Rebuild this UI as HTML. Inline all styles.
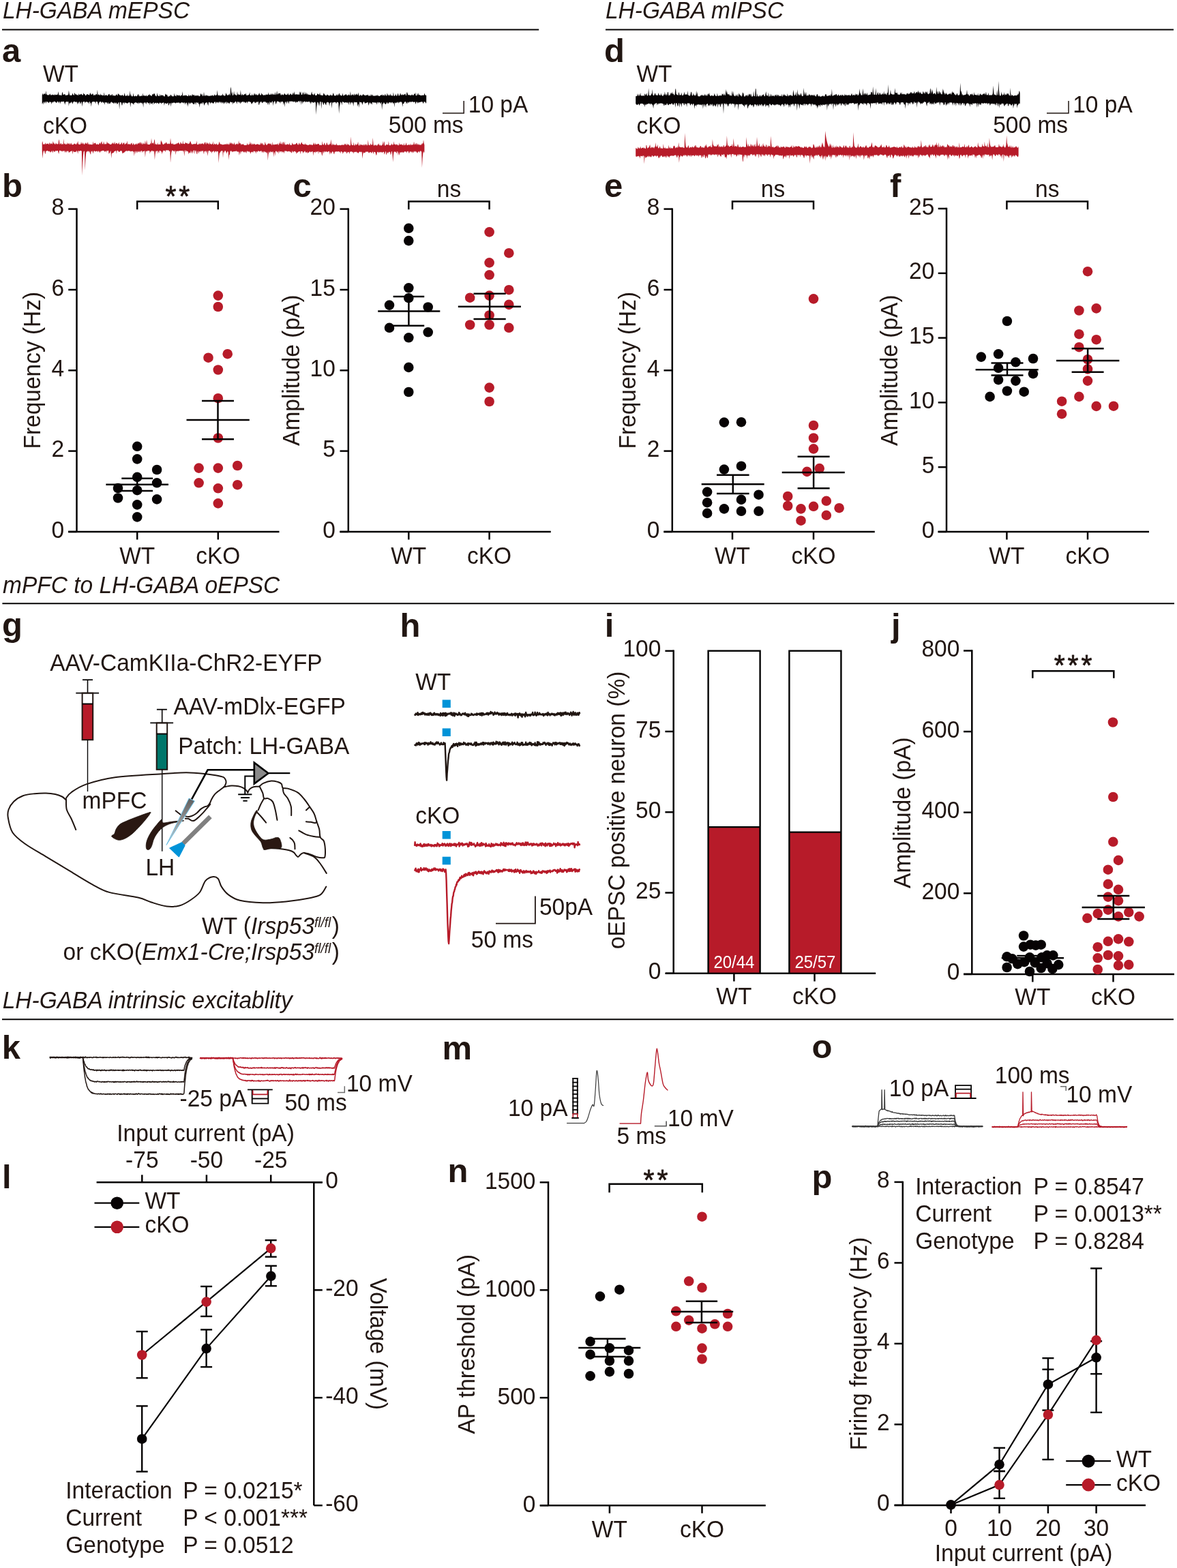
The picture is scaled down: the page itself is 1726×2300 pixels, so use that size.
<!DOCTYPE html>
<html><head><meta charset="utf-8"><title>Figure</title><style>html,body{margin:0;padding:0;background:#fff;overflow:hidden;}svg{display:block;}</style></head><body>
<svg width="1726" height="2300" viewBox="0 0 1726 2300" font-family="'Liberation Sans', Arial, Helvetica, sans-serif" font-size="33.5" fill="#211612">
<rect width="1726" height="2300" fill="#fff"/>
<text transform="translate(3.9 26.7) scale(1 1.045)" font-style="italic">LH-GABA mEPSC</text>
<line x1="3" y1="43.5" x2="790.2" y2="43.5" stroke="#050303" stroke-width="2"/>
<text transform="translate(888 26.7) scale(1 1.045)" font-style="italic">LH-GABA mIPSC</text>
<line x1="888" y1="43.5" x2="1721" y2="43.5" stroke="#050303" stroke-width="2"/>
<text transform="translate(4 870) scale(1 1.045)" font-style="italic">mPFC to LH-GABA oEPSC</text>
<line x1="3.4" y1="885.3" x2="1722" y2="885.3" stroke="#050303" stroke-width="2"/>
<text transform="translate(3.7 1478.5) scale(1 1.045)" font-style="italic">LH-GABA intrinsic excitablity</text>
<line x1="3" y1="1495.3" x2="1721" y2="1495.3" stroke="#050303" stroke-width="2"/>
<text transform="translate(3 91.2) scale(1 1.0)" font-weight="bold" font-size="49">a</text>
<text transform="translate(3 288.6) scale(1 1.0)" font-weight="bold" font-size="49">b</text>
<text transform="translate(429.5 288.6) scale(1 1.0)" font-weight="bold" font-size="49">c</text>
<text transform="translate(886 91.3) scale(1 1.0)" font-weight="bold" font-size="49">d</text>
<text transform="translate(886 288.6) scale(1 1.0)" font-weight="bold" font-size="49">e</text>
<text transform="translate(1305 288.6) scale(1 1.0)" font-weight="bold" font-size="49">f</text>
<text transform="translate(3 933.4) scale(1 1.0)" font-weight="bold" font-size="49">g</text>
<text transform="translate(586.5 934.3) scale(1 1.0)" font-weight="bold" font-size="49">h</text>
<text transform="translate(886.7 933.5) scale(1 1.0)" font-weight="bold" font-size="49">i</text>
<text transform="translate(1307 933.5) scale(1 1.0)" font-weight="bold" font-size="49">j</text>
<text transform="translate(2.8 1553.4) scale(1 1.0)" font-weight="bold" font-size="49">k</text>
<text transform="translate(3 1743.4) scale(1 1.0)" font-weight="bold" font-size="49">l</text>
<text transform="translate(648.5 1553.5) scale(1 1.0)" font-weight="bold" font-size="49">m</text>
<text transform="translate(656.5 1734.1) scale(1 1.0)" font-weight="bold" font-size="49">n</text>
<text transform="translate(1190.5 1552) scale(1 1.0)" font-weight="bold" font-size="49">o</text>
<text transform="translate(1190.5 1742.8) scale(1 1.0)" font-weight="bold" font-size="49">p</text>
<line x1="112.5" y1="305.4" x2="112.5" y2="780" stroke="#050303" stroke-width="2.5"/>
<line x1="100.2" y1="780" x2="112.5" y2="780" stroke="#050303" stroke-width="2.5"/>
<text transform="translate(94.1 788.5) scale(1 1.045)" text-anchor="end">0</text>
<line x1="100.2" y1="661.6" x2="112.5" y2="661.6" stroke="#050303" stroke-width="2.5"/>
<text transform="translate(94.1 670.1) scale(1 1.045)" text-anchor="end">2</text>
<line x1="100.2" y1="543.3" x2="112.5" y2="543.3" stroke="#050303" stroke-width="2.5"/>
<text transform="translate(94.1 551.8) scale(1 1.045)" text-anchor="end">4</text>
<line x1="100.2" y1="425" x2="112.5" y2="425" stroke="#050303" stroke-width="2.5"/>
<text transform="translate(94.1 433.5) scale(1 1.045)" text-anchor="end">6</text>
<line x1="100.2" y1="306.6" x2="112.5" y2="306.6" stroke="#050303" stroke-width="2.5"/>
<text transform="translate(94.1 315.1) scale(1 1.045)" text-anchor="end">8</text>
<line x1="100" y1="780" x2="409.5" y2="780" stroke="#050303" stroke-width="2.5"/>
<line x1="201.2" y1="780" x2="201.2" y2="791.5" stroke="#050303" stroke-width="2.5"/>
<line x1="319.8" y1="780" x2="319.8" y2="791.5" stroke="#050303" stroke-width="2.5"/>
<text transform="translate(201.2 826.7) scale(1 1.045)" text-anchor="middle">WT</text>
<text transform="translate(319.8 826.7) scale(1 1.045)" text-anchor="middle">cKO</text>
<text transform="translate(58.6 543.2) rotate(-90) scale(1 1.045)" text-anchor="middle">Frequency (Hz)</text>
<polyline points="201.2,307.3 201.2,295.5 319.8,295.5 319.8,307.3" fill="none" stroke="#050303" stroke-width="2.5" stroke-linejoin="miter"/>
<text transform="translate(262.3 302.1) scale(1 1.045)" text-anchor="middle" font-size="41" letter-spacing="3.9" stroke="#211612" stroke-width="0.75" stroke-linejoin="round">**</text>
<circle cx="201.2" cy="654.8" r="7.3" fill="#070304"/>
<circle cx="201.2" cy="673.4" r="7.3" fill="#070304"/>
<circle cx="230.1" cy="689" r="7.3" fill="#070304"/>
<circle cx="201.2" cy="699.9" r="7.3" fill="#070304"/>
<circle cx="230.1" cy="708.3" r="7.3" fill="#070304"/>
<circle cx="173" cy="716" r="7.3" fill="#070304"/>
<circle cx="201.2" cy="719.2" r="7.3" fill="#070304"/>
<circle cx="173" cy="730.5" r="7.3" fill="#070304"/>
<circle cx="230.1" cy="732.4" r="7.3" fill="#070304"/>
<circle cx="201.2" cy="740.4" r="7.3" fill="#070304"/>
<circle cx="201.2" cy="758.4" r="7.3" fill="#070304"/>
<circle cx="319.8" cy="433.6" r="7.3" fill="#B71B29"/>
<circle cx="319.8" cy="450" r="7.3" fill="#B71B29"/>
<circle cx="305.5" cy="524.7" r="7.3" fill="#B71B29"/>
<circle cx="333.7" cy="519.2" r="7.3" fill="#B71B29"/>
<circle cx="319.8" cy="542.5" r="7.3" fill="#B71B29"/>
<circle cx="319.8" cy="584.2" r="7.3" fill="#B71B29"/>
<circle cx="319.8" cy="642.5" r="7.3" fill="#B71B29"/>
<circle cx="291.6" cy="686.6" r="7.3" fill="#B71B29"/>
<circle cx="319.8" cy="686.6" r="7.3" fill="#B71B29"/>
<circle cx="348.2" cy="683" r="7.3" fill="#B71B29"/>
<circle cx="291.6" cy="708.3" r="7.3" fill="#B71B29"/>
<circle cx="319.8" cy="716.3" r="7.3" fill="#B71B29"/>
<circle cx="348.2" cy="711.2" r="7.3" fill="#B71B29"/>
<circle cx="319.8" cy="738.4" r="7.3" fill="#B71B29"/>
<line x1="155.4" y1="710.7" x2="247" y2="710.7" stroke="#050303" stroke-width="2.5"/>
<line x1="178.3" y1="701.8" x2="224.1" y2="701.8" stroke="#050303" stroke-width="2.5"/>
<line x1="178.3" y1="719.9" x2="224.1" y2="719.9" stroke="#050303" stroke-width="2.5"/>
<line x1="201.2" y1="701.8" x2="201.2" y2="719.9" stroke="#050303" stroke-width="2.5"/>
<line x1="273.5" y1="616" x2="365.8" y2="616" stroke="#050303" stroke-width="2.5"/>
<line x1="296" y1="588" x2="343" y2="588" stroke="#050303" stroke-width="2.5"/>
<line x1="296" y1="644.2" x2="343" y2="644.2" stroke="#050303" stroke-width="2.5"/>
<line x1="319.5" y1="588" x2="319.5" y2="644.2" stroke="#050303" stroke-width="2.5"/>
<line x1="510.8" y1="305.4" x2="510.8" y2="780" stroke="#050303" stroke-width="2.5"/>
<line x1="498.5" y1="780" x2="510.8" y2="780" stroke="#050303" stroke-width="2.5"/>
<text transform="translate(491.8 788.5) scale(1 1.045)" text-anchor="end">0</text>
<line x1="498.5" y1="661.6" x2="510.8" y2="661.6" stroke="#050303" stroke-width="2.5"/>
<text transform="translate(491.8 670.1) scale(1 1.045)" text-anchor="end">5</text>
<line x1="498.5" y1="543.3" x2="510.8" y2="543.3" stroke="#050303" stroke-width="2.5"/>
<text transform="translate(491.8 551.8) scale(1 1.045)" text-anchor="end">10</text>
<line x1="498.5" y1="425" x2="510.8" y2="425" stroke="#050303" stroke-width="2.5"/>
<text transform="translate(491.8 433.5) scale(1 1.045)" text-anchor="end">15</text>
<line x1="498.5" y1="306.6" x2="510.8" y2="306.6" stroke="#050303" stroke-width="2.5"/>
<text transform="translate(491.8 315.1) scale(1 1.045)" text-anchor="end">20</text>
<line x1="498.3" y1="780" x2="807.8" y2="780" stroke="#050303" stroke-width="2.5"/>
<line x1="599.3" y1="780" x2="599.3" y2="791.5" stroke="#050303" stroke-width="2.5"/>
<line x1="717.6" y1="780" x2="717.6" y2="791.5" stroke="#050303" stroke-width="2.5"/>
<text transform="translate(599.3 826.7) scale(1 1.045)" text-anchor="middle">WT</text>
<text transform="translate(717.6 826.7) scale(1 1.045)" text-anchor="middle">cKO</text>
<text transform="translate(439.1 543.2) rotate(-90) scale(1 1.045)" text-anchor="middle">Amplitude (pA)</text>
<polyline points="599.3,307.3 599.3,295.5 717.6,295.5 717.6,307.3" fill="none" stroke="#050303" stroke-width="2.5" stroke-linejoin="miter"/>
<text transform="translate(658.5 288.6) scale(1 1.045)" text-anchor="middle">ns</text>
<circle cx="599.3" cy="334.8" r="7.3" fill="#070304"/>
<circle cx="599.3" cy="353.1" r="7.3" fill="#070304"/>
<circle cx="599.3" cy="422.3" r="7.3" fill="#070304"/>
<circle cx="599.3" cy="437.2" r="7.3" fill="#070304"/>
<circle cx="571" cy="447.6" r="7.3" fill="#070304"/>
<circle cx="627.7" cy="450.5" r="7.3" fill="#070304"/>
<circle cx="571" cy="480.8" r="7.3" fill="#070304"/>
<circle cx="627.7" cy="487.3" r="7.3" fill="#070304"/>
<circle cx="599.3" cy="495.3" r="7.3" fill="#070304"/>
<circle cx="599.3" cy="538.9" r="7.3" fill="#070304"/>
<circle cx="599.3" cy="575" r="7.3" fill="#070304"/>
<circle cx="717.6" cy="340.4" r="7.3" fill="#B71B29"/>
<circle cx="746.3" cy="371.2" r="7.3" fill="#B71B29"/>
<circle cx="717.6" cy="385.4" r="7.3" fill="#B71B29"/>
<circle cx="717.6" cy="403.3" r="7.3" fill="#B71B29"/>
<circle cx="746.3" cy="425.2" r="7.3" fill="#B71B29"/>
<circle cx="689.2" cy="436.7" r="7.3" fill="#B71B29"/>
<circle cx="717.6" cy="433.6" r="7.3" fill="#B71B29"/>
<circle cx="746.3" cy="446.9" r="7.3" fill="#B71B29"/>
<circle cx="717.6" cy="462.5" r="7.3" fill="#B71B29"/>
<circle cx="689.2" cy="476.5" r="7.3" fill="#B71B29"/>
<circle cx="717.6" cy="476.5" r="7.3" fill="#B71B29"/>
<circle cx="746.3" cy="480.8" r="7.3" fill="#B71B29"/>
<circle cx="717.6" cy="568.6" r="7.3" fill="#B71B29"/>
<circle cx="717.6" cy="589" r="7.3" fill="#B71B29"/>
<line x1="554.2" y1="456.5" x2="645.3" y2="456.5" stroke="#050303" stroke-width="2.5"/>
<line x1="576.6" y1="435" x2="622.2" y2="435" stroke="#050303" stroke-width="2.5"/>
<line x1="576.6" y1="477.7" x2="622.2" y2="477.7" stroke="#050303" stroke-width="2.5"/>
<line x1="599.4" y1="435" x2="599.4" y2="477.7" stroke="#050303" stroke-width="2.5"/>
<line x1="671.8" y1="449.8" x2="763.9" y2="449.8" stroke="#050303" stroke-width="2.5"/>
<line x1="694.5" y1="430.7" x2="741.7" y2="430.7" stroke="#050303" stroke-width="2.5"/>
<line x1="694.5" y1="468" x2="741.7" y2="468" stroke="#050303" stroke-width="2.5"/>
<line x1="718.1" y1="430.7" x2="718.1" y2="468" stroke="#050303" stroke-width="2.5"/>
<line x1="985.8" y1="305.4" x2="985.8" y2="780" stroke="#050303" stroke-width="2.5"/>
<line x1="973.5" y1="780" x2="985.8" y2="780" stroke="#050303" stroke-width="2.5"/>
<text transform="translate(967.3 788.5) scale(1 1.045)" text-anchor="end">0</text>
<line x1="973.5" y1="661.6" x2="985.8" y2="661.6" stroke="#050303" stroke-width="2.5"/>
<text transform="translate(967.3 670.1) scale(1 1.045)" text-anchor="end">2</text>
<line x1="973.5" y1="543.3" x2="985.8" y2="543.3" stroke="#050303" stroke-width="2.5"/>
<text transform="translate(967.3 551.8) scale(1 1.045)" text-anchor="end">4</text>
<line x1="973.5" y1="425" x2="985.8" y2="425" stroke="#050303" stroke-width="2.5"/>
<text transform="translate(967.3 433.5) scale(1 1.045)" text-anchor="end">6</text>
<line x1="973.5" y1="306.6" x2="985.8" y2="306.6" stroke="#050303" stroke-width="2.5"/>
<text transform="translate(967.3 315.1) scale(1 1.045)" text-anchor="end">8</text>
<line x1="973.3" y1="780" x2="1282.8" y2="780" stroke="#050303" stroke-width="2.5"/>
<line x1="1074" y1="780" x2="1074" y2="791.5" stroke="#050303" stroke-width="2.5"/>
<line x1="1193" y1="780" x2="1193" y2="791.5" stroke="#050303" stroke-width="2.5"/>
<text transform="translate(1074 826.7) scale(1 1.045)" text-anchor="middle">WT</text>
<text transform="translate(1193 826.7) scale(1 1.045)" text-anchor="middle">cKO</text>
<text transform="translate(932.3 543.2) rotate(-90) scale(1 1.045)" text-anchor="middle">Frequency (Hz)</text>
<polyline points="1074,307.3 1074,295.5 1193,295.5 1193,307.3" fill="none" stroke="#050303" stroke-width="2.5" stroke-linejoin="miter"/>
<text transform="translate(1133.5 288.6) scale(1 1.045)" text-anchor="middle">ns</text>
<circle cx="1061.9" cy="619.6" r="7.3" fill="#070304"/>
<circle cx="1087" cy="619.2" r="7.3" fill="#070304"/>
<circle cx="1087" cy="683.7" r="7.3" fill="#070304"/>
<circle cx="1061.9" cy="688.6" r="7.3" fill="#070304"/>
<circle cx="1037.1" cy="721.6" r="7.3" fill="#070304"/>
<circle cx="1112.5" cy="725.7" r="7.3" fill="#070304"/>
<circle cx="1087" cy="732.9" r="7.3" fill="#070304"/>
<circle cx="1037.1" cy="737.2" r="7.3" fill="#070304"/>
<circle cx="1061.9" cy="746.4" r="7.3" fill="#070304"/>
<circle cx="1087" cy="749.8" r="7.3" fill="#070304"/>
<circle cx="1112.5" cy="749.8" r="7.3" fill="#070304"/>
<circle cx="1037.1" cy="752.9" r="7.3" fill="#070304"/>
<circle cx="1193" cy="438.4" r="7.3" fill="#B71B29"/>
<circle cx="1193" cy="624" r="7.3" fill="#B71B29"/>
<circle cx="1193" cy="642.5" r="7.3" fill="#B71B29"/>
<circle cx="1193" cy="658.4" r="7.3" fill="#B71B29"/>
<circle cx="1201.7" cy="687.1" r="7.3" fill="#B71B29"/>
<circle cx="1183.4" cy="691.9" r="7.3" fill="#B71B29"/>
<circle cx="1155.2" cy="728" r="7.3" fill="#B71B29"/>
<circle cx="1155.2" cy="742" r="7.3" fill="#B71B29"/>
<circle cx="1211.8" cy="734.8" r="7.3" fill="#B71B29"/>
<circle cx="1193" cy="742.8" r="7.3" fill="#B71B29"/>
<circle cx="1174.5" cy="746.4" r="7.3" fill="#B71B29"/>
<circle cx="1230.6" cy="745.2" r="7.3" fill="#B71B29"/>
<circle cx="1211.8" cy="755.8" r="7.3" fill="#B71B29"/>
<circle cx="1174.5" cy="763.7" r="7.3" fill="#B71B29"/>
<line x1="1028.7" y1="710.2" x2="1120.7" y2="710.2" stroke="#050303" stroke-width="2.5"/>
<line x1="1051" y1="696.7" x2="1098.6" y2="696.7" stroke="#050303" stroke-width="2.5"/>
<line x1="1051" y1="724" x2="1098.6" y2="724" stroke="#050303" stroke-width="2.5"/>
<line x1="1074.8" y1="696.7" x2="1074.8" y2="724" stroke="#050303" stroke-width="2.5"/>
<line x1="1146.7" y1="693.1" x2="1238.8" y2="693.1" stroke="#050303" stroke-width="2.5"/>
<line x1="1169.6" y1="669.8" x2="1216.6" y2="669.8" stroke="#050303" stroke-width="2.5"/>
<line x1="1169.6" y1="716.3" x2="1216.6" y2="716.3" stroke="#050303" stroke-width="2.5"/>
<line x1="1193.1" y1="669.8" x2="1193.1" y2="716.3" stroke="#050303" stroke-width="2.5"/>
<line x1="1388" y1="304.8" x2="1388" y2="780" stroke="#050303" stroke-width="2.5"/>
<line x1="1375.7" y1="780" x2="1388" y2="780" stroke="#050303" stroke-width="2.5"/>
<text transform="translate(1370.3 788.5) scale(1 1.045)" text-anchor="end">0</text>
<line x1="1375.7" y1="685.2" x2="1388" y2="685.2" stroke="#050303" stroke-width="2.5"/>
<text transform="translate(1370.3 693.7) scale(1 1.045)" text-anchor="end">5</text>
<line x1="1375.7" y1="590.4" x2="1388" y2="590.4" stroke="#050303" stroke-width="2.5"/>
<text transform="translate(1370.3 598.9) scale(1 1.045)" text-anchor="end">10</text>
<line x1="1375.7" y1="495.6" x2="1388" y2="495.6" stroke="#050303" stroke-width="2.5"/>
<text transform="translate(1370.3 504.1) scale(1 1.045)" text-anchor="end">15</text>
<line x1="1375.7" y1="400.8" x2="1388" y2="400.8" stroke="#050303" stroke-width="2.5"/>
<text transform="translate(1370.3 409.3) scale(1 1.045)" text-anchor="end">20</text>
<line x1="1375.7" y1="306" x2="1388" y2="306" stroke="#050303" stroke-width="2.5"/>
<text transform="translate(1370.3 314.5) scale(1 1.045)" text-anchor="end">25</text>
<line x1="1375.5" y1="780" x2="1685" y2="780" stroke="#050303" stroke-width="2.5"/>
<line x1="1476.4" y1="780" x2="1476.4" y2="791.5" stroke="#050303" stroke-width="2.5"/>
<line x1="1595" y1="780" x2="1595" y2="791.5" stroke="#050303" stroke-width="2.5"/>
<text transform="translate(1476.4 826.7) scale(1 1.045)" text-anchor="middle">WT</text>
<text transform="translate(1595 826.7) scale(1 1.045)" text-anchor="middle">cKO</text>
<text transform="translate(1316.3 543.2) rotate(-90) scale(1 1.045)" text-anchor="middle">Amplitude (pA)</text>
<polyline points="1476.4,307.3 1476.4,295.5 1595,295.5 1595,307.3" fill="none" stroke="#050303" stroke-width="2.5" stroke-linejoin="miter"/>
<text transform="translate(1535.7 288.6) scale(1 1.045)" text-anchor="middle">ns</text>
<circle cx="1476.9" cy="471" r="7.3" fill="#070304"/>
<circle cx="1438.8" cy="523.6" r="7.3" fill="#070304"/>
<circle cx="1464.1" cy="519.3" r="7.3" fill="#070304"/>
<circle cx="1515" cy="526" r="7.3" fill="#070304"/>
<circle cx="1489.4" cy="531.3" r="7.3" fill="#070304"/>
<circle cx="1464.1" cy="539.8" r="7.3" fill="#070304"/>
<circle cx="1515" cy="548.2" r="7.3" fill="#070304"/>
<circle cx="1464.1" cy="557.1" r="7.3" fill="#070304"/>
<circle cx="1489.4" cy="558.6" r="7.3" fill="#070304"/>
<circle cx="1476.9" cy="573.5" r="7.3" fill="#070304"/>
<circle cx="1501.7" cy="574.7" r="7.3" fill="#070304"/>
<circle cx="1451.6" cy="581.9" r="7.3" fill="#070304"/>
<circle cx="1595" cy="398.2" r="7.3" fill="#B71B29"/>
<circle cx="1582.4" cy="455.5" r="7.3" fill="#B71B29"/>
<circle cx="1607.7" cy="452.4" r="7.3" fill="#B71B29"/>
<circle cx="1582.4" cy="490.2" r="7.3" fill="#B71B29"/>
<circle cx="1607.7" cy="498.2" r="7.3" fill="#B71B29"/>
<circle cx="1582.4" cy="509.2" r="7.3" fill="#B71B29"/>
<circle cx="1595" cy="527.2" r="7.3" fill="#B71B29"/>
<circle cx="1595" cy="541.4" r="7.3" fill="#B71B29"/>
<circle cx="1595" cy="558.6" r="7.3" fill="#B71B29"/>
<circle cx="1582.4" cy="581.9" r="7.3" fill="#B71B29"/>
<circle cx="1557.1" cy="588.7" r="7.3" fill="#B71B29"/>
<circle cx="1607.7" cy="595.9" r="7.3" fill="#B71B29"/>
<circle cx="1633" cy="595.7" r="7.3" fill="#B71B29"/>
<circle cx="1557.1" cy="607.2" r="7.3" fill="#B71B29"/>
<line x1="1430.6" y1="542.2" x2="1522.7" y2="542.2" stroke="#050303" stroke-width="2.5"/>
<line x1="1453.5" y1="532.5" x2="1500.5" y2="532.5" stroke="#050303" stroke-width="2.5"/>
<line x1="1453.5" y1="550.6" x2="1500.5" y2="550.6" stroke="#050303" stroke-width="2.5"/>
<line x1="1477" y1="532.5" x2="1477" y2="550.6" stroke="#050303" stroke-width="2.5"/>
<line x1="1549" y1="528.9" x2="1641.4" y2="528.9" stroke="#050303" stroke-width="2.5"/>
<line x1="1571.6" y1="511.3" x2="1618.6" y2="511.3" stroke="#050303" stroke-width="2.5"/>
<line x1="1571.6" y1="545.8" x2="1618.6" y2="545.8" stroke="#050303" stroke-width="2.5"/>
<line x1="1595.1" y1="511.3" x2="1595.1" y2="545.8" stroke="#050303" stroke-width="2.5"/>
<text transform="translate(63 119.8) scale(1 1.045)">WT</text>
<text transform="translate(63 196) scale(1 1.045)">cKO</text>
<path d="M61.7 139.9 62.4 136.5 63.1 139.2 63.8 138.6 64.5 137.2 65.2 137.9 65.9 136.9 66.6 138.9 67.3 132.9 68 138.2 68.7 138.6 69.4 139.2 70.1 139.8 70.8 138.9 71.5 139.8 72.2 137.7 72.9 139.8 73.6 137.1 74.3 139.3 75 139.9 75.7 138.8 76.4 139.8 77.1 138.3 77.8 138.9 78.5 139.2 79.2 139.8 79.9 139.3 80.6 137.9 81.3 139.8 82 138.7 82.7 139.3 83.4 138.8 84.1 139.4 84.8 137.8 85.5 133.9 86.2 139 86.9 139.8 87.6 139.6 88.3 139.1 89 139.9 89.7 140 90.4 139.7 91.1 136 91.8 135.1 92.5 139.3 93.2 138.6 93.9 139.1 94.6 138.1 95.3 138.1 96 139.8 96.7 139.9 97.4 139.8 98.1 139.3 98.8 139.6 99.5 139.5 100.2 138.8 100.9 132.4 101.6 137.2 102.3 140 103 139.6 103.7 139.8 104.4 140 105.1 140.1 105.8 138.6 106.5 136.4 107.2 139 107.9 139.2 108.6 140 109.3 135.7 110 137.3 110.7 139.1 111.4 137.8 112.1 138.9 112.8 139.4 113.5 138.7 114.2 140.1 114.9 139.7 115.6 137 116.3 139.2 117 138.6 117.7 139 118.4 137.5 119.1 138.7 119.8 137.4 120.5 139.5 121.2 139.4 121.9 139.3 122.6 136.1 123.3 138.1 124 137.9 124.7 139.1 125.4 140.2 126.1 140.2 126.8 138.5 127.5 138.6 128.2 138 128.9 138.6 129.6 138.9 130.3 139 131 140.1 131.7 137.5 132.4 135.8 133.1 138.3 133.8 138.6 134.5 139 135.2 138.2 135.9 137 136.6 137.9 137.3 140 138 140 138.7 138.6 139.4 140 140.1 139.1 140.8 137.9 141.5 138.3 142.2 138.9 142.9 131.4 143.6 140.1 144.3 138 145 139.3 145.7 139.2 146.4 140.2 147.1 136.9 147.8 139.4 148.5 138.9 149.2 140.2 149.9 138.8 150.6 140.3 151.3 139.9 152 140 152.7 135.2 153.4 140.4 154.1 140.3 154.8 139.6 155.5 139.3 156.2 139.2 156.9 140.4 157.6 140.5 158.3 139.9 159 137.9 159.7 138.6 160.4 137.4 161.1 140.4 161.8 139.5 162.5 138.9 163.2 140.5 163.9 138.8 164.6 137.7 165.3 140.2 166 140.6 166.7 139.5 167.4 140.6 168.1 140.6 168.8 140.3 169.5 140.5 170.2 138.4 170.9 138.6 171.6 139.4 172.3 140.8 173 136.7 173.7 138.1 174.4 138.5 175.1 138.7 175.8 140.3 176.5 139.2 177.2 140.3 177.9 140.2 178.6 139.7 179.3 139.3 180 139.3 180.7 141.1 181.4 140.7 182.1 139 182.8 136 183.5 140.5 184.2 140.4 184.9 141.1 185.6 140.1 186.3 140.8 187 138 187.7 141.1 188.4 141.1 189.1 139.2 189.8 141.2 190.5 132.8 191.2 141.3 191.9 137.4 192.6 140.5 193.3 141.4 194 141.1 194.7 141.4 195.4 136.4 196.1 140.8 196.8 140.9 197.5 141.4 198.2 141.1 198.9 140 199.6 141.3 200.3 141.3 201 141 201.7 139.3 202.4 137.4 203.1 141.3 203.8 137.9 204.5 141.3 205.2 141.2 205.9 140.4 206.6 141.2 207.3 140.1 208 140.8 208.7 141.1 209.4 136.6 210.1 140.9 210.8 140.1 211.5 139.4 212.2 140.7 212.9 141.1 213.6 140.6 214.3 139.1 215 141.3 215.7 141.1 216.4 140.7 217.1 139.7 217.8 139.5 218.5 139.2 219.2 137.5 219.9 140.4 220.6 139.3 221.3 140.6 222 140.6 222.7 141 223.4 137.4 224.1 138.7 224.8 138.5 225.5 136.9 226.2 138.1 226.9 136.8 227.6 140.5 228.3 140.3 229 141.4 229.7 141.1 230.4 136.1 231.1 139.7 231.8 140.2 232.5 140.8 233.2 141.1 233.9 140.9 234.6 137.8 235.3 141.4 236 139.3 236.7 139.7 237.4 139.5 238.1 140.1 238.8 139.8 239.5 140.1 240.2 141.4 240.9 141.2 241.6 141.5 242.3 138.6 243 137.2 243.7 139 244.4 139.5 245.1 138.6 245.8 141.4 246.5 141.4 247.2 141.4 247.9 141.4 248.6 140.3 249.3 141.5 250 139.1 250.7 139 251.4 139.9 252.1 141.6 252.8 140.9 253.5 141.3 254.2 141.6 254.9 140.9 255.6 136.5 256.3 141.2 257 139.6 257.7 140.9 258.4 141.5 259.1 138.2 259.8 140 260.5 139.7 261.2 139.9 261.9 140.2 262.6 139.7 263.3 139.3 264 141.2 264.7 141 265.4 139.8 266.1 139.6 266.8 140.3 267.5 134.1 268.2 140.5 268.9 140.7 269.6 139.7 270.3 140.6 271 138.9 271.7 141 272.4 139.2 273.1 139.8 273.8 140.4 274.5 140.8 275.2 141.1 275.9 141.1 276.6 138.2 277.3 140.7 278 141.1 278.7 139.2 279.4 140.1 280.1 140.3 280.8 141.2 281.5 138.9 282.2 137.8 282.9 140.5 283.6 139.3 284.3 139.6 285 138.7 285.7 141.2 286.4 140.2 287.1 140.5 287.8 139.3 288.5 140.9 289.2 139.4 289.9 140.9 290.6 139 291.3 141.3 292 140.6 292.7 141.4 293.4 140.6 294.1 137.6 294.8 137.3 295.5 139.9 296.2 137.2 296.9 140.1 297.6 141.2 298.3 140.3 299 134.7 299.7 139.9 300.4 141.3 301.1 139 301.8 141.1 302.5 138.9 303.2 140.2 303.9 140.8 304.6 139.5 305.3 141.1 306 140.3 306.7 140.9 307.4 140.9 308.1 139.7 308.8 141 309.5 140.3 310.2 140 310.9 140.4 311.6 139 312.3 140.4 313 140.9 313.7 140 314.4 137.9 315.1 140 315.8 140.2 316.5 139.6 317.2 138.7 317.9 140.4 318.6 131.9 319.3 138.2 320 140.5 320.7 139.9 321.4 138.9 322.1 140.5 322.8 140.4 323.5 140.3 324.2 139.3 324.9 140.5 325.6 139.9 326.3 137.1 327 139.8 327.7 139.2 328.4 140.5 329.1 140.5 329.8 140.4 330.5 140.2 331.2 135.7 331.9 138 332.6 138.6 333.3 140.3 334 139.5 334.7 139 335.4 140 336.1 137 336.8 138.8 337.5 140.3 338.2 127.2 338.9 129.9 339.6 138.5 340.3 134.3 341 139.8 341.7 140.2 342.4 138.3 343.1 133.4 343.8 139.7 344.5 137.4 345.2 138.9 345.9 139.5 346.6 140 347.3 139.8 348 134 348.7 139.8 349.4 137.2 350.1 139.2 350.8 139.2 351.5 138.4 352.2 139 352.9 131.9 353.6 139.7 354.3 140 355 137.5 355.7 138.8 356.4 140 357.1 138.9 357.8 139.2 358.5 137.5 359.2 138.2 359.9 138.8 360.6 136.3 361.3 139.7 362 140 362.7 139.4 363.4 139.7 364.1 139.3 364.8 139.3 365.5 138.2 366.2 135.2 366.9 140 367.6 139.7 368.3 140.1 369 140.1 369.7 137.3 370.4 139.9 371.1 139.7 371.8 139.9 372.5 136.7 373.2 139.5 373.9 135.9 374.6 139.7 375.3 138.5 376 138 376.7 139.8 377.4 139.7 378.1 138.4 378.8 139.9 379.5 137.7 380.2 136.1 380.9 138.6 381.6 139.5 382.3 139.8 383 138.9 383.7 135.9 384.4 138.6 385.1 138.2 385.8 139.7 386.5 139.7 387.2 139.6 387.9 139.3 388.6 139.5 389.3 139.7 390 138.1 390.7 139 391.4 139.1 392.1 138.3 392.8 139.5 393.5 135.3 394.2 139.5 394.9 138.2 395.6 139.1 396.3 138.6 397 139.5 397.7 136.5 398.4 139.4 399.1 136.7 399.8 139.4 400.5 136.9 401.2 138.7 401.9 139.2 402.6 138.7 403.3 134.9 404 138.2 404.7 139.6 405.4 137.7 406.1 132.9 406.8 137.8 407.5 139 408.2 137 408.9 137.1 409.6 136.9 410.3 137.6 411 135.9 411.7 139.6 412.4 139.7 413.1 137.7 413.8 139.6 414.5 138.2 415.2 139.4 415.9 139.5 416.6 138.1 417.3 136.5 418 138.3 418.7 139.1 419.4 138.7 420.1 139.1 420.8 139.4 421.5 137 422.2 139.6 422.9 136 423.6 139.6 424.3 139.3 425 139.3 425.7 137.6 426.4 137.2 427.1 138.6 427.8 139.4 428.5 138.9 429.2 137.5 429.9 135.4 430.6 139.4 431.3 133.9 432 137.2 432.7 139.1 433.4 138.4 434.1 138.6 434.8 138.2 435.5 138.6 436.2 138.3 436.9 139.3 437.6 137.9 438.3 138.7 439 139.2 439.7 134.1 440.4 136.4 441.1 134.1 441.8 139.2 442.5 138.7 443.2 139.3 443.9 134.9 444.6 136.4 445.3 139.5 446 134.1 446.7 138.6 447.4 138.2 448.1 137.5 448.8 135 449.5 139.2 450.2 137.3 450.9 137.6 451.6 139.6 452.3 138.3 453 138.7 453.7 139.6 454.4 138.7 455.1 139.2 455.8 139.7 456.5 136.7 457.2 134.2 457.9 138.4 458.6 138 459.3 140.1 460 137.7 460.7 139.3 461.4 136.1 462.1 139.6 462.8 140.1 463.5 140.1 464.2 140.1 464.9 138.8 465.6 136.8 466.3 138.4 467 137.6 467.7 139.2 468.4 138.4 469.1 135.6 469.8 140.2 470.5 138.9 471.2 139.6 471.9 140.1 472.6 139.9 473.3 140.2 474 138.7 474.7 136.3 475.4 137.6 476.1 139.5 476.8 138.4 477.5 140.3 478.2 140.3 478.9 140.1 479.6 138.4 480.3 138.7 481 140 481.7 139.4 482.4 140.4 483.1 139.9 483.8 140.3 484.5 138.3 485.2 140.5 485.9 139.3 486.6 139.9 487.3 140.6 488 138.5 488.7 136.1 489.4 138.1 490.1 140.6 490.8 140.2 491.5 140.3 492.2 140.5 492.9 140 493.6 138 494.3 140.1 495 140.3 495.7 137.6 496.4 140.4 497.1 137 497.8 137 498.5 139.8 499.2 139 499.9 140.5 500.6 140.5 501.3 140 502 139.6 502.7 136.6 503.4 140.4 504.1 140.4 504.8 140.1 505.5 138.8 506.2 139.8 506.9 138.3 507.6 138 508.3 139.6 509 140.2 509.7 139.7 510.4 139.6 511.1 139.6 511.8 138 512.5 140.1 513.2 139.9 513.9 134 514.6 139.8 515.3 140.2 516 138.7 516.7 138.6 517.4 138.5 518.1 140.4 518.8 138.9 519.5 137.1 520.2 140.4 520.9 138.7 521.6 138.2 522.3 139.6 523 137 523.7 138.3 524.4 139.7 525.1 138.5 525.8 135.6 526.5 140.4 527.2 140.6 527.9 140.2 528.6 138.4 529.3 139.8 530 140.1 530.7 140.6 531.4 139.7 532.1 138.8 532.8 137.7 533.5 139.6 534.2 139.3 534.9 139.7 535.6 140.4 536.3 139.7 537 139.5 537.7 139.6 538.4 140.1 539.1 138.4 539.8 139.3 540.5 140.8 541.2 140.8 541.9 140.1 542.6 140.6 543.3 140.7 544 137.4 544.7 140.8 545.4 139.2 546.1 138.6 546.8 140.8 547.5 140.7 548.2 140.1 548.9 140.8 549.6 140.8 550.3 140.8 551 139.5 551.7 140.6 552.4 140.6 553.1 138.4 553.8 141 554.5 139.5 555.2 140.9 555.9 140.8 556.6 140.9 557.3 140.6 558 139.7 558.7 139.6 559.4 139 560.1 140.6 560.8 137.9 561.5 140.8 562.2 138.8 562.9 140 563.6 140.7 564.3 139 565 137.6 565.7 140.3 566.4 140.4 567.1 140.6 567.8 136.5 568.5 138.4 569.2 140.8 569.9 139.4 570.6 138.6 571.3 140.4 572 140.1 572.7 137.3 573.4 140 574.1 140.3 574.8 140.3 575.5 140.6 576.2 140.4 576.9 135.3 577.6 140.5 578.3 140.9 579 140.3 579.7 139.7 580.4 137.2 581.1 140.8 581.8 140.6 582.5 140.2 583.2 137.6 583.9 136.9 584.6 140.6 585.3 140.3 586 140.3 586.7 137.3 587.4 136.7 588.1 140.3 588.8 138.7 589.5 138.6 590.2 140 590.9 137.9 591.6 139.2 592.3 139.4 593 138.3 593.7 138.1 594.4 137.2 595.1 140.2 595.8 139.9 596.5 135.6 597.2 135.5 597.9 137.9 598.6 139.9 599.3 139.1 600 139 600.7 139.8 601.4 139.7 602.1 139.6 602.8 140.3 603.5 139.1 604.2 138.2 604.9 140.3 605.6 139.1 606.3 140.2 607 138.5 607.7 137.6 608.4 137.9 609.1 135.5 609.8 140.2 610.5 140.3 611.2 140.3 611.9 136.2 612.6 140.3 613.3 136.1 614 139.5 614.7 139.3 615.4 138.8 616.1 140 616.8 139.8 617.5 140.2 618.2 139.8 618.9 140 619.6 139.5 620.3 140.1 621 139.5 621.7 139.7 622.4 136.4 623.1 138.5 623.8 140.1 624.5 139.5 625.2 140 625.2 150.2 624.5 151.9 623.8 149 623.1 150.6 622.4 148.9 621.7 148.9 621 151.8 620.3 151.4 619.6 149.6 618.9 149.3 618.2 148.9 617.5 149.7 616.8 149.6 616.1 149.7 615.4 150.1 614.7 149.7 614 151.5 613.3 149.2 612.6 151.9 611.9 149.7 611.2 149.2 610.5 149.5 609.8 152.9 609.1 150.9 608.4 149.1 607.7 149.8 607 149.5 606.3 150.2 605.6 149.1 604.9 149.1 604.2 149.4 603.5 149.1 602.8 150.4 602.1 149.1 601.4 149.6 600.7 149.1 600 150.7 599.3 150.2 598.6 149.3 597.9 152.7 597.2 149.2 596.5 151 595.8 152.4 595.1 149.1 594.4 149.2 593.7 149.6 593 149.6 592.3 152 591.6 151.9 590.9 152 590.2 156.8 589.5 150.5 588.8 149.4 588.1 149.4 587.4 149.5 586.7 149.5 586 149.5 585.3 150.3 584.6 151.7 583.9 149.5 583.2 149.6 582.5 151 581.8 150.4 581.1 150.1 580.4 151.4 579.7 151.2 579 149.7 578.3 157.3 577.6 150.4 576.9 151 576.2 152.2 575.5 149.6 574.8 150.4 574.1 149.6 573.4 152 572.7 150 572 149.7 571.3 150.7 570.6 149.8 569.9 151 569.2 152.2 568.5 152 567.8 149.6 567.1 150.7 566.4 151.9 565.7 152.9 565 152.8 564.3 151.9 563.6 151.3 562.9 149.6 562.2 152.3 561.5 151.5 560.8 153.7 560.1 161.3 559.4 149.7 558.7 150.2 558 152.9 557.3 150.8 556.6 150.4 555.9 149.7 555.2 149.8 554.5 152.3 553.8 149.8 553.1 149.7 552.4 153.8 551.7 150.8 551 150.2 550.3 151.1 549.6 150.1 548.9 150.3 548.2 150.9 547.5 150 546.8 149.9 546.1 149.8 545.4 153.8 544.7 152.1 544 151 543.3 152.6 542.6 150 541.9 150.4 541.2 152.6 540.5 155.1 539.8 149.9 539.1 149.9 538.4 150.6 537.7 150.6 537 151.4 536.3 150.4 535.6 152.1 534.9 151.3 534.2 149.6 533.5 149.3 532.8 149.7 532.1 150.9 531.4 154 530.7 151.6 530 149.7 529.3 150 528.6 150.2 527.9 149.4 527.2 149.4 526.5 158.3 525.8 152.1 525.1 153.2 524.4 156.5 523.7 150.4 523 149.7 522.3 149.9 521.6 150 520.9 150.4 520.2 149.6 519.5 149.6 518.8 151.5 518.1 156 517.4 149.3 516.7 151.9 516 149.6 515.3 150.3 514.6 150.4 513.9 154.2 513.2 149.8 512.5 149.4 511.8 151 511.1 153.9 510.4 149.3 509.7 151.4 509 149.2 508.3 151.2 507.6 150 506.9 149.9 506.2 150.2 505.5 151.1 504.8 150.1 504.1 150.2 503.4 149.4 502.7 149.3 502 149.3 501.3 154.4 500.6 150.7 499.9 150 499.2 149.2 498.5 153.6 497.8 156.5 497.1 166.8 496.4 151.5 495.7 149.7 495 150 494.3 149.6 493.6 150.7 492.9 152.4 492.2 149.5 491.5 149.9 490.8 150 490.1 149.4 489.4 149.9 488.7 150.7 488 150.6 487.3 149.9 486.6 158.9 485.9 150.4 485.2 149.6 484.5 151.5 483.8 149.9 483.1 155.7 482.4 151.4 481.7 150.3 481 149.8 480.3 149.5 479.6 150.9 478.9 149.5 478.2 154.6 477.5 153.6 476.8 151.7 476.1 151.3 475.4 149.9 474.7 153.7 474 153.5 473.3 150.8 472.6 149.4 471.9 149.8 471.2 159.7 470.5 148.9 469.8 149.1 469.1 149.8 468.4 156.1 467.7 149.5 467 155.4 466.3 150 465.6 149.4 464.9 151.2 464.2 157.2 463.5 168.6 462.8 149 462.1 150.9 461.4 149 460.7 150.7 460 149.8 459.3 151.2 458.6 150.1 457.9 150.3 457.2 149 456.5 150.2 455.8 153 455.1 149.3 454.4 150.9 453.7 148.9 453 148.5 452.3 149.3 451.6 149.9 450.9 148.9 450.2 149.6 449.5 148.4 448.8 150.2 448.1 149.7 447.4 148.5 446.7 148.7 446 148.8 445.3 150.1 444.6 148.6 443.9 152.7 443.2 149.6 442.5 148.1 441.8 153.9 441.1 148.1 440.4 148.1 439.7 150.7 439 148.1 438.3 148.3 437.6 148.7 436.9 148.8 436.2 149.8 435.5 150.6 434.8 148.5 434.1 149.9 433.4 151 432.7 148.3 432 150 431.3 148.6 430.6 149.9 429.9 148.2 429.2 149.3 428.5 149.1 427.8 148.2 427.1 149 426.4 148.2 425.7 149 425 148.7 424.3 148.3 423.6 152.6 422.9 150.3 422.2 148.4 421.5 148.6 420.8 152.4 420.1 150.3 419.4 148.7 418.7 149.6 418 150.9 417.3 156.9 416.6 148.8 415.9 154.2 415.2 150.4 414.5 149 413.8 149.1 413.1 148.6 412.4 150.5 411.7 148.6 411 152.3 410.3 149.3 409.6 149.7 408.9 149.4 408.2 148.7 407.5 148.8 406.8 148.5 406.1 148.7 405.4 150.8 404.7 153.2 404 150.7 403.3 148.3 402.6 148.2 401.9 150.1 401.2 149.4 400.5 155.5 399.8 148.6 399.1 148.4 398.4 150.1 397.7 151.5 397 149.5 396.3 150.7 395.6 148.4 394.9 154.5 394.2 151.4 393.5 149.5 392.8 153.9 392.1 151.2 391.4 149.8 390.7 151.5 390 150 389.3 148.8 388.6 150.6 387.9 148.5 387.2 149.3 386.5 149.7 385.8 149.2 385.1 151.6 384.4 150.8 383.7 150.2 383 148.6 382.3 149.2 381.6 150.6 380.9 149.9 380.2 153.3 379.5 154.2 378.8 149.6 378.1 148.7 377.4 149.7 376.7 150.7 376 148.7 375.3 150.2 374.6 151.2 373.9 151.3 373.2 149.7 372.5 149.1 371.8 149.3 371.1 150.6 370.4 150.6 369.7 152 369 152.9 368.3 151 367.6 149.6 366.9 150 366.2 148.9 365.5 149 364.8 149 364.1 149 363.4 149.2 362.7 152 362 149 361.3 149.6 360.6 150.5 359.9 151.5 359.2 149.9 358.5 148.9 357.8 150.9 357.1 148.9 356.4 148.9 355.7 149.6 355 148.9 354.3 150.7 353.6 148.9 352.9 152.5 352.2 150.9 351.5 148.9 350.8 151.8 350.1 148.8 349.4 150.1 348.7 148.7 348 149.7 347.3 152.7 346.6 149.7 345.9 148.8 345.2 149.1 344.5 149.4 343.8 151 343.1 150.2 342.4 151.9 341.7 149 341 153.8 340.3 149.8 339.6 149.9 338.9 150 338.2 149.1 337.5 149.7 336.8 150.9 336.1 152.8 335.4 150.6 334.7 151.7 334 149.3 333.3 150.6 332.6 152.7 331.9 149.2 331.2 149.4 330.5 150.3 329.8 152.8 329.1 149.8 328.4 150.5 327.7 153 327 149.2 326.3 151.6 325.6 149.3 324.9 152.3 324.2 149.4 323.5 149.3 322.8 151.4 322.1 149.3 321.4 149.3 320.7 149.8 320 151.8 319.3 150.2 318.6 149.3 317.9 150.8 317.2 149.3 316.5 152.7 315.8 149.3 315.1 149.4 314.4 149.5 313.7 150.8 313 152.6 312.3 151.1 311.6 151.4 310.9 149.9 310.2 150.8 309.5 150.5 308.8 150.5 308.1 152.8 307.4 149.8 306.7 149.8 306 150.1 305.3 155.2 304.6 153.2 303.9 150.7 303.2 150.1 302.5 150.5 301.8 150.8 301.1 151.1 300.4 152.3 299.7 155 299 152.9 298.3 150.3 297.6 150.1 296.9 153.6 296.2 150.1 295.5 151.4 294.8 152.7 294.1 151.2 293.4 152.1 292.7 157.8 292 151.9 291.3 152.9 290.6 150 289.9 150.8 289.2 151.3 288.5 150.1 287.8 150.1 287.1 154.2 286.4 150.4 285.7 150.1 285 153.2 284.3 152.6 283.6 152.7 282.9 152.4 282.2 150.7 281.5 150.7 280.8 151 280.1 150 279.4 152.4 278.7 150.1 278 153.3 277.3 151.1 276.6 150.1 275.9 157.1 275.2 150 274.5 155.6 273.8 150.4 273.1 150.7 272.4 150.7 271.7 153.7 271 150.5 270.3 149.9 269.6 152.1 268.9 150.6 268.2 150.2 267.5 151 266.8 150.1 266.1 149.9 265.4 150.9 264.7 150.8 264 152.4 263.3 150.4 262.6 150.8 261.9 150.5 261.2 150.2 260.5 150.9 259.8 150.5 259.1 150.4 258.4 150.7 257.7 152 257 150.5 256.3 151 255.6 150.5 254.9 150.4 254.2 150.8 253.5 150.6 252.8 151.8 252.1 151 251.4 150.5 250.7 156.5 250 151.7 249.3 151 248.6 151.5 247.9 153.9 247.2 154.7 246.5 150.6 245.8 151 245.1 152 244.4 152.6 243.7 151.6 243 151.7 242.3 151.2 241.6 151.3 240.9 155.1 240.2 150.2 239.5 150.3 238.8 151.3 238.1 150.8 237.4 150.8 236.7 153.1 236 150.4 235.3 151 234.6 150.7 233.9 150.3 233.2 152.6 232.5 152.4 231.8 150.4 231.1 151.6 230.4 150.6 229.7 152.6 229 150.2 228.3 150.9 227.6 151.1 226.9 151.7 226.2 152.4 225.5 150.1 224.8 150 224.1 154.2 223.4 150.7 222.7 151.4 222 152 221.3 152.8 220.6 150.4 219.9 150.2 219.2 154.6 218.5 150.4 217.8 151.8 217.1 151 216.4 150.2 215.7 150 215 150.2 214.3 153.1 213.6 151.4 212.9 149.9 212.2 149.9 211.5 151.8 210.8 150.1 210.1 157.8 209.4 150.6 208.7 152.9 208 150.3 207.3 151.1 206.6 151.4 205.9 150.1 205.2 150.7 204.5 151.8 203.8 150.1 203.1 153.1 202.4 150 201.7 151.8 201 151.5 200.3 150.2 199.6 150.8 198.9 150.1 198.2 150.2 197.5 151.3 196.8 150.4 196.1 153.9 195.4 152.5 194.7 151.4 194 152.1 193.3 150.7 192.6 150.8 191.9 151.4 191.2 157.3 190.5 150.2 189.8 150.6 189.1 149.9 188.4 150.5 187.7 150.8 187 151.9 186.3 151.6 185.6 151.3 184.9 150.5 184.2 151.1 183.5 150.6 182.8 150 182.1 153.2 181.4 150.6 180.7 150.4 180 150.4 179.3 154.3 178.6 154.6 177.9 150.8 177.2 149.9 176.5 149.9 175.8 149.8 175.1 160.4 174.4 150.6 173.7 149.7 173 151.4 172.3 152.6 171.6 153.1 170.9 150.1 170.2 151.2 169.5 151.7 168.8 149.6 168.1 152.5 167.4 150 166.7 152.5 166 150.8 165.3 150.5 164.6 151 163.9 149.4 163.2 149.6 162.5 149.9 161.8 151.3 161.1 152.4 160.4 151.8 159.7 152 159 149.3 158.3 153.2 157.6 151.5 156.9 150.1 156.2 150.5 155.5 150.6 154.8 149.9 154.1 150.1 153.4 153.7 152.7 150.8 152 149.2 151.3 151.4 150.6 149.8 149.9 149 149.2 149.9 148.5 151.4 147.8 148.9 147.1 149.1 146.4 149 145.7 150.2 145 151 144.3 155 143.6 151.9 142.9 148.9 142.2 149.4 141.5 148.8 140.8 148.9 140.1 152.5 139.4 149.3 138.7 149.6 138 148.9 137.3 149.3 136.6 148.9 135.9 149.3 135.2 149.5 134.5 150.8 133.8 156.4 133.1 150.2 132.4 151.9 131.7 149 131 149.1 130.3 153.1 129.6 149.7 128.9 150.8 128.2 149.6 127.5 149.6 126.8 148.9 126.1 149.7 125.4 149.5 124.7 151.5 124 149 123.3 148.9 122.6 149.3 121.9 149.3 121.2 150.7 120.5 156.5 119.8 149.9 119.1 149 118.4 151.7 117.7 152.6 117 149.5 116.3 148.9 115.6 150.6 114.9 152.7 114.2 148.9 113.5 153.5 112.8 148.8 112.1 150.6 111.4 148.9 110.7 150.1 110 149.2 109.3 149 108.6 148.8 107.9 149.2 107.2 150.3 106.5 153.1 105.8 149 105.1 151.7 104.4 149.1 103.7 150.5 103 151.1 102.3 152 101.6 150 100.9 155.8 100.2 148.8 99.5 149 98.8 149.9 98.1 148.7 97.4 149 96.7 149.6 96 150 95.3 153.8 94.6 151.2 93.9 148.9 93.2 148.8 92.5 148.9 91.8 149.6 91.1 148.7 90.4 149 89.7 149.6 89 149.2 88.3 152.6 87.6 148.7 86.9 149.2 86.2 151.8 85.5 149.5 84.8 148.7 84.1 148.7 83.4 150.8 82.7 150.5 82 150.8 81.3 149.1 80.6 149.8 79.9 148.6 79.2 148.6 78.5 149.8 77.8 150.6 77.1 149.1 76.4 150.2 75.7 153.1 75 149.4 74.3 150.1 73.6 149 72.9 150.4 72.2 148.7 71.5 151.4 70.8 150.4 70.1 149.4 69.4 149.2 68.7 148.8 68 152 67.3 148.8 66.6 149.1 65.9 152.1 65.2 150.4 64.5 148.8 63.8 151 63.1 153.4 62.4 150 61.7 153Z" fill="#070304"/>
<path d="M61.7 209.4 62.4 207 63.1 211.4 63.8 212.1 64.5 211.1 65.2 211.9 65.9 211.3 66.6 209.1 67.3 211.9 68 210.9 68.7 210.4 69.4 211.3 70.1 210.3 70.8 211.1 71.5 212.2 72.2 210.1 72.9 208.9 73.6 212.1 74.3 210.8 75 209.9 75.7 210.7 76.4 211.8 77.1 210.3 77.8 206.9 78.5 209.4 79.2 211.5 79.9 209.7 80.6 211.8 81.3 211.8 82 209 82.7 211.6 83.4 210.4 84.1 211.9 84.8 211.1 85.5 211.2 86.2 204.3 86.9 206.6 87.6 211.7 88.3 211.6 89 210.2 89.7 210 90.4 211.9 91.1 211.8 91.8 211 92.5 211.7 93.2 203.4 93.9 211.9 94.6 210.8 95.3 210.1 96 211.7 96.7 211.9 97.4 211.4 98.1 211.2 98.8 208.7 99.5 211.9 100.2 210 100.9 211.4 101.6 209.6 102.3 211.9 103 212 103.7 210.1 104.4 209.6 105.1 212.3 105.8 211.8 106.5 212.5 107.2 211.9 107.9 212.1 108.6 210.6 109.3 210.6 110 211.3 110.7 211.6 111.4 212.2 112.1 209.4 112.8 211.9 113.5 209.4 114.2 206.8 114.9 211.6 115.6 211.5 116.3 212.2 117 211.2 117.7 212.2 118.4 211.1 119.1 207.8 119.8 211.2 120.5 210.8 121.2 208.4 121.9 211.9 122.6 209.7 123.3 211.9 124 211.9 124.7 210.1 125.4 208.9 126.1 211.1 126.8 211 127.5 208.7 128.2 212 128.9 207.7 129.6 211.6 130.3 212.2 131 210.3 131.7 212.4 132.4 212 133.1 211.5 133.8 211.9 134.5 212.2 135.2 212.3 135.9 211.4 136.6 207.2 137.3 212.3 138 210 138.7 209.9 139.4 209.8 140.1 209.5 140.8 211.6 141.5 212.1 142.2 212.1 142.9 210.2 143.6 212.1 144.3 211.9 145 212 145.7 209.4 146.4 209.4 147.1 211.8 147.8 209.8 148.5 208.5 149.2 207.1 149.9 211.7 150.6 210.8 151.3 211.9 152 207.3 152.7 210.3 153.4 212 154.1 210.7 154.8 211.5 155.5 211.2 156.2 211.2 156.9 207.2 157.6 209.5 158.3 210.7 159 209.7 159.7 210.4 160.4 211.2 161.1 211.5 161.8 212 162.5 212.1 163.2 211.3 163.9 211.6 164.6 209.1 165.3 211.3 166 208.6 166.7 211.1 167.4 211.6 168.1 207.5 168.8 210.5 169.5 211.7 170.2 210.1 170.9 209.7 171.6 209.8 172.3 211.2 173 211.6 173.7 210.3 174.4 208.5 175.1 211.7 175.8 211.8 176.5 211.5 177.2 211.2 177.9 209.8 178.6 208.4 179.3 212.1 180 211.6 180.7 209.3 181.4 210.3 182.1 208.6 182.8 212.4 183.5 211.1 184.2 211.5 184.9 209.7 185.6 211 186.3 206.5 187 210.6 187.7 212.2 188.4 210.8 189.1 212.1 189.8 211 190.5 211.4 191.2 212.5 191.9 210.3 192.6 210.4 193.3 209.1 194 212.2 194.7 212.6 195.4 210.5 196.1 210 196.8 212.4 197.5 212.4 198.2 211.3 198.9 211.9 199.6 210.1 200.3 212.5 201 209.9 201.7 212.3 202.4 209.3 203.1 211.3 203.8 209.7 204.5 208.7 205.2 211.5 205.9 207.8 206.6 209.6 207.3 211.8 208 208.5 208.7 212 209.4 211.7 210.1 208.8 210.8 211.6 211.5 210.4 212.2 211.9 212.9 206 213.6 210.6 214.3 211.9 215 204.9 215.7 209.4 216.4 212 217.1 211.7 217.8 211.9 218.5 212.1 219.2 212 219.9 211.7 220.6 209.5 221.3 211.7 222 202.6 222.7 209.5 223.4 210.4 224.1 210 224.8 209 225.5 212.1 226.2 204 226.9 206.1 227.6 212.3 228.3 211 229 211.4 229.7 212.3 230.4 212.2 231.1 208.9 231.8 211.9 232.5 212.3 233.2 211.3 233.9 211.7 234.6 211.9 235.3 212 236 205.3 236.7 207.4 237.4 208.1 238.1 210.2 238.8 211.8 239.5 211.9 240.2 211.2 240.9 211.6 241.6 210.3 242.3 209.6 243 211.1 243.7 207.9 244.4 209.2 245.1 211.5 245.8 210.4 246.5 211.4 247.2 210.6 247.9 210.6 248.6 211.4 249.3 210.8 250 202.3 250.7 208.9 251.4 210.9 252.1 211.1 252.8 211.8 253.5 209.4 254.2 211.8 254.9 212 255.6 211.8 256.3 211.8 257 211.5 257.7 211.4 258.4 210.3 259.1 211.8 259.8 209.7 260.5 210.4 261.2 209.4 261.9 208.8 262.6 210.5 263.3 211.6 264 211.7 264.7 208.1 265.4 209.2 266.1 211.2 266.8 210.5 267.5 211.4 268.2 206 268.9 210.9 269.6 210.7 270.3 210.9 271 211.6 271.7 209 272.4 208.9 273.1 210.6 273.8 209.9 274.5 209.6 275.2 211.1 275.9 211.6 276.6 210.5 277.3 210.6 278 210.3 278.7 207.3 279.4 207.2 280.1 209.6 280.8 211.6 281.5 211.6 282.2 211.7 282.9 211.7 283.6 211.1 284.3 211.2 285 211.6 285.7 210.8 286.4 211.5 287.1 210 287.8 211.8 288.5 206.3 289.2 212 289.9 212.2 290.6 212 291.3 211.8 292 209.8 292.7 211.3 293.4 212 294.1 210 294.8 210.9 295.5 211.5 296.2 209.8 296.9 211.3 297.6 210.1 298.3 211.5 299 211.7 299.7 209.8 300.4 209 301.1 208.1 301.8 211.6 302.5 211.5 303.2 208.2 303.9 210.1 304.6 210.9 305.3 209.5 306 211.6 306.7 212.1 307.4 208.3 308.1 211.4 308.8 210.8 309.5 211.6 310.2 212.2 310.9 210.4 311.6 211.8 312.3 207.1 313 212.3 313.7 212.3 314.4 209.9 315.1 211.8 315.8 211.1 316.5 212.4 317.2 210.5 317.9 210.7 318.6 212.4 319.3 212.5 320 211.9 320.7 211.2 321.4 207.5 322.1 209.4 322.8 211.2 323.5 211.2 324.2 211.9 324.9 211 325.6 212.3 326.3 212.2 327 212.3 327.7 211.9 328.4 212.2 329.1 211.3 329.8 212.2 330.5 210.8 331.2 212.2 331.9 211.8 332.6 210.2 333.3 211.7 334 212.3 334.7 209.9 335.4 212.4 336.1 211.9 336.8 210.6 337.5 208.3 338.2 211.2 338.9 210.3 339.6 208.8 340.3 212 341 209.4 341.7 211.6 342.4 211.8 343.1 211.2 343.8 208.5 344.5 211.9 345.2 212.8 345.9 211.3 346.6 211.6 347.3 210.9 348 210.3 348.7 212.3 349.4 211.3 350.1 205.7 350.8 211.4 351.5 208.9 352.2 211.1 352.9 209.8 353.6 212.8 354.3 212 355 210.9 355.7 211.8 356.4 212.2 357.1 210.6 357.8 212.8 358.5 212.9 359.2 213.1 359.9 212.9 360.6 212.8 361.3 212.7 362 212.7 362.7 209.6 363.4 212.8 364.1 211.3 364.8 212.9 365.5 211.2 366.2 211.2 366.9 207.2 367.6 212.3 368.3 209 369 212.3 369.7 212.2 370.4 209.9 371.1 212 371.8 211.9 372.5 210.3 373.2 211.4 373.9 211.6 374.6 212.5 375.3 211.9 376 211.8 376.7 211.8 377.4 211 378.1 211.9 378.8 211.3 379.5 212.3 380.2 212.5 380.9 211.9 381.6 212.3 382.3 210.1 383 208.9 383.7 211.9 384.4 209.2 385.1 212.9 385.8 209.7 386.5 212.8 387.2 212.6 387.9 212.9 388.6 207.7 389.3 210.4 390 212.2 390.7 212.4 391.4 212.9 392.1 211.6 392.8 211.3 393.5 210.2 394.2 210.3 394.9 211.4 395.6 210.1 396.3 212.2 397 210.1 397.7 211.2 398.4 213 399.1 212.8 399.8 208 400.5 212.6 401.2 211.7 401.9 212.8 402.6 211.9 403.3 211.6 404 211.9 404.7 211.9 405.4 211.7 406.1 210.6 406.8 212.8 407.5 210 408.2 212.9 408.9 212.2 409.6 209.3 410.3 211.6 411 206.5 411.7 211 412.4 210.8 413.1 212.2 413.8 207.8 414.5 212.7 415.2 208.1 415.9 208.6 416.6 212.6 417.3 207.2 418 212.6 418.7 212.5 419.4 211.6 420.1 212.1 420.8 212.7 421.5 210.8 422.2 211.5 422.9 212 423.6 212.8 424.3 209.2 425 211.9 425.7 212.5 426.4 212.7 427.1 212.9 427.8 212.6 428.5 208.9 429.2 211.1 429.9 212.1 430.6 212.3 431.3 210.8 432 212.4 432.7 211.8 433.4 211.3 434.1 210.8 434.8 209.7 435.5 209.5 436.2 211.5 436.9 212.6 437.6 212.5 438.3 210.1 439 209.4 439.7 212.1 440.4 212.3 441.1 210.4 441.8 209.8 442.5 208 443.2 211 443.9 211.1 444.6 212.1 445.3 211.5 446 212.2 446.7 212.3 447.4 209.8 448.1 212.2 448.8 211.9 449.5 211.9 450.2 212.8 450.9 212.6 451.6 212.9 452.3 212.7 453 212.6 453.7 212.4 454.4 211.6 455.1 212 455.8 212.9 456.5 211.6 457.2 213 457.9 212.6 458.6 212.7 459.3 211.4 460 208.7 460.7 211.4 461.4 212.7 462.1 209.1 462.8 212.2 463.5 211.2 464.2 211.8 464.9 212.1 465.6 211.2 466.3 210.8 467 211.3 467.7 211.1 468.4 212.9 469.1 213 469.8 212.3 470.5 213.1 471.2 212.8 471.9 213.1 472.6 207 473.3 211.9 474 212.3 474.7 212.8 475.4 209.8 476.1 209.5 476.8 212.7 477.5 212.8 478.2 212.8 478.9 209.5 479.6 209.2 480.3 212.5 481 212.1 481.7 212.8 482.4 212.6 483.1 212 483.8 210.2 484.5 212.2 485.2 204.2 485.9 209.6 486.6 213.1 487.3 213.1 488 209.8 488.7 212.2 489.4 212.5 490.1 211.7 490.8 213.3 491.5 211.8 492.2 213.1 492.9 212.5 493.6 210 494.3 213.3 495 212.4 495.7 213.3 496.4 213.3 497.1 212.8 497.8 212.5 498.5 213.2 499.2 213 499.9 213.2 500.6 212 501.3 213.1 502 212.8 502.7 212.1 503.4 212.8 504.1 212.6 504.8 212.9 505.5 210.6 506.2 211.9 506.9 210.4 507.6 213 508.3 213 509 210.1 509.7 213 510.4 211.3 511.1 212.2 511.8 212.5 512.5 213.4 513.2 213.5 513.9 213.1 514.6 200.3 515.3 211 516 213 516.7 213.1 517.4 213.1 518.1 213.1 518.8 208.6 519.5 213.4 520.2 213.4 520.9 212.5 521.6 210.6 522.3 213.5 523 211.6 523.7 212.2 524.4 211 525.1 207.7 525.8 213.3 526.5 213.2 527.2 213.4 527.9 210.2 528.6 213.6 529.3 211.7 530 212.4 530.7 212.8 531.4 211.9 532.1 213.3 532.8 213.3 533.5 211 534.2 213.3 534.9 213.3 535.6 211 536.3 212 537 213.7 537.7 210.7 538.4 213.6 539.1 213 539.8 204.9 540.5 212.6 541.2 213 541.9 212.5 542.6 213.4 543.3 210.2 544 211.8 544.7 212.7 545.4 212.5 546.1 211.8 546.8 202.1 547.5 211.7 548.2 213.8 548.9 213.5 549.6 212.1 550.3 213.7 551 211.9 551.7 212.7 552.4 213.8 553.1 213.8 553.8 211.7 554.5 212.3 555.2 210 555.9 212.2 556.6 213.7 557.3 211.9 558 213 558.7 213.9 559.4 213.6 560.1 211.9 560.8 213.1 561.5 206.5 562.2 213.8 562.9 209 563.6 207.2 564.3 213.5 565 213.5 565.7 213.4 566.4 211.5 567.1 212.3 567.8 212.4 568.5 211.9 569.2 213.1 569.9 206.8 570.6 213 571.3 213.2 572 213 572.7 213.4 573.4 211.3 574.1 213 574.8 210 575.5 212.9 576.2 212 576.9 212.2 577.6 207.2 578.3 212.2 579 211.6 579.7 211.5 580.4 212.8 581.1 212.5 581.8 211.1 582.5 212 583.2 212.9 583.9 213.2 584.6 213.2 585.3 209.1 586 213.2 586.7 211.4 587.4 211.9 588.1 211.9 588.8 211 589.5 213.3 590.2 211.5 590.9 213.2 591.6 213.3 592.3 209.6 593 213.3 593.7 213.1 594.4 212.7 595.1 211.3 595.8 209.1 596.5 213.1 597.2 213 597.9 212.9 598.6 212.1 599.3 212.9 600 211.2 600.7 212.9 601.4 213 602.1 210.2 602.8 213 603.5 212.6 604.2 211.9 604.9 213.1 605.6 211.6 606.3 212.5 607 207.6 607.7 210.7 608.4 212.6 609.1 211.9 609.8 210.2 610.5 209.8 611.2 212.5 611.9 212.2 612.6 210 613.3 212.2 614 212.7 614.7 211.3 615.4 212.8 616.1 212.4 616.8 212.5 617.5 212.7 618.2 210.1 618.9 212.4 619.6 210 620.3 210.6 621 205 621.7 210.1 622.4 212.4 622.4 223.3 621.7 224 621 221.6 620.3 225.3 619.6 232.6 618.9 246.1 618.2 223.2 617.5 221.5 616.8 221.4 616.1 221.5 615.4 224.6 614.7 221.5 614 222.7 613.3 222.2 612.6 225.2 611.9 222.2 611.2 224.2 610.5 223.2 609.8 221.5 609.1 221.9 608.4 223.3 607.7 221.6 607 222 606.3 224.5 605.6 223 604.9 221.9 604.2 225.1 603.5 221.9 602.8 223.2 602.1 222.2 601.4 221.9 600.7 222.7 600 225.3 599.3 223.8 598.6 221.7 597.9 221.7 597.2 221.9 596.5 224.7 595.8 222 595.1 222.7 594.4 222.4 593.7 222.2 593 222.1 592.3 223.7 591.6 224.1 590.9 222.6 590.2 224.6 589.5 222.7 588.8 222.9 588.1 224.2 587.4 223.6 586.7 222.9 586 225.2 585.3 227.9 584.6 222.6 583.9 228.3 583.2 222 582.5 222.1 581.8 224.8 581.1 224.4 580.4 222 579.7 223.2 579 222.7 578.3 222.1 577.6 223.3 576.9 228.3 576.2 237.7 575.5 226.5 574.8 221.9 574.1 222.2 573.4 226.3 572.7 227 572 222.2 571.3 223.5 570.6 222.7 569.9 222.8 569.2 224.9 568.5 224.5 567.8 222.4 567.1 225.7 566.4 227.4 565.7 222.2 565 222.3 564.3 225.3 563.6 226.8 562.9 222.5 562.2 223 561.5 222.8 560.8 224.1 560.1 223.8 559.4 222.6 558.7 223.5 558 223.4 557.3 222.5 556.6 223.7 555.9 222.4 555.2 224.9 554.5 222.5 553.8 223.2 553.1 222.6 552.4 227 551.7 228.1 551 225.4 550.3 223 549.6 223 548.9 222.7 548.2 223.1 547.5 226.3 546.8 222.7 546.1 222.3 545.4 223.8 544.7 225 544 223.6 543.3 223.1 542.6 223 541.9 223.5 541.2 224.7 540.5 223.9 539.8 222.3 539.1 222.7 538.4 222.4 537.7 222.8 537 222.5 536.3 222.4 535.6 223.8 534.9 224.6 534.2 223.6 533.5 225.1 532.8 222.7 532.1 226.7 531.4 232.7 530.7 222.4 530 223.5 529.3 222.3 528.6 223.5 527.9 222.3 527.2 222.7 526.5 222.9 525.8 224.3 525.1 224.9 524.4 224.1 523.7 222.8 523 223.9 522.3 222.3 521.6 222.7 520.9 223 520.2 223.1 519.5 222.4 518.8 225.8 518.1 222.5 517.4 224 516.7 222.7 516 222.5 515.3 222.3 514.6 222.4 513.9 222.4 513.2 222.5 512.5 226.1 511.8 223.1 511.1 222.8 510.4 223.5 509.7 222.4 509 224.7 508.3 225.3 507.6 222.4 506.9 222.6 506.2 223.5 505.5 222 504.8 222.6 504.1 223.1 503.4 223.8 502.7 225.9 502 222.4 501.3 223.1 500.6 221.9 499.9 222 499.2 225.2 498.5 222.9 497.8 222.2 497.1 222.7 496.4 222.1 495.7 222.2 495 222.1 494.3 223.1 493.6 222 492.9 222.1 492.2 223.1 491.5 222.3 490.8 223.1 490.1 226.4 489.4 225.2 488.7 222.7 488 222.6 487.3 221.9 486.6 225.1 485.9 222.7 485.2 226.4 484.5 222 483.8 227.1 483.1 222.9 482.4 221.6 481.7 222.6 481 221.7 480.3 223.3 479.6 223 478.9 222.6 478.2 221.6 477.5 222.8 476.8 223.5 476.1 221.5 475.4 222.2 474.7 225.6 474 221.7 473.3 223.3 472.6 228.7 471.9 227.1 471.2 222.9 470.5 222.9 469.8 223.6 469.1 223.3 468.4 222.9 467.7 221.6 467 226.3 466.3 221.7 465.6 222.1 464.9 222.7 464.2 223.5 463.5 222 462.8 222.7 462.1 224.8 461.4 222.6 460.7 223.2 460 223.1 459.3 228.5 458.6 221.8 457.9 222.7 457.2 221.8 456.5 223.3 455.8 222.5 455.1 223.7 454.4 221.7 453.7 222.5 453 223.4 452.3 224.1 451.6 224.8 450.9 221.7 450.2 225.2 449.5 222.9 448.8 223.2 448.1 224.1 447.4 221.6 446.7 221.6 446 223.1 445.3 222.8 444.6 225.2 443.9 222.6 443.2 221.7 442.5 222.5 441.8 221.7 441.1 222 440.4 226.3 439.7 221.9 439 222.1 438.3 221.9 437.6 222.8 436.9 223.4 436.2 223.5 435.5 224.3 434.8 225.9 434.1 222.2 433.4 223.6 432.7 221.5 432 221.9 431.3 221.9 430.6 222.4 429.9 223.9 429.2 221.5 428.5 221.6 427.8 224.6 427.1 224.2 426.4 222.3 425.7 223.6 425 221.6 424.3 222.4 423.6 221.6 422.9 222.4 422.2 221.8 421.5 222.8 420.8 221.5 420.1 222.1 419.4 221.5 418.7 221.5 418 221.5 417.3 221.4 416.6 225.4 415.9 221.9 415.2 223.6 414.5 221.8 413.8 224.6 413.1 222.3 412.4 222 411.7 222.1 411 222.1 410.3 224.3 409.6 221.6 408.9 221.5 408.2 225.7 407.5 222.4 406.8 222.2 406.1 223.8 405.4 221.6 404.7 221.7 404 221.8 403.3 228.8 402.6 223.7 401.9 222.8 401.2 230.4 400.5 222.3 399.8 222 399.1 223.7 398.4 223.1 397.7 223.1 397 221.6 396.3 223.1 395.6 224.7 394.9 222.1 394.2 223.4 393.5 226.8 392.8 235.4 392.1 222 391.4 224.6 390.7 224.8 390 223 389.3 222.6 388.6 223.8 387.9 221.8 387.2 222.1 386.5 224.7 385.8 221.9 385.1 222.2 384.4 224.4 383.7 221.6 383 221.5 382.3 221.5 381.6 221.7 380.9 222.4 380.2 222 379.5 221.6 378.8 221.4 378.1 221.4 377.4 223.7 376.7 221.9 376 222 375.3 225.6 374.6 222.5 373.9 221.7 373.2 221.9 372.5 221.7 371.8 221.5 371.1 224.4 370.4 222.4 369.7 222.8 369 223.5 368.3 222.5 367.6 226.2 366.9 222.7 366.2 224.1 365.5 222 364.8 221.8 364.1 223.2 363.4 221.9 362.7 221.6 362 221.7 361.3 225.2 360.6 221.7 359.9 224.4 359.2 221.9 358.5 222.7 357.8 223.9 357.1 222.5 356.4 222.4 355.7 222.1 355 221.4 354.3 223.1 353.6 222 352.9 226.7 352.2 221.5 351.5 223.9 350.8 227.9 350.1 221.9 349.4 222.9 348.7 222 348 223.3 347.3 221.7 346.6 221.4 345.9 221.6 345.2 221.9 344.5 222.3 343.8 221.8 343.1 222.1 342.4 222.4 341.7 222.5 341 221.9 340.3 223.4 339.6 221.4 338.9 221.5 338.2 221.4 337.5 221.8 336.8 227.5 336.1 226.4 335.4 234.8 334.7 222 334 223.1 333.3 221.6 332.6 225.7 331.9 223.5 331.2 222.6 330.5 221.1 329.8 221 329.1 222.6 328.4 224.2 327.7 221.4 327 231.7 326.3 221 325.6 221.2 324.9 221.4 324.2 221.4 323.5 222.3 322.8 224.7 322.1 223.1 321.4 228.5 320.7 239.1 320 222.9 319.3 221.9 318.6 222 317.9 221.5 317.2 223.7 316.5 221.3 315.8 222.4 315.1 221.7 314.4 224.6 313.7 221.2 313 221.4 312.3 222.2 311.6 222.5 310.9 222.4 310.2 225.2 309.5 221.5 308.8 222.9 308.1 221.8 307.4 220.9 306.7 221.1 306 220.9 305.3 222.8 304.6 229 303.9 222.4 303.2 220.8 302.5 224.9 301.8 221.4 301.1 221.3 300.4 222.6 299.7 221.3 299 226.6 298.3 223 297.6 220.8 296.9 221.6 296.2 221.8 295.5 220.9 294.8 223.5 294.1 220.8 293.4 222.5 292.7 221.7 292 222.8 291.3 225.6 290.6 221.2 289.9 221.7 289.2 226.2 288.5 225.8 287.8 222 287.1 220.5 286.4 221.1 285.7 226.2 285 220.4 284.3 220.5 283.6 221 282.9 225.6 282.2 223.2 281.5 221 280.8 223.4 280.1 225.2 279.4 220.6 278.7 224.1 278 224.9 277.3 223.2 276.6 226.6 275.9 222 275.2 222.4 274.5 221.8 273.8 221.5 273.1 220.4 272.4 223.5 271.7 220.2 271 220.5 270.3 229.3 269.6 222.5 268.9 220.3 268.2 222.4 267.5 220.8 266.8 221.4 266.1 221 265.4 221.1 264.7 221.2 264 221.3 263.3 221 262.6 221.3 261.9 222.6 261.2 220.8 260.5 221.9 259.8 221.6 259.1 221.4 258.4 221.9 257.7 227.2 257 220.6 256.3 221 255.6 222.7 254.9 222 254.2 221 253.5 221.1 252.8 220.6 252.1 221 251.4 223.2 250.7 228.2 250 238.9 249.3 220.9 248.6 222.2 247.9 221.4 247.2 220.2 246.5 220.2 245.8 220.2 245.1 220.7 244.4 220.3 243.7 220.4 243 220.3 242.3 223.3 241.6 220.9 240.9 220.7 240.2 220.8 239.5 220.7 238.8 224.3 238.1 221.5 237.4 226.5 236.7 222.3 236 222.1 235.3 221.2 234.6 221.1 233.9 221.1 233.2 224.8 232.5 221.1 231.8 225.8 231.1 221.3 230.4 221 229.7 222.8 229 221 228.3 222.3 227.6 226.2 226.9 234.5 226.2 222.3 225.5 221.6 224.8 221.5 224.1 222.8 223.4 220.8 222.7 221.3 222 221 221.3 223.2 220.6 221.5 219.9 225.7 219.2 221.3 218.5 220.9 217.8 221.4 217.1 220.8 216.4 220.9 215.7 222.1 215 222.6 214.3 221 213.6 222.4 212.9 230.8 212.2 220.7 211.5 221.4 210.8 222.3 210.1 222.1 209.4 221.8 208.7 224.3 208 220.9 207.3 220.9 206.6 222.7 205.9 221 205.2 224.2 204.5 221.3 203.8 222.7 203.1 223.3 202.4 221 201.7 222.8 201 224.8 200.3 221.6 199.6 221.7 198.9 226.1 198.2 221.3 197.5 222.4 196.8 229.1 196.1 222 195.4 222.9 194.7 221.4 194 221.5 193.3 222.3 192.6 221.8 191.9 221.6 191.2 222.7 190.5 221.3 189.8 221.4 189.1 221.2 188.4 221.2 187.7 221.6 187 221.1 186.3 222.4 185.6 221.1 184.9 221.1 184.2 222.3 183.5 222 182.8 223.3 182.1 223.5 181.4 223.9 180.7 224.2 180 225.5 179.3 224.3 178.6 221.5 177.9 221.1 177.2 221.5 176.5 221 175.8 223 175.1 222.3 174.4 222.8 173.7 222.4 173 220.8 172.3 220.7 171.6 221 170.9 225.7 170.2 221.1 169.5 221.3 168.8 221.4 168.1 222.3 167.4 221.9 166.7 223.9 166 224 165.3 224.1 164.6 225.3 163.9 224.8 163.2 232.3 162.5 221.5 161.8 221.7 161.1 224.2 160.4 224.5 159.7 225.9 159 220.7 158.3 220.7 157.6 221.8 156.9 220.4 156.2 223.9 155.5 220.8 154.8 221.9 154.1 222.4 153.4 222.6 152.7 221.4 152 220.6 151.3 221.5 150.6 220.7 149.9 221 149.2 221.7 148.5 221.3 147.8 222.8 147.1 221.5 146.4 224.5 145.7 222.7 145 221.4 144.3 221.3 143.6 223.7 142.9 221.5 142.2 221.7 141.5 221.6 140.8 222.4 140.1 222.3 139.4 221.8 138.7 221.4 138 221.4 137.3 221.7 136.6 225.5 135.9 223 135.2 221.1 134.5 222.6 133.8 221.2 133.1 226.4 132.4 225.9 131.7 221.3 131 224.8 130.3 221.4 129.6 222.3 128.9 221.1 128.2 222.3 127.5 223 126.8 221.8 126.1 226 125.4 234.2 124.7 249.7 124 221.7 123.3 221.4 122.6 222.7 121.9 228 121.2 238.3 120.5 257.6 119.8 221.8 119.1 221.2 118.4 221 117.7 221 117 221.5 116.3 222.3 115.6 221.1 114.9 221.2 114.2 225.8 113.5 222.6 112.8 221.1 112.1 221.4 111.4 223.6 110.7 222.5 110 222.8 109.3 222.9 108.6 223.3 107.9 221.9 107.2 221.3 106.5 226.5 105.8 221.2 105.1 221.2 104.4 222 103.7 221.8 103 222.3 102.3 223.6 101.6 223 100.9 224.4 100.2 221.1 99.5 221.9 98.8 221.5 98.1 221.4 97.4 224.2 96.7 221.1 96 222.7 95.3 224.1 94.6 220.9 93.9 221.3 93.2 221.7 92.5 220.9 91.8 222.8 91.1 221.3 90.4 221.5 89.7 222.3 89 220.6 88.3 221.2 87.6 220.5 86.9 221.4 86.2 226 85.5 223.7 84.8 221 84.1 221.3 83.4 221.1 82.7 221.9 82 220.8 81.3 221.2 80.6 222.6 79.9 223.1 79.2 222.1 78.5 220.7 77.8 222.6 77.1 224.6 76.4 220.8 75.7 221.6 75 223.7 74.3 222.1 73.6 224 72.9 222.1 72.2 221.5 71.5 222.4 70.8 221.2 70.1 221.8 69.4 220.8 68.7 220.9 68 222.4 67.3 220.9 66.6 226.3 65.9 224.7 65.2 221.6 64.5 221 63.8 221.7 63.1 225.1 62.4 232.6 61.7 220.8Z" fill="#B71B29"/>
<polyline points="649,166.1 680.2,166.1 680.2,148" fill="none" stroke="#211612" stroke-width="1.5" stroke-linejoin="miter"/>
<text transform="translate(686.8 164.6) scale(1 1.045)">10 pA</text>
<text transform="translate(569.8 194.5) scale(1 1.045)">500 ms</text>
<text transform="translate(933.5 119.8) scale(1 1.045)">WT</text>
<text transform="translate(933.5 196.3) scale(1 1.045)">cKO</text>
<path d="M932.2 141.1 932.9 141.3 933.6 140.9 934.3 140.6 935 136.9 935.7 140.5 936.4 140.8 937.1 137.2 937.8 140.7 938.5 139.9 939.2 136.1 939.9 140 940.6 140.5 941.3 140.8 942 140 942.7 140.8 943.4 139.8 944.1 140.9 944.8 140.5 945.5 137.2 946.2 138.2 946.9 140.5 947.6 138 948.3 136.6 949 140.5 949.7 140.6 950.4 139.4 951.1 129.3 951.8 138.4 952.5 140.3 953.2 140.1 953.9 140.4 954.6 138.9 955.3 136.6 956 139.3 956.7 130.8 957.4 138.8 958.1 140.2 958.8 140.2 959.5 139.1 960.2 137.2 960.9 136.2 961.6 139.5 962.3 139.4 963 139.2 963.7 140.2 964.4 140.1 965.1 138 965.8 136 966.5 140.1 967.2 138.8 967.9 140.3 968.6 139.9 969.3 136.6 970 139.7 970.7 139.6 971.4 140.7 972.1 140.7 972.8 140.2 973.5 138.2 974.2 138.9 974.9 134.3 975.6 139.9 976.3 139 977 136.9 977.7 140.6 978.4 139 979.1 134.9 979.8 134.9 980.5 140.1 981.2 140.5 981.9 138.6 982.6 140.2 983.3 136.1 984 138.2 984.7 135.3 985.4 138 986.1 134.5 986.8 138.3 987.5 137.3 988.2 138.7 988.9 140.1 989.6 138.6 990.3 131.4 991 129.5 991.7 138 992.4 138.5 993.1 139.4 993.8 139.1 994.5 140.2 995.2 135.1 995.9 136.4 996.6 140 997.3 139.6 998 138.4 998.7 140.2 999.4 135.6 1000.1 139.4 1000.8 140.2 1001.5 140 1002.2 139.3 1002.9 137.7 1003.6 134.6 1004.3 139.1 1005 138.4 1005.7 138.7 1006.4 138.1 1007.1 138.7 1007.8 139.3 1008.5 132.9 1009.2 140.2 1009.9 139.1 1010.6 140.6 1011.3 140.5 1012 140.2 1012.7 137.6 1013.4 134.4 1014.1 135.2 1014.8 140 1015.5 140.6 1016.2 139.5 1016.9 136.5 1017.6 139.5 1018.3 139.5 1019 141 1019.7 138.8 1020.4 140.9 1021.1 132.8 1021.8 139.4 1022.5 134.8 1023.2 141.4 1023.9 140.3 1024.6 141.5 1025.3 141.4 1026 141 1026.7 141.4 1027.4 139.8 1028.1 139.6 1028.8 140.4 1029.5 138.3 1030.2 140.3 1030.9 140.1 1031.6 140.4 1032.3 139.1 1033 141.1 1033.7 137.2 1034.4 141.3 1035.1 137.9 1035.8 140.1 1036.5 140.8 1037.2 140.3 1037.9 137.8 1038.6 137.6 1039.3 139.5 1040 135.7 1040.7 139.1 1041.4 140.8 1042.1 140.6 1042.8 141.1 1043.5 139.4 1044.2 139.7 1044.9 141 1045.6 140.4 1046.3 140.8 1047 140 1047.7 136.7 1048.4 139 1049.1 140.3 1049.8 140.9 1050.5 141.1 1051.2 140.6 1051.9 136.6 1052.6 140.7 1053.3 140.7 1054 140.7 1054.7 140 1055.4 140.3 1056.1 140.3 1056.8 139.7 1057.5 140.4 1058.2 140.3 1058.9 137.1 1059.6 139.1 1060.3 137.1 1061 139.3 1061.7 140.2 1062.4 136.8 1063.1 139.7 1063.8 140 1064.5 130.6 1065.2 137.6 1065.9 133.1 1066.6 136.9 1067.3 138.8 1068 137.7 1068.7 137.9 1069.4 140.5 1070.1 137.5 1070.8 140.5 1071.5 140.1 1072.2 140.7 1072.9 140 1073.6 132.7 1074.3 140.9 1075 133.5 1075.7 137.7 1076.4 140.1 1077.1 140.8 1077.8 141.3 1078.5 140.9 1079.2 138.2 1079.9 140.6 1080.6 141 1081.3 137.4 1082 141.4 1082.7 141.4 1083.4 135.9 1084.1 139.7 1084.8 137.6 1085.5 140.8 1086.2 138.9 1086.9 141.3 1087.6 141.4 1088.3 140.1 1089 134.9 1089.7 136.8 1090.4 137 1091.1 141.4 1091.8 141.5 1092.5 141.4 1093.2 140.7 1093.9 139 1094.6 140.6 1095.3 140.5 1096 138.3 1096.7 141.5 1097.4 140.4 1098.1 136.9 1098.8 139.4 1099.5 138.3 1100.2 137.6 1100.9 141.6 1101.6 136.9 1102.3 141.8 1103 141.4 1103.7 141.6 1104.4 140.6 1105.1 133.3 1105.8 141.1 1106.5 140.8 1107.2 141.8 1107.9 129.6 1108.6 130.7 1109.3 141.6 1110 141.5 1110.7 136.8 1111.4 141.4 1112.1 140.9 1112.8 141.6 1113.5 141.5 1114.2 139 1114.9 140.3 1115.6 141.6 1116.3 141.5 1117 138.7 1117.7 141.1 1118.4 139 1119.1 139 1119.8 137.9 1120.5 140.9 1121.2 140.7 1121.9 141.5 1122.6 137.4 1123.3 133.9 1124 139.3 1124.7 140.4 1125.4 140.3 1126.1 140.9 1126.8 135.5 1127.5 141.7 1128.2 141.5 1128.9 141.1 1129.6 137.3 1130.3 141.5 1131 140.9 1131.7 137.7 1132.4 141.2 1133.1 140.3 1133.8 141 1134.5 139.7 1135.2 141.5 1135.9 141.1 1136.6 138.7 1137.3 140.5 1138 137.9 1138.7 141.6 1139.4 137.9 1140.1 141.4 1140.8 139 1141.5 139 1142.2 141.4 1142.9 140.1 1143.6 140.9 1144.3 140.4 1145 140.8 1145.7 141.6 1146.4 137.5 1147.1 141.4 1147.8 141.4 1148.5 138.3 1149.2 140.7 1149.9 137.2 1150.6 139.8 1151.3 139.4 1152 139.9 1152.7 141.1 1153.4 141 1154.1 140.6 1154.8 136.9 1155.5 141.3 1156.2 141.2 1156.9 139.4 1157.6 139.6 1158.3 140.7 1159 139.6 1159.7 138.9 1160.4 139.9 1161.1 140.9 1161.8 140.4 1162.5 140.5 1163.2 131.7 1163.9 135.4 1164.6 139 1165.3 140.6 1166 139.5 1166.7 138.4 1167.4 134.5 1168.1 140.4 1168.8 140.7 1169.5 130.8 1170.2 139.3 1170.9 137.2 1171.6 140.8 1172.3 138.1 1173 140.5 1173.7 139 1174.4 136.2 1175.1 138.6 1175.8 140.6 1176.5 141.2 1177.2 140.4 1177.9 141 1178.6 128.8 1179.3 137.3 1180 140.6 1180.7 134.3 1181.4 139.9 1182.1 134.5 1182.8 140.4 1183.5 140.5 1184.2 139.4 1184.9 140.1 1185.6 140.6 1186.3 137.3 1187 139.7 1187.7 138.4 1188.4 140.9 1189.1 138.5 1189.8 139.8 1190.5 139.8 1191.2 139.8 1191.9 138.7 1192.6 140.7 1193.3 139.7 1194 138.3 1194.7 140.7 1195.4 140.2 1196.1 141.4 1196.8 141.6 1197.5 139.3 1198.2 137.9 1198.9 138.3 1199.6 140.8 1200.3 141.8 1201 140.3 1201.7 140.4 1202.4 141.8 1203.1 141.7 1203.8 141.5 1204.5 141.6 1205.2 140.9 1205.9 141.3 1206.6 139.7 1207.3 141.7 1208 140.3 1208.7 141.5 1209.4 141.5 1210.1 138.2 1210.8 138.5 1211.5 138.1 1212.2 140.2 1212.9 141.3 1213.6 140.5 1214.3 140.6 1215 140.4 1215.7 140.2 1216.4 139.1 1217.1 140.8 1217.8 140.6 1218.5 137.2 1219.2 140.8 1219.9 130.2 1220.6 140.8 1221.3 140.6 1222 140.3 1222.7 139.9 1223.4 139.2 1224.1 138.6 1224.8 140.3 1225.5 138.3 1226.2 137.8 1226.9 138.4 1227.6 140.6 1228.3 140.6 1229 139.2 1229.7 138.3 1230.4 140.6 1231.1 140.3 1231.8 140.2 1232.5 139.8 1233.2 138.3 1233.9 140.5 1234.6 140.3 1235.3 138.7 1236 138.9 1236.7 140.4 1237.4 140.5 1238.1 140.5 1238.8 137.6 1239.5 140.3 1240.2 139.6 1240.9 138.4 1241.6 140.3 1242.3 140.3 1243 138.8 1243.7 140.2 1244.4 139.8 1245.1 138.6 1245.8 140 1246.5 140.2 1247.2 139.9 1247.9 140 1248.6 137.4 1249.3 137.3 1250 140.1 1250.7 139.9 1251.4 139.1 1252.1 139.1 1252.8 140 1253.5 140.1 1254.2 136.7 1254.9 139.9 1255.6 138.7 1256.3 138.3 1257 137.5 1257.7 140.3 1258.4 139.8 1259.1 139.2 1259.8 137.1 1260.5 130 1261.2 138.3 1261.9 135.5 1262.6 139.6 1263.3 139.3 1264 140.2 1264.7 138.3 1265.4 129.5 1266.1 137.1 1266.8 139.7 1267.5 137.2 1268.2 136 1268.9 139.4 1269.6 136.2 1270.3 138.9 1271 138.4 1271.7 135.5 1272.4 139.9 1273.1 138.9 1273.8 139.7 1274.5 139 1275.2 139 1275.9 138.6 1276.6 138.9 1277.3 134.7 1278 134.7 1278.7 135.5 1279.4 139.5 1280.1 126.8 1280.8 135.2 1281.5 138.9 1282.2 138.7 1282.9 138.7 1283.6 139.1 1284.3 129.2 1285 139.2 1285.7 139.2 1286.4 137.8 1287.1 135.1 1287.8 136.5 1288.5 139.3 1289.2 139.1 1289.9 135.7 1290.6 136.6 1291.3 138.6 1292 139 1292.7 138.3 1293.4 139.1 1294.1 136.6 1294.8 138 1295.5 138.7 1296.2 133.6 1296.9 139 1297.6 136.9 1298.3 138.8 1299 136.1 1299.7 139.1 1300.4 139.5 1301.1 135.8 1301.8 136.7 1302.5 123.8 1303.2 139.4 1303.9 139.2 1304.6 139.2 1305.3 136.7 1306 131.8 1306.7 138.6 1307.4 137.4 1308.1 137.9 1308.8 138.7 1309.5 138.8 1310.2 138.5 1310.9 138.6 1311.6 138.5 1312.3 129.1 1313 136.2 1313.7 136.1 1314.4 136.2 1315.1 137 1315.8 135.3 1316.5 138.9 1317.2 138.1 1317.9 139 1318.6 139 1319.3 138.8 1320 138 1320.7 135.2 1321.4 138.4 1322.1 134.8 1322.8 138.8 1323.5 137.5 1324.2 138.5 1324.9 138.2 1325.6 137.3 1326.3 138.3 1327 138.4 1327.7 138.8 1328.4 138.6 1329.1 138.9 1329.8 136.8 1330.5 136.4 1331.2 138.4 1331.9 136.3 1332.6 138.3 1333.3 137.9 1334 136.1 1334.7 137.8 1335.4 134.5 1336.1 136.5 1336.8 134.7 1337.5 137.7 1338.2 136.5 1338.9 136.6 1339.6 137.6 1340.3 135.4 1341 133.6 1341.7 138 1342.4 136.4 1343.1 136.6 1343.8 134.8 1344.5 135.4 1345.2 134.3 1345.9 137 1346.6 132.3 1347.3 136.5 1348 134 1348.7 137.8 1349.4 134.4 1350.1 136.4 1350.8 137.3 1351.5 137.7 1352.2 137.9 1352.9 137.5 1353.6 133.8 1354.3 134.9 1355 138 1355.7 134.9 1356.4 138.2 1357.1 134.1 1357.8 135 1358.5 136.4 1359.2 133.8 1359.9 136.1 1360.6 137.4 1361.3 138.3 1362 138 1362.7 136.6 1363.4 137.6 1364.1 129.2 1364.8 131.3 1365.5 138.3 1366.2 130.2 1366.9 136.5 1367.6 131.7 1368.3 138.6 1369 137 1369.7 137.8 1370.4 136.2 1371.1 137 1371.8 138.4 1372.5 138.4 1373.2 127.2 1373.9 136.6 1374.6 133.3 1375.3 137.3 1376 138.2 1376.7 134.1 1377.4 133.6 1378.1 138.3 1378.8 134.8 1379.5 135.7 1380.2 138.4 1380.9 137.9 1381.6 138.5 1382.3 129.4 1383 136.3 1383.7 131.2 1384.4 136.6 1385.1 136.4 1385.8 139 1386.5 137.5 1387.2 135.6 1387.9 138.4 1388.6 137.1 1389.3 139.3 1390 138.9 1390.7 138.3 1391.4 137.5 1392.1 137.9 1392.8 137 1393.5 138.3 1394.2 135.8 1394.9 139.2 1395.6 137.8 1396.3 133.5 1397 136.1 1397.7 136.1 1398.4 135.3 1399.1 137.1 1399.8 138.8 1400.5 138.3 1401.2 139.5 1401.9 139.7 1402.6 138.4 1403.3 136.6 1404 137.9 1404.7 139.7 1405.4 139.7 1406.1 139.4 1406.8 139.5 1407.5 137.8 1408.2 121.5 1408.9 132.7 1409.6 134.3 1410.3 136.5 1411 140 1411.7 137.8 1412.4 139.9 1413.1 139.7 1413.8 139 1414.5 139.5 1415.2 138.8 1415.9 139.2 1416.6 138.2 1417.3 137.5 1418 131.5 1418.7 138.4 1419.4 138.4 1420.1 137.9 1420.8 139.7 1421.5 140.8 1422.2 140.3 1422.9 137.4 1423.6 138.6 1424.3 137.7 1425 139.8 1425.7 136.8 1426.4 138.5 1427.1 139.9 1427.8 139.9 1428.5 135.1 1429.2 139.3 1429.9 138.8 1430.6 139.6 1431.3 138.4 1432 140 1432.7 139.3 1433.4 140.2 1434.1 136.6 1434.8 139.8 1435.5 140.3 1436.2 140.1 1436.9 137.8 1437.6 137.2 1438.3 138.9 1439 138.4 1439.7 139.5 1440.4 139.5 1441.1 137.2 1441.8 138.7 1442.5 137.5 1443.2 137.2 1443.9 136.9 1444.6 139.5 1445.3 137.4 1446 134.6 1446.7 139.8 1447.4 139 1448.1 139.2 1448.8 139.7 1449.5 135.8 1450.2 140 1450.9 139.6 1451.6 139.2 1452.3 139.9 1453 139.1 1453.7 139.7 1454.4 139.6 1455.1 139.2 1455.8 137.1 1456.5 125.4 1457.2 134.8 1457.9 139.7 1458.6 138.3 1459.3 139.1 1460 139.2 1460.7 140.1 1461.4 139.7 1462.1 132.1 1462.8 139.1 1463.5 139.9 1464.2 118.8 1464.9 131.5 1465.6 138.4 1466.3 140.5 1467 140.4 1467.7 140 1468.4 134.3 1469.1 140 1469.8 136.9 1470.5 140.4 1471.2 138.6 1471.9 139.2 1472.6 135 1473.3 140.4 1474 137.4 1474.7 139.3 1475.4 139.2 1476.1 136.5 1476.8 139.5 1477.5 137.1 1478.2 137.1 1478.9 137.8 1479.6 139.5 1480.3 140.1 1481 140.4 1481.7 128.8 1482.4 140.4 1483.1 140.6 1483.8 138.3 1484.5 140.1 1485.2 139.7 1485.9 140.8 1486.6 140.8 1487.3 140.1 1488 140.3 1488.7 139.7 1489.4 139.9 1490.1 140 1490.8 140.4 1491.5 138.7 1492.2 140 1492.9 136.7 1493.6 139.1 1494.3 134.4 1495 133.1 1495.7 136.8 1495.7 151.4 1495 152.4 1494.3 151.5 1493.6 152.6 1492.9 154.6 1492.2 153.7 1491.5 158.7 1490.8 152.1 1490.1 152.2 1489.4 153.3 1488.7 152.2 1488 151.7 1487.3 154.2 1486.6 154.7 1485.9 159.2 1485.2 151.7 1484.5 153.1 1483.8 153.9 1483.1 155.3 1482.4 153.9 1481.7 152.9 1481 152.2 1480.3 153 1479.6 152 1478.9 155.4 1478.2 155.6 1477.5 151.8 1476.8 152.2 1476.1 151.4 1475.4 153.3 1474.7 154 1474 152.2 1473.3 155.8 1472.6 155.5 1471.9 153.6 1471.2 151.3 1470.5 152.8 1469.8 151.5 1469.1 151.5 1468.4 152.9 1467.7 153.3 1467 154.6 1466.3 151.5 1465.6 158.8 1464.9 151.6 1464.2 152.4 1463.5 156.4 1462.8 153.4 1462.1 151 1461.4 151.1 1460.7 154.8 1460 153.9 1459.3 151.5 1458.6 154.1 1457.9 151.4 1457.2 152.6 1456.5 152.8 1455.8 152.3 1455.1 151.2 1454.4 153 1453.7 152.1 1453 151.8 1452.3 153.9 1451.6 154.7 1450.9 151.5 1450.2 151.5 1449.5 152 1448.8 151.1 1448.1 153.7 1447.4 151.6 1446.7 150.8 1446 151.9 1445.3 151.6 1444.6 151.5 1443.9 151.3 1443.2 150.8 1442.5 152.5 1441.8 151.5 1441.1 151.2 1440.4 152.1 1439.7 150.7 1439 151.8 1438.3 154.3 1437.6 153.8 1436.9 151.3 1436.2 153.9 1435.5 151.3 1434.8 157.2 1434.1 151.5 1433.4 151.2 1432.7 158.1 1432 151 1431.3 152.3 1430.6 150.8 1429.9 152.7 1429.2 150.9 1428.5 151.8 1427.8 151.9 1427.1 151.7 1426.4 151.2 1425.7 153.9 1425 153.7 1424.3 152.2 1423.6 152.5 1422.9 153.1 1422.2 157.1 1421.5 151.8 1420.8 153.3 1420.1 151.5 1419.4 151.2 1418.7 151 1418 153 1417.3 150.9 1416.6 152.9 1415.9 155.8 1415.2 154.8 1414.5 151.8 1413.8 151.2 1413.1 154.7 1412.4 151 1411.7 151.2 1411 151.1 1410.3 152.2 1409.6 153.4 1408.9 155.6 1408.2 151.2 1407.5 151 1406.8 153 1406.1 155.1 1405.4 151 1404.7 151.9 1404 151.2 1403.3 150.9 1402.6 150.8 1401.9 156 1401.2 150.9 1400.5 151.6 1399.8 154.8 1399.1 150.2 1398.4 151 1397.7 151.4 1397 154.9 1396.3 150.4 1395.6 150.7 1394.9 150.2 1394.2 150.1 1393.5 150.7 1392.8 150.4 1392.1 150.2 1391.4 153.8 1390.7 150.9 1390 150.4 1389.3 153.5 1388.6 153.2 1387.9 152.7 1387.2 155.7 1386.5 150.1 1385.8 150 1385.1 154.3 1384.4 152.9 1383.7 154.5 1383 149.8 1382.3 151.7 1381.6 150 1380.9 151.1 1380.2 149.7 1379.5 150 1378.8 151.8 1378.1 155.1 1377.4 149.4 1376.7 149.8 1376 151.3 1375.3 149.4 1374.6 151.2 1373.9 150.1 1373.2 151.2 1372.5 152.2 1371.8 151.9 1371.1 151.6 1370.4 149.3 1369.7 153 1369 153.5 1368.3 150 1367.6 152.4 1366.9 152.5 1366.2 153.4 1365.5 151 1364.8 151.2 1364.1 153.4 1363.4 151.6 1362.7 149.5 1362 149.3 1361.3 151.8 1360.6 150.5 1359.9 151 1359.2 156.1 1358.5 153.6 1357.8 150.1 1357.1 149.2 1356.4 150 1355.7 149.1 1355 149.3 1354.3 151.2 1353.6 149.9 1352.9 152.8 1352.2 151.2 1351.5 152 1350.8 150.7 1350.1 153.5 1349.4 151.8 1348.7 149.7 1348 150.9 1347.3 148.9 1346.6 149 1345.9 152.1 1345.2 149.1 1344.5 158.1 1343.8 149.4 1343.1 151.3 1342.4 150.2 1341.7 151.9 1341 148.9 1340.3 149.4 1339.6 151.5 1338.9 153.5 1338.2 152 1337.5 150.4 1336.8 149.7 1336.1 150.5 1335.4 150 1334.7 153.6 1334 150.3 1333.3 151.9 1332.6 150.7 1331.9 155.6 1331.2 150.7 1330.5 151 1329.8 150.6 1329.1 150.2 1328.4 151 1327.7 159.8 1327 152.5 1326.3 153.4 1325.6 153.1 1324.9 150.8 1324.2 150.2 1323.5 149.8 1322.8 150.5 1322.1 150.3 1321.4 150 1320.7 150.9 1320 154.3 1319.3 153.1 1318.6 150.9 1317.9 150.5 1317.2 150 1316.5 149.9 1315.8 149.8 1315.1 149.8 1314.4 151.6 1313.7 153.8 1313 151.4 1312.3 151 1311.6 149.8 1310.9 151.3 1310.2 153 1309.5 154.4 1308.8 151 1308.1 153.9 1307.4 153.7 1306.7 150.1 1306 150.8 1305.3 153.2 1304.6 152.2 1303.9 151 1303.2 153.6 1302.5 150.7 1301.8 150.8 1301.1 152.3 1300.4 153.7 1299.7 151.4 1299 150.5 1298.3 150.1 1297.6 150.5 1296.9 150.1 1296.2 155.2 1295.5 149.7 1294.8 150.7 1294.1 150 1293.4 153.7 1292.7 152 1292 151 1291.3 152.2 1290.6 151.7 1289.9 151.2 1289.2 152.6 1288.5 152.7 1287.8 150.8 1287.1 150.2 1286.4 150.6 1285.7 150.5 1285 154.6 1284.3 150.5 1283.6 151.1 1282.9 152 1282.2 151 1281.5 151.2 1280.8 150.9 1280.1 151.9 1279.4 151.7 1278.7 151.1 1278 152.3 1277.3 150.7 1276.6 159.8 1275.9 153.1 1275.2 150.9 1274.5 153.5 1273.8 150.9 1273.1 151 1272.4 151.1 1271.7 152 1271 155.2 1270.3 152.9 1269.6 151 1268.9 152.6 1268.2 152.5 1267.5 151.1 1266.8 150.8 1266.1 154 1265.4 152.5 1264.7 151.9 1264 152.4 1263.3 151.2 1262.6 151.4 1261.9 151.2 1261.2 152.1 1260.5 154 1259.8 154.9 1259.1 152.2 1258.4 162.5 1257.7 151.3 1257 151.3 1256.3 151.8 1255.6 152.8 1254.9 151.2 1254.2 152.2 1253.5 152.5 1252.8 153.4 1252.1 151.1 1251.4 151.4 1250.7 151 1250 151.1 1249.3 151.4 1248.6 151.6 1247.9 151.9 1247.2 151 1246.5 151.6 1245.8 151.4 1245.1 152 1244.4 152.7 1243.7 154.4 1243 153 1242.3 152.7 1241.6 154.8 1240.9 151.6 1240.2 151.3 1239.5 156.1 1238.8 154.8 1238.1 151.5 1237.4 153.1 1236.7 154.2 1236 151.5 1235.3 152.1 1234.6 151.4 1233.9 155 1233.2 154.2 1232.5 151.8 1231.8 151.6 1231.1 151.5 1230.4 153.7 1229.7 151.9 1229 154.9 1228.3 152.2 1227.6 155.2 1226.9 151.8 1226.2 152.7 1225.5 157.3 1224.8 151.8 1224.1 154.4 1223.4 152.6 1222.7 151.7 1222 161.4 1221.3 151.8 1220.6 152.2 1219.9 151.8 1219.2 154.7 1218.5 152.1 1217.8 152.1 1217.1 153.3 1216.4 152.4 1215.7 152.6 1215 156.4 1214.3 154.3 1213.6 152.2 1212.9 162.1 1212.2 152.3 1211.5 152.9 1210.8 154.1 1210.1 152.4 1209.4 153.8 1208.7 154.6 1208 153.2 1207.3 154.1 1206.6 152.8 1205.9 155.3 1205.2 154.4 1204.5 153.9 1203.8 152.9 1203.1 154.4 1202.4 157 1201.7 154 1201 153.7 1200.3 154.4 1199.6 157.9 1198.9 154.6 1198.2 159.7 1197.5 153.9 1196.8 155.8 1196.1 153.8 1195.4 152.9 1194.7 154.2 1194 153.1 1193.3 152.7 1192.6 154.7 1191.9 152.5 1191.2 152.2 1190.5 152.2 1189.8 156.7 1189.1 153.2 1188.4 152.2 1187.7 152.8 1187 152 1186.3 152.1 1185.6 153.8 1184.9 152.8 1184.2 155.3 1183.5 152.5 1182.8 153.1 1182.1 152.4 1181.4 152.2 1180.7 155.6 1180 152.3 1179.3 152.3 1178.6 152.4 1177.9 155.5 1177.2 153.7 1176.5 153.3 1175.8 154.5 1175.1 153.4 1174.4 153.8 1173.7 152.5 1173 153 1172.3 159.7 1171.6 154.4 1170.9 153 1170.2 152.3 1169.5 152.5 1168.8 162.5 1168.1 152.2 1167.4 152.8 1166.7 152.3 1166 152 1165.3 153 1164.6 156.5 1163.9 153.4 1163.2 152.2 1162.5 152.1 1161.8 153.1 1161.1 154.1 1160.4 152.6 1159.7 152.8 1159 158 1158.3 153.8 1157.6 154.1 1156.9 158.2 1156.2 152.8 1155.5 154.5 1154.8 152.5 1154.1 152.2 1153.4 153.7 1152.7 154.9 1152 152.3 1151.3 152 1150.6 152.5 1149.9 157.3 1149.2 154.4 1148.5 153.8 1147.8 152.4 1147.1 152.7 1146.4 153.8 1145.7 152.9 1145 156.5 1144.3 154.8 1143.6 154.3 1142.9 153.9 1142.2 152.9 1141.5 154.7 1140.8 152.6 1140.1 153.3 1139.4 153.4 1138.7 153.5 1138 152.6 1137.3 154.6 1136.6 153.8 1135.9 155.2 1135.2 153 1134.5 154.3 1133.8 153.5 1133.1 152.4 1132.4 152.9 1131.7 154.8 1131 154 1130.3 154.4 1129.6 152.5 1128.9 152.5 1128.2 152.6 1127.5 158.8 1126.8 153.9 1126.1 154.4 1125.4 154.7 1124.7 153.7 1124 156.3 1123.3 153.1 1122.6 157.6 1121.9 152.5 1121.2 152.5 1120.5 153.9 1119.8 154.8 1119.1 156.6 1118.4 152.9 1117.7 156.6 1117 152.3 1116.3 153 1115.6 153.7 1114.9 155.6 1114.2 153.5 1113.5 152.5 1112.8 155.6 1112.1 155.7 1111.4 153.7 1110.7 152.5 1110 156.7 1109.3 153.5 1108.6 154.5 1107.9 152.7 1107.2 153 1106.5 152.8 1105.8 157.8 1105.1 153.6 1104.4 157.8 1103.7 153.5 1103 154.2 1102.3 154.5 1101.6 154.9 1100.9 152.7 1100.2 153.5 1099.5 153.2 1098.8 154.4 1098.1 154.7 1097.4 156 1096.7 159.6 1096 157.2 1095.3 152.4 1094.6 153.1 1093.9 154.8 1093.2 153.4 1092.5 152.9 1091.8 157.8 1091.1 155 1090.4 154.9 1089.7 154 1089 154 1088.3 152.6 1087.6 152.4 1086.9 153 1086.2 152.3 1085.5 153.1 1084.8 152.9 1084.1 152.4 1083.4 153.1 1082.7 161.8 1082 152.5 1081.3 153.1 1080.6 153.5 1079.9 153 1079.2 152.3 1078.5 153.9 1077.8 158.7 1077.1 152.4 1076.4 152.6 1075.7 152.7 1075 152 1074.3 152.3 1073.6 152.1 1072.9 151.9 1072.2 154.2 1071.5 151.6 1070.8 152.3 1070.1 151.5 1069.4 152.7 1068.7 153 1068 156.1 1067.3 156 1066.6 152.9 1065.9 153.3 1065.2 151.1 1064.5 153.4 1063.8 153.1 1063.1 151.1 1062.4 152.7 1061.7 151.3 1061 167.1 1060.3 154.2 1059.6 151.9 1058.9 151.4 1058.2 154.1 1057.5 151.4 1056.8 155.9 1056.1 157.3 1055.4 152.5 1054.7 153.4 1054 152 1053.3 153.5 1052.6 158.1 1051.9 152 1051.2 152.4 1050.5 153.4 1049.8 157.2 1049.1 154.2 1048.4 155.3 1047.7 154.6 1047 152.6 1046.3 156.1 1045.6 155.9 1044.9 154 1044.2 152 1043.5 153.3 1042.8 155.6 1042.1 152.8 1041.4 152.5 1040.7 154.6 1040 155.8 1039.3 153.6 1038.6 155.9 1037.9 152 1037.2 152 1036.5 152.9 1035.8 152.4 1035.1 158 1034.4 154 1033.7 153.1 1033 157 1032.3 152.2 1031.6 153.6 1030.9 159.8 1030.2 152.5 1029.5 153.2 1028.8 154.9 1028.1 153.2 1027.4 154 1026.7 153.5 1026 152.7 1025.3 154.5 1024.6 152.9 1023.9 152.8 1023.2 153.8 1022.5 153.4 1021.8 153.5 1021.1 156.7 1020.4 153 1019.7 155.4 1019 154.3 1018.3 159.7 1017.6 152.7 1016.9 152.2 1016.2 152 1015.5 155.1 1014.8 152.2 1014.1 152.8 1013.4 152.1 1012.7 154.5 1012 154.3 1011.3 151.5 1010.6 151.6 1009.9 151.5 1009.2 151.4 1008.5 151.4 1007.8 151.3 1007.1 157 1006.4 151.7 1005.7 153.3 1005 151.9 1004.3 151.2 1003.6 154.5 1002.9 153.9 1002.2 151.1 1001.5 151.7 1000.8 151.2 1000.1 151.5 999.4 157.3 998.7 152.8 998 151.3 997.3 152.6 996.6 157.8 995.9 151 995.2 151.5 994.5 154.9 993.8 156.3 993.1 152.9 992.4 151 991.7 151.3 991 152.2 990.3 157.7 989.6 151.1 988.9 151.1 988.2 153.3 987.5 154.1 986.8 151.7 986.1 154.2 985.4 151.4 984.7 151.2 984 152.8 983.3 152.8 982.6 153.2 981.9 152.4 981.2 152.4 980.5 154.2 979.8 154.2 979.1 153.5 978.4 151.4 977.7 151.7 977 154.6 976.3 153.8 975.6 154.2 974.9 151.9 974.2 154.9 973.5 155.1 972.8 152 972.1 152.8 971.4 151.7 970.7 151.8 970 151.6 969.3 151.4 968.6 151.4 967.9 151.8 967.2 151.7 966.5 151.9 965.8 151.5 965.1 154.1 964.4 151.3 963.7 154.7 963 151.2 962.3 151.1 961.6 151.5 960.9 153 960.2 151.3 959.5 153.8 958.8 153 958.1 159.3 957.4 155 956.7 153.2 956 153.4 955.3 151.7 954.6 151.9 953.9 154 953.2 151.4 952.5 152.8 951.8 151.4 951.1 152.1 950.4 152.3 949.7 152.7 949 152.6 948.3 152.5 947.6 153.8 946.9 154.3 946.2 151.9 945.5 157.4 944.8 151.9 944.1 154.7 943.4 153 942.7 151.9 942 152 941.3 152.2 940.6 151.7 939.9 151.9 939.2 151.9 938.5 153.1 937.8 154.9 937.1 153.6 936.4 152 935.7 153.2 935 153.8 934.3 153.4 933.6 153.9 932.9 152.4 932.2 152.6Z" fill="#070304"/>
<path d="M932.2 217.5 932.9 217 933.6 218.1 934.3 218.4 935 218.3 935.7 215.2 936.4 216.8 937.1 218.1 937.8 217.5 938.5 216.9 939.2 214.5 939.9 217.9 940.6 217.8 941.3 216.7 942 217 942.7 216.6 943.4 217.6 944.1 215.4 944.8 218.2 945.5 216.8 946.2 218.2 946.9 218.1 947.6 212.8 948.3 212.9 949 217.4 949.7 217.6 950.4 216.2 951.1 216.8 951.8 215.9 952.5 213.7 953.2 212.1 953.9 216.7 954.6 217.6 955.3 216.2 956 214.9 956.7 216.3 957.4 216.5 958.1 217.5 958.8 215.1 959.5 217.9 960.2 214.2 960.9 215.7 961.6 208.9 962.3 215.5 963 215.5 963.7 214.7 964.4 211.7 965.1 218 965.8 216.4 966.5 217.6 967.2 215.6 967.9 214.2 968.6 217.8 969.3 217.6 970 217.1 970.7 218.1 971.4 217.6 972.1 218.1 972.8 210.9 973.5 216.9 974.2 216.9 974.9 218.1 975.6 215.8 976.3 217.9 977 217.9 977.7 217.3 978.4 217.5 979.1 218 979.8 217.8 980.5 212.4 981.2 217.8 981.9 217.2 982.6 215 983.3 217.9 984 217.8 984.7 216.3 985.4 217.7 986.1 217.6 986.8 217.6 987.5 214.5 988.2 214 988.9 213.5 989.6 214.8 990.3 217.4 991 216.9 991.7 215.8 992.4 216.9 993.1 214.2 993.8 217.3 994.5 215.4 995.2 208.7 995.9 216.6 996.6 214.4 997.3 216.3 998 216.1 998.7 216 999.4 215.4 1000.1 217.1 1000.8 215.6 1001.5 215.6 1002.2 217.1 1002.9 217 1003.6 216.6 1004.3 195 1005 207.8 1005.7 214.6 1006.4 216.4 1007.1 215.7 1007.8 216.9 1008.5 215.6 1009.2 212.7 1009.9 214.6 1010.6 217.2 1011.3 217.2 1012 215.6 1012.7 216.3 1013.4 215.3 1014.1 217 1014.8 215.8 1015.5 214.5 1016.2 216.5 1016.9 215.8 1017.6 216.8 1018.3 213.4 1019 216.1 1019.7 212.8 1020.4 213.1 1021.1 216.8 1021.8 215 1022.5 216.6 1023.2 215.9 1023.9 216.7 1024.6 216.7 1025.3 216 1026 216.7 1026.7 214.3 1027.4 214 1028.1 214.8 1028.8 216.9 1029.5 215.4 1030.2 216.9 1030.9 215.3 1031.6 216.8 1032.3 216.8 1033 216.4 1033.7 214.3 1034.4 212.8 1035.1 215.6 1035.8 211.1 1036.5 214.4 1037.2 216.4 1037.9 216.4 1038.6 215.4 1039.3 215.5 1040 213.8 1040.7 214.9 1041.4 215.3 1042.1 212.5 1042.8 215.9 1043.5 215.9 1044.2 215.6 1044.9 203.9 1045.6 212 1046.3 212.9 1047 214.8 1047.7 214.4 1048.4 215.1 1049.1 213.6 1049.8 215.5 1050.5 214.6 1051.2 215.1 1051.9 211.3 1052.6 213.8 1053.3 210.4 1054 215.5 1054.7 216 1055.4 213.2 1056.1 215.8 1056.8 215.2 1057.5 215.7 1058.2 214.5 1058.9 214.3 1059.6 215.9 1060.3 215.8 1061 213.6 1061.7 212.5 1062.4 215.9 1063.1 214.9 1063.8 214.9 1064.5 213.1 1065.2 214.1 1065.9 199 1066.6 209.4 1067.3 214.7 1068 212.7 1068.7 213.8 1069.4 215.6 1070.1 214.9 1070.8 214.2 1071.5 214.1 1072.2 214 1072.9 213.9 1073.6 210.8 1074.3 214.4 1075 215.6 1075.7 202.7 1076.4 211.2 1077.1 215.5 1077.8 214.4 1078.5 214.1 1079.2 214.4 1079.9 214.8 1080.6 215.8 1081.3 211.2 1082 215.8 1082.7 211.3 1083.4 215.6 1084.1 216 1084.8 216 1085.5 213.9 1086.2 216.2 1086.9 216.1 1087.6 215.7 1088.3 215.3 1089 214.7 1089.7 216 1090.4 214.6 1091.1 215.8 1091.8 216.1 1092.5 215.6 1093.2 215.5 1093.9 216.1 1094.6 201.1 1095.3 210.5 1096 213.5 1096.7 215.4 1097.4 210.4 1098.1 215.1 1098.8 214.3 1099.5 214.1 1100.2 215.9 1100.9 210.6 1101.6 212.6 1102.3 215.2 1103 211.5 1103.7 214.1 1104.4 215 1105.1 211.7 1105.8 215.7 1106.5 213.1 1107.2 210.5 1107.9 215.6 1108.6 214.7 1109.3 213.2 1110 200.7 1110.7 210.1 1111.4 214.5 1112.1 214.3 1112.8 213.3 1113.5 210 1114.2 214.9 1114.9 215.1 1115.6 215.5 1116.3 212.7 1117 214.9 1117.7 215.8 1118.4 213.1 1119.1 209.8 1119.8 215 1120.5 212.6 1121.2 215.6 1121.9 214.7 1122.6 215.8 1123.3 211.8 1124 212.8 1124.7 215.9 1125.4 215.9 1126.1 212.5 1126.8 215.4 1127.5 214.2 1128.2 214.1 1128.9 214.3 1129.6 216.2 1130.3 199.2 1131 209.6 1131.7 215.1 1132.4 216.3 1133.1 215.5 1133.8 214.5 1134.5 216.5 1135.2 216.5 1135.9 215.9 1136.6 215.5 1137.3 215.3 1138 214.9 1138.7 214.1 1139.4 213.3 1140.1 216.5 1140.8 213.3 1141.5 213.9 1142.2 216.4 1142.9 215.4 1143.6 216.6 1144.3 216.9 1145 214.6 1145.7 215.8 1146.4 215.6 1147.1 216.3 1147.8 215 1148.5 215.8 1149.2 214.6 1149.9 215.1 1150.6 216.6 1151.3 216.8 1152 216.5 1152.7 213.9 1153.4 215.6 1154.1 216.2 1154.8 215 1155.5 215.6 1156.2 215.9 1156.9 215.8 1157.6 216.7 1158.3 215.4 1159 216.2 1159.7 214.8 1160.4 215.4 1161.1 212.6 1161.8 216.6 1162.5 216.8 1163.2 216.4 1163.9 213 1164.6 215.4 1165.3 215.4 1166 216.2 1166.7 213.9 1167.4 214.6 1168.1 214.2 1168.8 215.6 1169.5 215 1170.2 214.8 1170.9 214 1171.6 214.6 1172.3 214.9 1173 215 1173.7 215.8 1174.4 216.2 1175.1 216.8 1175.8 215.1 1176.5 216.6 1177.2 216.8 1177.9 216.9 1178.6 216.9 1179.3 215.5 1180 214.1 1180.7 215.9 1181.4 216.2 1182.1 214 1182.8 216.1 1183.5 216.2 1184.2 216.9 1184.9 217.2 1185.6 215.1 1186.3 216.2 1187 214.9 1187.7 214.7 1188.4 216.5 1189.1 215.1 1189.8 217.2 1190.5 217.2 1191.2 216.2 1191.9 217.1 1192.6 211.6 1193.3 211.8 1194 213.4 1194.7 215.8 1195.4 216.9 1196.1 216.8 1196.8 214.6 1197.5 216.7 1198.2 216.2 1198.9 213.7 1199.6 216.5 1200.3 216.1 1201 213.8 1201.7 213.2 1202.4 216.9 1203.1 214.1 1203.8 216.1 1204.5 216.2 1205.2 208.5 1205.9 213.9 1206.6 209 1207.3 214.5 1208 216.3 1208.7 214.5 1209.4 216.8 1210.1 192.1 1210.8 197.6 1211.5 201.9 1212.2 205.6 1212.9 208.6 1213.6 211 1214.3 212.9 1215 214.5 1215.7 215.8 1216.4 213.4 1217.1 209.7 1217.8 215.2 1218.5 211.1 1219.2 214.1 1219.9 216.8 1220.6 216.9 1221.3 211.9 1222 216.9 1222.7 215.1 1223.4 217 1224.1 215.9 1224.8 213.7 1225.5 216.7 1226.2 215.8 1226.9 213 1227.6 216.4 1228.3 215 1229 214.9 1229.7 216.6 1230.4 216.6 1231.1 214.4 1231.8 213.6 1232.5 215.6 1233.2 215.4 1233.9 215.4 1234.6 216.7 1235.3 216.2 1236 216.8 1236.7 214.4 1237.4 212.4 1238.1 215.9 1238.8 216.8 1239.5 214.4 1240.2 213.3 1240.9 214.1 1241.6 215.6 1242.3 216.2 1243 216.9 1243.7 214.9 1244.4 217.1 1245.1 216.9 1245.8 214.1 1246.5 213.7 1247.2 216.3 1247.9 216.7 1248.6 216.8 1249.3 214.2 1250 216.5 1250.7 215.3 1251.4 193.9 1252.1 207.1 1252.8 214.1 1253.5 215.1 1254.2 216.8 1254.9 216.1 1255.6 216.4 1256.3 216.9 1257 215.7 1257.7 214.7 1258.4 210 1259.1 216.8 1259.8 214.9 1260.5 216.7 1261.2 214.5 1261.9 214.5 1262.6 214.7 1263.3 215.6 1264 216.4 1264.7 216.6 1265.4 215.2 1266.1 215.1 1266.8 216.7 1267.5 216.5 1268.2 215.9 1268.9 215.2 1269.6 213.4 1270.3 213.1 1271 215.2 1271.7 216.8 1272.4 216.1 1273.1 216.7 1273.8 216.7 1274.5 215.2 1275.2 215.5 1275.9 214.6 1276.6 215.6 1277.3 213.5 1278 211.2 1278.7 208.6 1279.4 215.8 1280.1 216.2 1280.8 214.5 1281.5 216.7 1282.2 215.8 1282.9 213.4 1283.6 213.5 1284.3 213.6 1285 214.2 1285.7 214.7 1286.4 215.3 1287.1 215.7 1287.8 216.4 1288.5 215.9 1289.2 216.3 1289.9 215.2 1290.6 215.3 1291.3 212.4 1292 214.8 1292.7 210.8 1293.4 216.5 1294.1 215.7 1294.8 216 1295.5 216.2 1296.2 213.8 1296.9 216.4 1297.6 216.3 1298.3 216.4 1299 214.7 1299.7 212.6 1300.4 213.3 1301.1 215.9 1301.8 215.4 1302.5 216.1 1303.2 214.9 1303.9 212.9 1304.6 216.3 1305.3 216.4 1306 216.6 1306.7 216.7 1307.4 216.1 1308.1 216.2 1308.8 216 1309.5 215.6 1310.2 215.1 1310.9 216.1 1311.6 214.8 1312.3 215.6 1313 216.1 1313.7 215.7 1314.4 216.9 1315.1 214.3 1315.8 216.6 1316.5 216.6 1317.2 217 1317.9 216.7 1318.6 216.1 1319.3 216.1 1320 214.7 1320.7 216.5 1321.4 216.4 1322.1 214.3 1322.8 215 1323.5 216.9 1324.2 216.9 1324.9 215.5 1325.6 211.8 1326.3 213.4 1327 215.2 1327.7 216.8 1328.4 214 1329.1 216.7 1329.8 216.7 1330.5 215.5 1331.2 214.8 1331.9 215.9 1332.6 214.7 1333.3 215.7 1334 215.9 1334.7 216.7 1335.4 215.5 1336.1 216.9 1336.8 216.5 1337.5 216.2 1338.2 214.5 1338.9 216.9 1339.6 216.3 1340.3 216.7 1341 216.5 1341.7 213.8 1342.4 216.5 1343.1 216.1 1343.8 216.6 1344.5 216.6 1345.2 216.6 1345.9 214.2 1346.6 214.5 1347.3 214.3 1348 216.5 1348.7 215.1 1349.4 214.2 1350.1 216.3 1350.8 205.3 1351.5 212.9 1352.2 216.3 1352.9 216.3 1353.6 215.3 1354.3 216.2 1355 214.1 1355.7 214.2 1356.4 215.8 1357.1 213.4 1357.8 212.7 1358.5 216 1359.2 215.7 1359.9 215 1360.6 216.2 1361.3 216.3 1362 211.4 1362.7 214.9 1363.4 211.2 1364.1 214.9 1364.8 215.6 1365.5 215.4 1366.2 215.1 1366.9 214.9 1367.6 211.7 1368.3 212.6 1369 215.1 1369.7 215.7 1370.4 213.7 1371.1 212.6 1371.8 212.1 1372.5 214.1 1373.2 208.6 1373.9 213.3 1374.6 212.1 1375.3 216.1 1376 215.2 1376.7 208.8 1377.4 215.5 1378.1 215.8 1378.8 215.2 1379.5 212.3 1380.2 215.7 1380.9 214.7 1381.6 214.4 1382.3 213.4 1383 213.1 1383.7 215.9 1384.4 213.5 1385.1 216.1 1385.8 216.3 1386.5 215.8 1387.2 214.8 1387.9 216.4 1388.6 215.5 1389.3 210.7 1390 212.5 1390.7 213 1391.4 214.6 1392.1 212.8 1392.8 216.1 1393.5 215.2 1394.2 214.2 1394.9 214.7 1395.6 215.6 1396.3 215.5 1397 213 1397.7 212.7 1398.4 215.3 1399.1 214.9 1399.8 213.2 1400.5 216.2 1401.2 216.4 1401.9 214.3 1402.6 215.5 1403.3 216.6 1404 213.7 1404.7 216.4 1405.4 216 1406.1 216.4 1406.8 209.1 1407.5 216.4 1408.2 216.4 1408.9 215.7 1409.6 215.8 1410.3 216.4 1411 215.1 1411.7 215 1412.4 215.2 1413.1 214.8 1413.8 216.5 1414.5 210.7 1415.2 215.4 1415.9 216.2 1416.6 216.1 1417.3 215.4 1418 213.6 1418.7 216.6 1419.4 215.1 1420.1 213.7 1420.8 212 1421.5 216.5 1422.2 215.9 1422.9 216.3 1423.6 215.7 1424.3 214.5 1425 214.8 1425.7 215.5 1426.4 216.2 1427.1 216.5 1427.8 216.5 1428.5 215.1 1429.2 214.9 1429.9 215.7 1430.6 213.8 1431.3 215.4 1432 216.2 1432.7 216 1433.4 216.4 1434.1 208.8 1434.8 213.4 1435.5 214.7 1436.2 215.1 1436.9 215.9 1437.6 215.3 1438.3 216 1439 215 1439.7 216.2 1440.4 210.2 1441.1 215.2 1441.8 213.4 1442.5 215 1443.2 215.2 1443.9 207.4 1444.6 215 1445.3 214 1446 213.6 1446.7 215.3 1447.4 216.1 1448.1 209 1448.8 215.3 1449.5 216.1 1450.2 215.9 1450.9 202.3 1451.6 210.2 1452.3 213.4 1453 214.8 1453.7 216.1 1454.4 215 1455.1 215.2 1455.8 215.4 1456.5 215.2 1457.2 214.6 1457.9 214.7 1458.6 213.3 1459.3 213.2 1460 216 1460.7 216.1 1461.4 216 1462.1 216 1462.8 216 1463.5 216.1 1464.2 215.5 1464.9 211 1465.6 214 1466.3 215.6 1467 214.3 1467.7 214.9 1468.4 215.7 1469.1 216.2 1469.8 214.7 1470.5 215.6 1471.2 211.3 1471.9 215.1 1472.6 215.1 1473.3 216.5 1474 216.4 1474.7 215.3 1475.4 212.8 1476.1 198.6 1476.8 209.4 1477.5 211.9 1478.2 214.9 1478.9 215.6 1479.6 215.2 1480.3 215.5 1481 212.4 1481.7 216.1 1482.4 216.8 1483.1 213 1483.8 216.8 1484.5 216.6 1485.2 214.1 1485.9 216.7 1486.6 216.5 1487.3 216.3 1488 215.4 1488.7 216.6 1489.4 213.9 1490.1 216.3 1490.8 214 1491.5 216.5 1492.2 216.4 1492.9 216.7 1493.6 214.6 1493.6 227.8 1492.9 230.6 1492.2 229.8 1491.5 229.2 1490.8 228.3 1490.1 227.9 1489.4 227.1 1488.7 228.1 1488 230.6 1487.3 228.2 1486.6 228.7 1485.9 226.9 1485.2 230 1484.5 228.3 1483.8 231.5 1483.1 229 1482.4 227 1481.7 228.1 1481 229 1480.3 226.9 1479.6 232 1478.9 230.6 1478.2 228.4 1477.5 229.4 1476.8 228.2 1476.1 226.9 1475.4 229.5 1474.7 229.6 1474 227.6 1473.3 227.9 1472.6 226.6 1471.9 237.2 1471.2 226.5 1470.5 226.5 1469.8 227.5 1469.1 232.9 1468.4 227.7 1467.7 227.7 1467 230.4 1466.3 226.6 1465.6 226.8 1464.9 226.3 1464.2 226.3 1463.5 228.7 1462.8 227.1 1462.1 227.5 1461.4 226.2 1460.7 227 1460 229.1 1459.3 229 1458.6 227.6 1457.9 226.2 1457.2 226.7 1456.5 226.2 1455.8 228.1 1455.1 234.7 1454.4 228.2 1453.7 228.2 1453 227.1 1452.3 229.6 1451.6 228 1450.9 230.6 1450.2 226.4 1449.5 227.3 1448.8 226.5 1448.1 227.8 1447.4 227.5 1446.7 226.5 1446 227.1 1445.3 226.5 1444.6 226.5 1443.9 226.5 1443.2 230 1442.5 226.7 1441.8 227.3 1441.1 233.3 1440.4 226.5 1439.7 231.1 1439 231.9 1438.3 228.7 1437.6 228.5 1436.9 227.2 1436.2 226.9 1435.5 227.6 1434.8 227 1434.1 228.3 1433.4 228.1 1432.7 228.9 1432 227.4 1431.3 232.5 1430.6 227.6 1429.9 232 1429.2 227.5 1428.5 226.7 1427.8 226.7 1427.1 226.7 1426.4 226.5 1425.7 229.5 1425 227.3 1424.3 227.8 1423.6 228.1 1422.9 228 1422.2 229.2 1421.5 226.7 1420.8 229.6 1420.1 228.3 1419.4 232.8 1418.7 226.8 1418 227.2 1417.3 226.8 1416.6 227 1415.9 231.7 1415.2 227.9 1414.5 227 1413.8 228.1 1413.1 227.2 1412.4 227.4 1411.7 228.7 1411 229.8 1410.3 228.6 1409.6 226.7 1408.9 227.7 1408.2 226.8 1407.5 231.8 1406.8 233 1406.1 228.5 1405.4 226.6 1404.7 229.5 1404 227.9 1403.3 229.1 1402.6 227.3 1401.9 229 1401.2 227.5 1400.5 227.8 1399.8 230.4 1399.1 226.7 1398.4 229.1 1397.7 226.6 1397 228.7 1396.3 226.8 1395.6 229 1394.9 228.8 1394.2 228.1 1393.5 226.6 1392.8 227 1392.1 227 1391.4 233.3 1390.7 230.3 1390 227.1 1389.3 234.7 1388.6 226.6 1387.9 228.2 1387.2 226.7 1386.5 226.6 1385.8 229.3 1385.1 226.7 1384.4 229.5 1383.7 226.6 1383 227.6 1382.3 226.8 1381.6 226.7 1380.9 226.7 1380.2 227.6 1379.5 226.8 1378.8 229.2 1378.1 227 1377.4 229.8 1376.7 228.8 1376 227.2 1375.3 227.5 1374.6 228.8 1373.9 227 1373.2 226.6 1372.5 232.8 1371.8 228.8 1371.1 228.4 1370.4 226.6 1369.7 226.6 1369 228.9 1368.3 227.8 1367.6 226.6 1366.9 226.4 1366.2 226.4 1365.5 228.9 1364.8 226.6 1364.1 227.2 1363.4 232.8 1362.7 230.3 1362 230.3 1361.3 228.2 1360.6 226.8 1359.9 226.5 1359.2 226.7 1358.5 227.3 1357.8 228.2 1357.1 227.2 1356.4 229.5 1355.7 227.3 1355 228.5 1354.3 227 1353.6 228.6 1352.9 226.9 1352.2 230 1351.5 227.6 1350.8 227.8 1350.1 227 1349.4 226.5 1348.7 228.8 1348 231.1 1347.3 226.6 1346.6 232.6 1345.9 228.4 1345.2 227.3 1344.5 228.3 1343.8 226.8 1343.1 229.5 1342.4 227 1341.7 227.3 1341 227.5 1340.3 227.4 1339.6 230.2 1338.9 227.4 1338.2 229.6 1337.5 229.6 1336.8 228.2 1336.1 227.3 1335.4 228.7 1334.7 229.4 1334 227 1333.3 227.7 1332.6 233.1 1331.9 227.6 1331.2 227 1330.5 229.5 1329.8 227.5 1329.1 232.8 1328.4 228.4 1327.7 227.6 1327 229.7 1326.3 230.7 1325.6 228.3 1324.9 229.3 1324.2 227.1 1323.5 229.7 1322.8 228.6 1322.1 229.6 1321.4 227.7 1320.7 228.6 1320 230.4 1319.3 228.4 1318.6 230.4 1317.9 227.9 1317.2 227.2 1316.5 229.8 1315.8 227.1 1315.1 230.2 1314.4 228 1313.7 227.7 1313 227 1312.3 226.8 1311.6 228.2 1310.9 229.5 1310.2 231.8 1309.5 232.7 1308.8 228.7 1308.1 227.7 1307.4 226.7 1306.7 226.9 1306 231.2 1305.3 230.4 1304.6 226.7 1303.9 228.2 1303.2 228.5 1302.5 229.1 1301.8 227.8 1301.1 232.3 1300.4 230.5 1299.7 228.4 1299 226.9 1298.3 226.7 1297.6 226.6 1296.9 227.8 1296.2 227.2 1295.5 228.1 1294.8 228.7 1294.1 226.7 1293.4 227.4 1292.7 227 1292 226.7 1291.3 226.5 1290.6 226.6 1289.9 227.6 1289.2 228.1 1288.5 228.2 1287.8 229.5 1287.1 227.1 1286.4 228.4 1285.7 226.7 1285 227.4 1284.3 227.5 1283.6 227.8 1282.9 227.1 1282.2 227.8 1281.5 227.6 1280.8 231.2 1280.1 229 1279.4 227.7 1278.7 229.9 1278 228.3 1277.3 228.8 1276.6 229.9 1275.9 227 1275.2 233.7 1274.5 231.4 1273.8 228.7 1273.1 232.2 1272.4 231.9 1271.7 227.3 1271 228.4 1270.3 227.2 1269.6 228.8 1268.9 228.9 1268.2 227 1267.5 230.5 1266.8 234.7 1266.1 227.3 1265.4 228.7 1264.7 227.4 1264 226.9 1263.3 228.7 1262.6 228.5 1261.9 226.9 1261.2 231.6 1260.5 229.4 1259.8 227.5 1259.1 228 1258.4 230 1257.7 227.4 1257 227.6 1256.3 227.2 1255.6 233.3 1254.9 229 1254.2 227.2 1253.5 231.3 1252.8 227.7 1252.1 230.9 1251.4 229.1 1250.7 228.3 1250 229 1249.3 228.6 1248.6 228.6 1247.9 231.1 1247.2 227.8 1246.5 227.1 1245.8 235.3 1245.1 227.2 1244.4 227.4 1243.7 231 1243 227.1 1242.3 228.6 1241.6 227.1 1240.9 230.5 1240.2 227.2 1239.5 228.5 1238.8 227.5 1238.1 227.7 1237.4 227.4 1236.7 231.7 1236 227.3 1235.3 227.1 1234.6 229 1233.9 226.9 1233.2 227.7 1232.5 226.8 1231.8 228.1 1231.1 226.8 1230.4 228.6 1229.7 226.8 1229 227.8 1228.3 229.9 1227.6 227.9 1226.9 231.4 1226.2 227.1 1225.5 231.8 1224.8 227.3 1224.1 227.1 1223.4 228.4 1222.7 227.3 1222 227.1 1221.3 227.6 1220.6 227.1 1219.9 231.6 1219.2 227.1 1218.5 234.2 1217.8 227.1 1217.1 230 1216.4 230.1 1215.7 227 1215 227.2 1214.3 229 1213.6 229.9 1212.9 231.1 1212.2 229.5 1211.5 228.6 1210.8 236 1210.1 227.6 1209.4 229.7 1208.7 228.9 1208 234.2 1207.3 227.9 1206.6 234.4 1205.9 229.6 1205.2 227.3 1204.5 228.6 1203.8 232.3 1203.1 228.9 1202.4 228.9 1201.7 230.1 1201 227.1 1200.3 227.3 1199.6 227.6 1198.9 226.9 1198.2 229.4 1197.5 227.4 1196.8 227.4 1196.1 227.3 1195.4 228.9 1194.7 228.6 1194 228.2 1193.3 234.1 1192.6 232.1 1191.9 227.9 1191.2 231.1 1190.5 230.7 1189.8 227.6 1189.1 227.5 1188.4 229.7 1187.7 240.1 1187 230 1186.3 227.5 1185.6 228.8 1184.9 228.3 1184.2 228.1 1183.5 228.1 1182.8 228 1182.1 230.5 1181.4 227.6 1180.7 227.2 1180 228.7 1179.3 231.9 1178.6 231.3 1177.9 228.1 1177.2 228.8 1176.5 227 1175.8 227.8 1175.1 227 1174.4 227.2 1173.7 230.5 1173 227 1172.3 226.9 1171.6 228.5 1170.9 227.2 1170.2 227.3 1169.5 227.1 1168.8 230.2 1168.1 231 1167.4 226.9 1166.7 227.3 1166 228.5 1165.3 226.9 1164.6 227.4 1163.9 230.2 1163.2 229 1162.5 228.1 1161.8 227.4 1161.1 228 1160.4 228 1159.7 229.4 1159 227 1158.3 227.1 1157.6 233.4 1156.9 227.8 1156.2 228.2 1155.5 227.3 1154.8 228.4 1154.1 228.5 1153.4 227 1152.7 231.6 1152 229.7 1151.3 227.8 1150.6 230.4 1149.9 228.6 1149.2 231.9 1148.5 233.7 1147.8 227.9 1147.1 227.4 1146.4 229 1145.7 228 1145 228.4 1144.3 227.5 1143.6 229.1 1142.9 226.9 1142.2 228.6 1141.5 227.7 1140.8 226.7 1140.1 227.5 1139.4 227.3 1138.7 226.7 1138 227.5 1137.3 226.7 1136.6 227.7 1135.9 229.8 1135.2 227.9 1134.5 233.5 1133.8 227.3 1133.1 227.2 1132.4 228.1 1131.7 226.5 1131 226.6 1130.3 227.6 1129.6 230.8 1128.9 226.4 1128.2 226.4 1127.5 227.5 1126.8 226.2 1126.1 226.8 1125.4 229.3 1124.7 227.5 1124 226.3 1123.3 226.4 1122.6 226 1121.9 229.7 1121.2 226.6 1120.5 229.1 1119.8 225.9 1119.1 228.7 1118.4 227.2 1117.7 226.1 1117 226.4 1116.3 230.3 1115.6 229.3 1114.9 227 1114.2 226.6 1113.5 225.9 1112.8 232.5 1112.1 226.3 1111.4 226.1 1110.7 227.3 1110 225.8 1109.3 226.3 1108.6 230.3 1107.9 226.8 1107.2 230.3 1106.5 226 1105.8 227.1 1105.1 227.7 1104.4 226 1103.7 228.4 1103 226.9 1102.3 226.1 1101.6 226.1 1100.9 226.7 1100.2 226.2 1099.5 229.5 1098.8 226.7 1098.1 228.5 1097.4 228 1096.7 229 1096 226.6 1095.3 233.3 1094.6 227.2 1093.9 228 1093.2 227.6 1092.5 226.7 1091.8 227.8 1091.1 231.4 1090.4 227 1089.7 237.4 1089 236 1088.3 226.7 1087.6 227.5 1086.9 226.6 1086.2 226.9 1085.5 227 1084.8 226.3 1084.1 226.2 1083.4 229.1 1082.7 226.2 1082 226.2 1081.3 228.1 1080.6 228.7 1079.9 230.3 1079.2 226.5 1078.5 227.6 1077.8 226.9 1077.1 225.9 1076.4 228.5 1075.7 226.3 1075 225.8 1074.3 225.9 1073.6 226.2 1072.9 226.5 1072.2 231.6 1071.5 225.9 1070.8 226 1070.1 227.6 1069.4 225.8 1068.7 228.2 1068 226.2 1067.3 227.5 1066.6 226.1 1065.9 229.4 1065.2 233.2 1064.5 229.5 1063.8 231 1063.1 230.7 1062.4 227.3 1061.7 226.1 1061 226.1 1060.3 228.4 1059.6 226.8 1058.9 227.2 1058.2 226.3 1057.5 230.3 1056.8 228.3 1056.1 229.7 1055.4 226.5 1054.7 227.8 1054 226.1 1053.3 227.6 1052.6 230.7 1051.9 226.8 1051.2 226 1050.5 227.9 1049.8 226 1049.1 226.8 1048.4 226.7 1047.7 227.9 1047 226 1046.3 227.3 1045.6 226.1 1044.9 227.4 1044.2 226 1043.5 228.2 1042.8 226.2 1042.1 228.5 1041.4 226.7 1040.7 226.3 1040 226.9 1039.3 226.4 1038.6 226.5 1037.9 231.4 1037.2 231.7 1036.5 229.5 1035.8 228 1035.1 232.2 1034.4 232.2 1033.7 230 1033 226.9 1032.3 227 1031.6 230.6 1030.9 230 1030.2 227.2 1029.5 231 1028.8 231.8 1028.1 227.3 1027.4 228.2 1026.7 227.7 1026 227.3 1025.3 228 1024.6 230 1023.9 227.1 1023.2 229 1022.5 227.6 1021.8 229.1 1021.1 227.7 1020.4 227.1 1019.7 227.8 1019 229.1 1018.3 229.2 1017.6 227.6 1016.9 227.8 1016.2 228.3 1015.5 228.5 1014.8 227.6 1014.1 228.2 1013.4 230.5 1012.7 227.5 1012 227.6 1011.3 230 1010.6 227.4 1009.9 228.4 1009.2 227.5 1008.5 227.5 1007.8 230.3 1007.1 229 1006.4 227.3 1005.7 228.8 1005 227.3 1004.3 227.1 1003.6 229.3 1002.9 227.5 1002.2 227.4 1001.5 228.9 1000.8 230.2 1000.1 228.5 999.4 229.6 998.7 228.6 998 227.5 997.3 230.5 996.6 230 995.9 238.8 995.2 228.9 994.5 227.5 993.8 228.2 993.1 231.4 992.4 230.6 991.7 228.5 991 227.6 990.3 227.6 989.6 227.7 988.9 227.7 988.2 228.4 987.5 228.9 986.8 228.4 986.1 228 985.4 229.2 984.7 228.3 984 228 983.3 228.9 982.6 229 981.9 229.6 981.2 231.7 980.5 229.2 979.8 229.2 979.1 230.3 978.4 228 977.7 228.6 977 231.8 976.3 230.5 975.6 228.9 974.9 228.7 974.2 231.1 973.5 228.5 972.8 230.8 972.1 229.5 971.4 230.5 970.7 228.5 970 228.3 969.3 228.2 968.6 229.1 967.9 231.6 967.2 228.8 966.5 232.1 965.8 232.1 965.1 229.8 964.4 228.1 963.7 229.3 963 228 962.3 230.6 961.6 228.1 960.9 229.3 960.2 228.1 959.5 228.5 958.8 229.9 958.1 229 957.4 229.7 956.7 227.9 956 227.9 955.3 230.8 954.6 229.4 953.9 231 953.2 229.1 952.5 230 951.8 228.1 951.1 230.7 950.4 229.6 949.7 228.5 949 230.5 948.3 230.2 947.6 230.4 946.9 232.3 946.2 230.4 945.5 228.4 944.8 240.6 944.1 228.3 943.4 228.4 942.7 228.5 942 229.9 941.3 228.5 940.6 229.3 939.9 228.7 939.2 228.7 938.5 232.8 937.8 229.3 937.1 229.8 936.4 228.6 935.7 229.2 935 229.5 934.3 228.9 933.6 230.6 932.9 228.7 932.2 230.3Z" fill="#B71B29"/>
<polyline points="1535,165.9 1567,165.9 1567,148" fill="none" stroke="#211612" stroke-width="1.5" stroke-linejoin="miter"/>
<text transform="translate(1573.2 164.6) scale(1 1.045)">10 pA</text>
<text transform="translate(1456.2 194.5) scale(1 1.045)">500 ms</text>
<text transform="translate(609.2 1012.1) scale(1 1.045)">WT</text>
<text transform="translate(609.2 1208.1) scale(1 1.045)">cKO</text>
<rect x="648.7" y="1026.5" width="12.1" height="11.6" fill="#0093D8"/>
<rect x="648.7" y="1068.4" width="12.1" height="11.6" fill="#0093D8"/>
<rect x="648.7" y="1219" width="12.1" height="11.6" fill="#0093D8"/>
<rect x="648.7" y="1256.7" width="12.1" height="11.6" fill="#0093D8"/>
<path d="M608.1 1047.5 608.6 1048.9 609.1 1048.8 609.6 1046.7 610.1 1047 610.6 1046.7 611.1 1048.1 611.6 1047.4 612.1 1048.1 612.6 1045.1 613.1 1049.1 613.6 1047.2 614.1 1048.2 614.6 1047.2 615.1 1047 615.6 1047.8 616.1 1048.2 616.6 1046.9 617.1 1046.8 617.6 1047.8 618.1 1046.3 618.6 1045.5 619.1 1047.7 619.6 1046.5 620.1 1045 620.6 1046.3 621.1 1046.9 621.6 1046 622.1 1045.7 622.6 1047.5 623.1 1048.5 623.6 1047.2 624.1 1046.7 624.6 1047.8 625.1 1048.3 625.6 1047.2 626.1 1048.1 626.6 1048.8 627.1 1047.3 627.6 1046.5 628.1 1048 628.6 1048 629.1 1049.1 629.6 1046.2 630.1 1046.8 630.6 1046.6 631.1 1045.5 631.6 1047.8 632.1 1048.2 632.6 1046.7 633.1 1049.1 633.6 1048.7 634.1 1048.5 634.6 1048.3 635.1 1048.9 635.6 1046.4 636.1 1048.6 636.6 1048.4 637.1 1045.7 637.6 1048.1 638.1 1047.4 638.6 1048.6 639.1 1047.3 639.6 1047.8 640.1 1048.2 640.6 1046.9 641.1 1048.4 641.6 1047.6 642.1 1048.4 642.6 1047.3 643.1 1049.1 643.6 1048.6 644.1 1047.7 644.6 1048.6 645.1 1049.2 645.6 1049.9 646.1 1045.9 646.6 1049.1 647.1 1048.8 647.6 1048.2 648.1 1047 648.6 1049.5 649.1 1046.3 649.6 1048.5 650.1 1049.4 650.6 1045.9 651.1 1047.4 651.6 1046.2 652.1 1048 652.6 1049.6 653.1 1050.2 653.6 1045.6 654.1 1046.9 654.6 1048.4 655.1 1049.4 655.6 1047.9 656.1 1046.7 656.6 1047.8 657.1 1047.4 657.6 1047.1 658.1 1046.4 658.6 1047.4 659.1 1047.3 659.6 1046.9 660.1 1046.9 660.6 1045.5 661.1 1046.6 661.6 1048.5 662.1 1046.9 662.6 1045.6 663.1 1049 663.6 1047.9 664.1 1049.7 664.6 1047.4 665.1 1046.8 665.6 1045.5 666.1 1048.9 666.6 1050.4 667.1 1046.5 667.6 1046.7 668.1 1048.1 668.6 1046.5 669.1 1047.2 669.6 1047.1 670.1 1047.7 670.6 1048.9 671.1 1047.8 671.6 1048.8 672.1 1047.4 672.6 1048.1 673.1 1045.2 673.6 1046 674.1 1048.4 674.6 1046.9 675.1 1048.4 675.6 1048.5 676.1 1049.3 676.6 1048.5 677.1 1048.7 677.6 1047.4 678.1 1046.7 678.6 1046.8 679.1 1047.3 679.6 1046.5 680.1 1047.3 680.6 1048 681.1 1048.3 681.6 1047.6 682.1 1045.7 682.6 1047.8 683.1 1048.3 683.6 1049.3 684.1 1048.8 684.6 1047.5 685.1 1047.3 685.6 1050.6 686.1 1049.1 686.6 1050.3 687.1 1050.7 687.6 1047.5 688.1 1048.9 688.6 1049 689.1 1049.1 689.6 1049.1 690.1 1048.7 690.6 1048.7 691.1 1046.6 691.6 1048.2 692.1 1047.5 692.6 1048.4 693.1 1047.6 693.6 1048.8 694.1 1049.1 694.6 1048.6 695.1 1048.6 695.6 1048.3 696.1 1047.5 696.6 1047.9 697.1 1047.5 697.6 1048.5 698.1 1048.1 698.6 1048.6 699.1 1046.4 699.6 1048.9 700.1 1047.1 700.6 1046.9 701.1 1047.4 701.6 1047.1 702.1 1048 702.6 1047 703.1 1046.4 703.6 1046.6 704.1 1049.1 704.6 1047.8 705.1 1046.3 705.6 1047.7 706.1 1045.9 706.6 1049.7 707.1 1046 707.6 1048.2 708.1 1048.4 708.6 1046.1 709.1 1047.9 709.6 1048.6 710.1 1047.8 710.6 1047.4 711.1 1048.1 711.6 1047.4 712.1 1047.5 712.6 1046.8 713.1 1047.7 713.6 1045.9 714.1 1047.7 714.6 1046.2 715.1 1045.7 715.6 1047.2 716.1 1048.6 716.6 1047.7 717.1 1046.1 717.6 1047.4 718.1 1045.9 718.6 1046.4 719.1 1046.7 719.6 1043.9 720.1 1046.8 720.6 1045.3 721.1 1045.9 721.6 1045.1 722.1 1045.2 722.6 1045.8 723.1 1048 723.6 1048.8 724.1 1046.9 724.6 1048 725.1 1046.4 725.6 1044.6 726.1 1046.9 726.6 1047.2 727.1 1046.3 727.6 1047.1 728.1 1047.4 728.6 1045.8 729.1 1045.1 729.6 1046.7 730.1 1046.6 730.6 1046.3 731.1 1047.8 731.6 1048.7 732.1 1046.3 732.6 1047.5 733.1 1047.9 733.6 1047.8 734.1 1048.2 734.6 1046.4 735.1 1047.8 735.6 1049.2 736.1 1047.8 736.6 1046.2 737.1 1047.5 737.6 1048.4 738.1 1047.3 738.6 1046.3 739.1 1048.9 739.6 1046 740.1 1048.1 740.6 1047.6 741.1 1046.5 741.6 1049.2 742.1 1048.3 742.6 1046.8 743.1 1048.7 743.6 1047.6 744.1 1046 744.6 1047.4 745.1 1048.3 745.6 1048.9 746.1 1048.4 746.6 1048.2 747.1 1048.6 747.6 1047.8 748.1 1049.3 748.6 1048.2 749.1 1048.2 749.6 1048.6 750.1 1046.7 750.6 1047.2 751.1 1049.7 751.6 1048.3 752.1 1047.6 752.6 1048.3 753.1 1047.4 753.6 1048.4 754.1 1047.3 754.6 1048.5 755.1 1046.5 755.6 1049.9 756.1 1047.8 756.6 1046.5 757.1 1048.1 757.6 1047.9 758.1 1048.6 758.6 1047.1 759.1 1048.9 759.6 1052.6 760.1 1047 760.6 1049.1 761.1 1048.3 761.6 1048.8 762.1 1046.3 762.6 1047.1 763.1 1048.8 763.6 1048.2 764.1 1050.1 764.6 1047.5 765.1 1048.5 765.6 1051.7 766.1 1047.6 766.6 1047.5 767.1 1048.3 767.6 1048.2 768.1 1049.2 768.6 1048.4 769.1 1047.5 769.6 1048.3 770.1 1051.3 770.6 1049.7 771.1 1045 771.6 1048.1 772.1 1047.4 772.6 1049 773.1 1048 773.6 1050.4 774.1 1049.1 774.6 1049.1 775.1 1048.4 775.6 1048 776.1 1048.5 776.6 1049.7 777.1 1048.9 777.6 1047.9 778.1 1049.9 778.6 1048.6 779.1 1048.3 779.6 1047.4 780.1 1047.8 780.6 1047.6 781.1 1045 781.6 1049.2 782.1 1048.6 782.6 1047.7 783.1 1049.1 783.6 1048.2 784.1 1048 784.6 1044.8 785.1 1047.3 785.6 1048.1 786.1 1049.4 786.6 1049.7 787.1 1049.2 787.6 1046.2 788.1 1045 788.6 1048.1 789.1 1047.4 789.6 1048.5 790.1 1047.2 790.6 1047.5 791.1 1045.7 791.6 1048 792.1 1047.1 792.6 1048.1 793.1 1048.3 793.6 1047.7 794.1 1048.1 794.6 1047.7 795.1 1048.5 795.6 1048.2 796.1 1046.9 796.6 1047.1 797.1 1050 797.6 1047.9 798.1 1049.2 798.6 1048.5 799.1 1047.3 799.6 1047.1 800.1 1048.1 800.6 1048.2 801.1 1048.5 801.6 1046.4 802.1 1046.9 802.6 1047.6 803.1 1049.4 803.6 1044.9 804.1 1048.1 804.6 1046.9 805.1 1047.9 805.6 1046.9 806.1 1047.9 806.6 1049.4 807.1 1048 807.6 1048.1 808.1 1048 808.6 1046.7 809.1 1048.2 809.6 1047.4 810.1 1046.7 810.6 1047.7 811.1 1047.5 811.6 1048.6 812.1 1047.6 812.6 1047 813.1 1049.4 813.6 1049.1 814.1 1049.3 814.6 1048.4 815.1 1047.6 815.6 1047.2 816.1 1047.3 816.6 1048.7 817.1 1047.6 817.6 1045.8 818.1 1047.4 818.6 1045.8 819.1 1047.8 819.6 1046.1 820.1 1046.2 820.6 1047.8 821.1 1047.5 821.6 1045.5 822.1 1048.2 822.6 1049.8 823.1 1045.6 823.6 1049.5 824.1 1046.6 824.6 1046.8 825.1 1047.1 825.6 1045.4 826.1 1048.7 826.6 1047.7 827.1 1046.2 827.6 1046.6 828.1 1045.1 828.6 1046.4 829.1 1047.7 829.6 1044.6 830.1 1046.1 830.6 1046.7 831.1 1047.9 831.6 1048.1 832.1 1046.2 832.6 1045.8 833.1 1047.1 833.6 1046.2 834.1 1046.5 834.6 1048.1 835.1 1049 835.6 1047.2 836.1 1046.6 836.6 1047.6 837.1 1044.8 837.6 1047 838.1 1045.8 838.6 1049.7 839.1 1047.7 839.6 1047.1 840.1 1046.7 840.6 1044 841.1 1047.7 841.6 1048.9 842.1 1046.3 842.6 1047.9 843.1 1047.9 843.6 1045.2 844.1 1048.3 844.6 1048.9 845.1 1047.7 845.6 1047.3 846.1 1048.4 846.6 1045.7 847.1 1047.4 847.6 1048.6 848.1 1046 848.6 1048.7 849.1 1047 849.6 1045.1 850.1 1047.2" fill="none" stroke="#211612" stroke-width="2.4" stroke-linejoin="round"/>
<path d="M608.1 1091.7 608.6 1093 609.1 1092.6 609.6 1092.5 610.1 1093.5 610.6 1090.4 611.1 1091 611.6 1090 612.1 1091.4 612.6 1092.5 613.1 1091.3 613.6 1091.8 614.1 1088.9 614.6 1091.4 615.1 1090 615.6 1092.9 616.1 1091.8 616.6 1092 617.1 1090.7 617.6 1091.5 618.1 1091.6 618.6 1090.5 619.1 1090.4 619.6 1090.9 620.1 1090.3 620.6 1090.1 621.1 1090.5 621.6 1090.2 622.1 1092 622.6 1089.3 623.1 1092.1 623.6 1090.3 624.1 1090.2 624.6 1089.2 625.1 1090.5 625.6 1090.3 626.1 1090.7 626.6 1089.9 627.1 1090.5 627.6 1092.6 628.1 1091.1 628.6 1089.7 629.1 1091.5 629.6 1090.3 630.1 1091.3 630.6 1091.3 631.1 1090.1 631.6 1088.3 632.1 1090 632.6 1091.1 633.1 1090 633.6 1090.9 634.1 1091.5 634.6 1089.7 635.1 1091.7 635.6 1092.2 636.1 1091.5 636.6 1091.5 637.1 1091.3 637.6 1092.7 638.1 1090.5 638.6 1090.1 639.1 1090.9 639.6 1089.3 640.1 1088.5 640.6 1089.3 641.1 1090.8 641.6 1090.8 642.1 1088.7 642.6 1088.6 643.1 1090.4 643.6 1090.8 644.1 1090.9 644.6 1091.7 645.1 1092.6 645.6 1091.4 646.1 1091.8 646.6 1089.9 647.1 1089.6 647.6 1091.4 648.1 1092 648.6 1092 649.1 1091.8 649.6 1092 650.1 1092 650.6 1089.3 651.1 1090.5 651.6 1091.7 652.1 1092 652.6 1090.2 653.1 1103.2 653.6 1115 654.1 1128.8 654.6 1139.5 655.1 1144.6 655.6 1134.4 656.1 1129 656.6 1121.4 657.1 1115.3 657.6 1111.5 658.1 1105.5 658.6 1104.4 659.1 1102.9 659.6 1099.8 660.1 1098.7 660.6 1097.6 661.1 1096.6 661.6 1096.7 662.1 1094.9 662.6 1094 663.1 1094.6 663.6 1096 664.1 1092.8 664.6 1093.6 665.1 1091 665.6 1094.1 666.1 1093.1 666.6 1094 667.1 1092.5 667.6 1091.2 668.1 1093.3 668.6 1093.2 669.1 1091.2 669.6 1090.4 670.1 1092.6 670.6 1091.7 671.1 1094.8 671.6 1091.1 672.1 1091 672.6 1091.4 673.1 1089.5 673.6 1090.3 674.1 1093.3 674.6 1091.5 675.1 1090.7 675.6 1090 676.1 1092.3 676.6 1092.3 677.1 1091.9 677.6 1091 678.1 1091.6 678.6 1091.8 679.1 1090.6 679.6 1092.1 680.1 1089 680.6 1089.9 681.1 1091 681.6 1091.1 682.1 1089.9 682.6 1091.9 683.1 1092.6 683.6 1092.1 684.1 1091.8 684.6 1092.6 685.1 1092.1 685.6 1090.5 686.1 1091.6 686.6 1093.2 687.1 1090.2 687.6 1091.4 688.1 1091.1 688.6 1090.7 689.1 1090.5 689.6 1091.7 690.1 1092.1 690.6 1092 691.1 1090.3 691.6 1091.7 692.1 1092.5 692.6 1093 693.1 1092.6 693.6 1092.7 694.1 1093.1 694.6 1092.7 695.1 1090.7 695.6 1091.7 696.1 1090.8 696.6 1088.8 697.1 1089.5 697.6 1094 698.1 1090.3 698.6 1088.8 699.1 1090.6 699.6 1093.1 700.1 1091.1 700.6 1091.9 701.1 1091.2 701.6 1091.2 702.1 1092.8 702.6 1092.1 703.1 1091.2 703.6 1092.1 704.1 1092.2 704.6 1090.6 705.1 1091.3 705.6 1091.2 706.1 1090 706.6 1092.2 707.1 1090.8 707.6 1090.2 708.1 1089.1 708.6 1089.3 709.1 1092.5 709.6 1089.3 710.1 1091.2 710.6 1090.3 711.1 1091.2 711.6 1091.3 712.1 1089.6 712.6 1089.9 713.1 1090.4 713.6 1090.2 714.1 1090.1 714.6 1089.8 715.1 1091 715.6 1091.8 716.1 1091 716.6 1089.6 717.1 1090.9 717.6 1090.5 718.1 1090.9 718.6 1092.4 719.1 1090 719.6 1090.5 720.1 1089.4 720.6 1090.1 721.1 1089.6 721.6 1092 722.1 1090.5 722.6 1089.5 723.1 1092.5 723.6 1088.8 724.1 1091.2 724.6 1091.6 725.1 1091.2 725.6 1090.2 726.1 1090.4 726.6 1090.2 727.1 1091.6 727.6 1087.8 728.1 1090 728.6 1090.8 729.1 1090 729.6 1088.5 730.1 1090.4 730.6 1089.6 731.1 1091.4 731.6 1092.3 732.1 1090.7 732.6 1088.4 733.1 1090.3 733.6 1089.5 734.1 1091.3 734.6 1092.3 735.1 1090.7 735.6 1092.8 736.1 1092.3 736.6 1091.1 737.1 1089.3 737.6 1090.6 738.1 1088.7 738.6 1091.7 739.1 1090.6 739.6 1092.3 740.1 1091.1 740.6 1088.5 741.1 1091.5 741.6 1091.8 742.1 1092.6 742.6 1089.6 743.1 1089.7 743.6 1091 744.1 1089.6 744.6 1089.3 745.1 1089.7 745.6 1093.8 746.1 1090.1 746.6 1089.7 747.1 1090.4 747.6 1090.9 748.1 1092.4 748.6 1092 749.1 1091.7 749.6 1090.8 750.1 1090.8 750.6 1089.8 751.1 1088.7 751.6 1092.9 752.1 1090.1 752.6 1091.9 753.1 1090.3 753.6 1090.7 754.1 1090.8 754.6 1089.1 755.1 1090.6 755.6 1091.4 756.1 1092 756.6 1091.7 757.1 1092.1 757.6 1091.2 758.1 1090.9 758.6 1088.8 759.1 1090.4 759.6 1092.8 760.1 1091.3 760.6 1092.2 761.1 1091.1 761.6 1090.4 762.1 1093.5 762.6 1091.7 763.1 1093 763.6 1092.2 764.1 1091.3 764.6 1089.2 765.1 1091.9 765.6 1090 766.1 1089.2 766.6 1093.2 767.1 1092.6 767.6 1092.7 768.1 1092 768.6 1091.9 769.1 1092.4 769.6 1091.8 770.1 1091.7 770.6 1092.4 771.1 1088.7 771.6 1092.6 772.1 1091.1 772.6 1092.7 773.1 1092.9 773.6 1090.6 774.1 1092.5 774.6 1092.3 775.1 1090.5 775.6 1090.8 776.1 1091.5 776.6 1088.9 777.1 1090.9 777.6 1091.7 778.1 1090.9 778.6 1089.5 779.1 1091 779.6 1093.4 780.1 1093.2 780.6 1091.8 781.1 1091.1 781.6 1091.8 782.1 1092 782.6 1091.2 783.1 1091.7 783.6 1092.8 784.1 1093.1 784.6 1089.4 785.1 1093.3 785.6 1092.3 786.1 1093.4 786.6 1091.9 787.1 1092.3 787.6 1093.6 788.1 1088.2 788.6 1093.5 789.1 1091.8 789.6 1089.6 790.1 1088.5 790.6 1091.8 791.1 1090.2 791.6 1092.6 792.1 1091.7 792.6 1091.1 793.1 1092.4 793.6 1091.3 794.1 1091.8 794.6 1091.9 795.1 1091.2 795.6 1091.6 796.1 1091.7 796.6 1089.3 797.1 1090.4 797.6 1090.5 798.1 1090.3 798.6 1088.9 799.1 1090.3 799.6 1091.5 800.1 1091.3 800.6 1092.9 801.1 1090.5 801.6 1090.8 802.1 1090.6 802.6 1091.2 803.1 1090.9 803.6 1089.4 804.1 1091.8 804.6 1092.6 805.1 1092.7 805.6 1090.1 806.1 1091 806.6 1093.1 807.1 1090.8 807.6 1091.3 808.1 1090.9 808.6 1092.4 809.1 1092.4 809.6 1093.7 810.1 1091.6 810.6 1091.3 811.1 1089.4 811.6 1090.5 812.1 1090.2 812.6 1090.6 813.1 1089.4 813.6 1092.2 814.1 1089.6 814.6 1090.8 815.1 1089.1 815.6 1090.9 816.1 1092.3 816.6 1089.6 817.1 1091 817.6 1090.7 818.1 1091.2 818.6 1091 819.1 1089.8 819.6 1090.2 820.1 1090 820.6 1089.7 821.1 1089.3 821.6 1091.9 822.1 1090.1 822.6 1091.7 823.1 1091.5 823.6 1089.8 824.1 1092.1 824.6 1090 825.1 1091.8 825.6 1092.8 826.1 1090.4 826.6 1090.2 827.1 1090.3 827.6 1094 828.1 1091 828.6 1089.9 829.1 1092.3 829.6 1091.1 830.1 1091.4 830.6 1090.5 831.1 1089.1 831.6 1090.8 832.1 1090.2 832.6 1089.5 833.1 1090.1 833.6 1090.3 834.1 1092.3 834.6 1092.3 835.1 1092.4 835.6 1091.2 836.1 1090.5 836.6 1092.4 837.1 1092.6 837.6 1093.1 838.1 1091.8 838.6 1091.5 839.1 1092 839.6 1090.7 840.1 1090.9 840.6 1092.6 841.1 1090.3 841.6 1091.7 842.1 1092.5 842.6 1091.8 843.1 1092 843.6 1090.3 844.1 1091.4 844.6 1091.4 845.1 1092.3 845.6 1092.2 846.1 1091.9 846.6 1094 847.1 1092.6 847.6 1091.5 848.1 1091.2 848.6 1092.2 849.1 1091.6 849.6 1094.1 850.1 1092.6" fill="none" stroke="#211612" stroke-width="2.4" stroke-linejoin="round"/>
<path d="M608.1 1240.9 608.6 1235.3 609.1 1240 609.6 1239 610.1 1240.3 610.6 1239.3 611.1 1241 611.6 1238.9 612.1 1238.6 612.6 1240 613.1 1239.9 613.6 1239 614.1 1239.3 614.6 1240.3 615.1 1240.2 615.6 1238.7 616.1 1238.9 616.6 1237.4 617.1 1241.3 617.6 1239.1 618.1 1241.1 618.6 1240 619.1 1241.9 619.6 1241.4 620.1 1240 620.6 1241.4 621.1 1238.6 621.6 1241.1 622.1 1238 622.6 1240.2 623.1 1241.1 623.6 1240.1 624.1 1239.2 624.6 1238.6 625.1 1239.2 625.6 1240.9 626.1 1240.7 626.6 1239.4 627.1 1238.4 627.6 1240.5 628.1 1238 628.6 1239 629.1 1238.6 629.6 1240.2 630.1 1239.9 630.6 1240.2 631.1 1240.1 631.6 1238.9 632.1 1240.4 632.6 1241.4 633.1 1239.6 633.6 1240.3 634.1 1239.5 634.6 1240.7 635.1 1240.4 635.6 1240.6 636.1 1239.9 636.6 1241.5 637.1 1239.2 637.6 1239.2 638.1 1239.1 638.6 1240.6 639.1 1239.2 639.6 1239.1 640.1 1240.8 640.6 1241.3 641.1 1240.5 641.6 1236.8 642.1 1238.7 642.6 1238.5 643.1 1238.2 643.6 1239 644.1 1241.6 644.6 1239.3 645.1 1238.9 645.6 1240.6 646.1 1239.9 646.6 1239.9 647.1 1239 647.6 1239.7 648.1 1239.9 648.6 1237.3 649.1 1237.6 649.6 1240.5 650.1 1240.1 650.6 1238.6 651.1 1238 651.6 1238.8 652.1 1237.5 652.6 1238.5 653.1 1240.9 653.6 1239.1 654.1 1240.4 654.6 1238.7 655.1 1239.5 655.6 1240.4 656.1 1237.4 656.6 1238.6 657.1 1238.8 657.6 1239.6 658.1 1241.1 658.6 1240.1 659.1 1237.5 659.6 1238.9 660.1 1238 660.6 1237.8 661.1 1241.2 661.6 1237.7 662.1 1239.2 662.6 1238.2 663.1 1239.9 663.6 1239.3 664.1 1238.9 664.6 1238.7 665.1 1240 665.6 1237.7 666.1 1238 666.6 1237.4 667.1 1240.3 667.6 1238.4 668.1 1237.7 668.6 1238.4 669.1 1241.5 669.6 1238.6 670.1 1239.7 670.6 1239.3 671.1 1238.9 671.6 1238 672.1 1238.2 672.6 1238.1 673.1 1236 673.6 1241.6 674.1 1239.4 674.6 1238.4 675.1 1238 675.6 1237.2 676.1 1239.2 676.6 1237.8 677.1 1238.6 677.6 1236.6 678.1 1238.6 678.6 1240.5 679.1 1237.9 679.6 1239.2 680.1 1238.4 680.6 1239.6 681.1 1239.6 681.6 1238.5 682.1 1237.7 682.6 1238.7 683.1 1238.2 683.6 1237.5 684.1 1238.6 684.6 1238.7 685.1 1237.3 685.6 1238.3 686.1 1241.9 686.6 1239.5 687.1 1238.7 687.6 1241.4 688.1 1237.9 688.6 1235.4 689.1 1236.2 689.6 1236.6 690.1 1238.8 690.6 1239.6 691.1 1236 691.6 1239.7 692.1 1236.9 692.6 1238.7 693.1 1239.1 693.6 1239 694.1 1238.7 694.6 1238.9 695.1 1237.3 695.6 1239.1 696.1 1240 696.6 1239.9 697.1 1241.9 697.6 1240.1 698.1 1239.6 698.6 1240.6 699.1 1239 699.6 1237.3 700.1 1236.1 700.6 1240.2 701.1 1239.4 701.6 1239.8 702.1 1238.5 702.6 1239.2 703.1 1240.9 703.6 1239.1 704.1 1237.6 704.6 1238.7 705.1 1240.8 705.6 1237.8 706.1 1236.2 706.6 1236.6 707.1 1237.7 707.6 1240.2 708.1 1239.4 708.6 1238.3 709.1 1237.6 709.6 1239.1 710.1 1238.8 710.6 1238.6 711.1 1239 711.6 1238.4 712.1 1241.6 712.6 1236.9 713.1 1240 713.6 1238.8 714.1 1240.8 714.6 1239.8 715.1 1240.4 715.6 1240.6 716.1 1240.1 716.6 1240.9 717.1 1238.1 717.6 1240.9 718.1 1239.7 718.6 1240.4 719.1 1241.8 719.6 1241.1 720.1 1242 720.6 1237.1 721.1 1238.4 721.6 1240.7 722.1 1238.3 722.6 1239.2 723.1 1241.4 723.6 1240.6 724.1 1238.4 724.6 1240.1 725.1 1240.4 725.6 1239.6 726.1 1239.4 726.6 1239.5 727.1 1237.5 727.6 1239.2 728.1 1237.9 728.6 1239.5 729.1 1239.8 729.6 1238.2 730.1 1240 730.6 1239.6 731.1 1239.1 731.6 1240 732.1 1238.9 732.6 1238.8 733.1 1239.4 733.6 1239.1 734.1 1240.5 734.6 1236.2 735.1 1238.6 735.6 1236.8 736.1 1238.5 736.6 1239.3 737.1 1238.9 737.6 1239.9 738.1 1239 738.6 1235.6 739.1 1237.6 739.6 1240.6 740.1 1240.8 740.6 1239.2 741.1 1237.2 741.6 1241.4 742.1 1236.3 742.6 1238.9 743.1 1238.4 743.6 1238.6 744.1 1236.9 744.6 1237.7 745.1 1239.3 745.6 1237.6 746.1 1236.6 746.6 1238.4 747.1 1238.4 747.6 1238.1 748.1 1237.2 748.6 1238.8 749.1 1238 749.6 1237 750.1 1238.6 750.6 1238.4 751.1 1238.6 751.6 1236.5 752.1 1237.5 752.6 1239.2 753.1 1239.6 753.6 1239 754.1 1238.8 754.6 1239.4 755.1 1239.7 755.6 1240.4 756.1 1238.9 756.6 1237.7 757.1 1238.8 757.6 1236.1 758.1 1238.3 758.6 1237.7 759.1 1238.1 759.6 1238.6 760.1 1238 760.6 1236.4 761.1 1237.8 761.6 1237.4 762.1 1238.4 762.6 1238.8 763.1 1237.2 763.6 1239.3 764.1 1240 764.6 1238.4 765.1 1239.5 765.6 1236.8 766.1 1237.9 766.6 1239.5 767.1 1236.5 767.6 1238.1 768.1 1237.8 768.6 1240 769.1 1239.9 769.6 1237.9 770.1 1238.7 770.6 1235.4 771.1 1239.5 771.6 1238.9 772.1 1240 772.6 1235.8 773.1 1238.9 773.6 1238.2 774.1 1235.6 774.6 1237.8 775.1 1238.5 775.6 1239.5 776.1 1238.8 776.6 1238 777.1 1239.2 777.6 1238.4 778.1 1237.7 778.6 1237.3 779.1 1238.6 779.6 1238.6 780.1 1240.5 780.6 1237.8 781.1 1240.1 781.6 1238.6 782.1 1239.7 782.6 1237.3 783.1 1237.5 783.6 1238.1 784.1 1239.4 784.6 1238.4 785.1 1239.1 785.6 1238.5 786.1 1239.2 786.6 1238.4 787.1 1237.6 787.6 1239 788.1 1238.7 788.6 1240.8 789.1 1238.7 789.6 1239.2 790.1 1238.7 790.6 1240.3 791.1 1239.9 791.6 1239.4 792.1 1237.3 792.6 1237.1 793.1 1239 793.6 1239.7 794.1 1240.4 794.6 1236.7 795.1 1238.4 795.6 1236.8 796.1 1237.7 796.6 1238.6 797.1 1239.8 797.6 1238 798.1 1237.8 798.6 1238.4 799.1 1240.1 799.6 1241.3 800.1 1236.8 800.6 1238.4 801.1 1238.2 801.6 1240 802.1 1239.1 802.6 1240.4 803.1 1237.4 803.6 1238.7 804.1 1237.9 804.6 1237.3 805.1 1238.5 805.6 1237.2 806.1 1241.1 806.6 1239.2 807.1 1237.5 807.6 1238.1 808.1 1241 808.6 1238.3 809.1 1239.7 809.6 1239.5 810.1 1240.2 810.6 1239.6 811.1 1238.8 811.6 1238.3 812.1 1236.8 812.6 1238.7 813.1 1238.9 813.6 1238.2 814.1 1238.6 814.6 1237.5 815.1 1241.4 815.6 1238.5 816.1 1238.1 816.6 1238.5 817.1 1239 817.6 1239.9 818.1 1236.1 818.6 1239.2 819.1 1237.8 819.6 1238.1 820.1 1239.6 820.6 1239.3 821.1 1237.4 821.6 1238.2 822.1 1240.5 822.6 1240 823.1 1239.5 823.6 1238.4 824.1 1239.6 824.6 1238.9 825.1 1237.8 825.6 1237.3 826.1 1239 826.6 1238.9 827.1 1240.1 827.6 1238.1 828.1 1240.3 828.6 1238.1 829.1 1240.2 829.6 1239.5 830.1 1238.2 830.6 1237.6 831.1 1238.6 831.6 1238.4 832.1 1239.9 832.6 1237.8 833.1 1237.1 833.6 1238.6 834.1 1241 834.6 1240.5 835.1 1237.9 835.6 1238.2 836.1 1238.9 836.6 1237.6 837.1 1238 837.6 1237.9 838.1 1237 838.6 1237.5 839.1 1237.5 839.6 1238.4 840.1 1236.8 840.6 1238.4 841.1 1237.1 841.6 1237.3 842.1 1237.1 842.6 1243.2 843.1 1240.1 843.6 1240.1 844.1 1239.4 844.6 1238.2 845.1 1238.5 845.6 1238.8 846.1 1238.8 846.6 1239 847.1 1240.2 847.6 1235 848.1 1237.6 848.6 1239.1 849.1 1238 849.6 1238.2 850.1 1240.1" fill="none" stroke="#B71B29" stroke-width="2.4" stroke-linejoin="round"/>
<path d="M608.1 1277.6 608.6 1275.7 609.1 1275.2 609.6 1273.7 610.1 1276.6 610.6 1278.3 611.1 1277 611.6 1277.3 612.1 1277.8 612.6 1275.4 613.1 1279.2 613.6 1274.8 614.1 1276.3 614.6 1279.2 615.1 1275.7 615.6 1275.9 616.1 1275.1 616.6 1275.9 617.1 1272.9 617.6 1274.6 618.1 1277.3 618.6 1275.5 619.1 1275 619.6 1275.8 620.1 1275.8 620.6 1275.5 621.1 1275.8 621.6 1273.3 622.1 1275.8 622.6 1274.4 623.1 1276.1 623.6 1275 624.1 1273.6 624.6 1274.6 625.1 1273.6 625.6 1276.3 626.1 1275.4 626.6 1276.6 627.1 1274.6 627.6 1277.9 628.1 1275.9 628.6 1278.3 629.1 1277.7 629.6 1275.5 630.1 1277 630.6 1276 631.1 1276.7 631.6 1277.8 632.1 1276.9 632.6 1277.5 633.1 1275 633.6 1276.3 634.1 1276.3 634.6 1276.8 635.1 1274.6 635.6 1275.7 636.1 1275.6 636.6 1273.4 637.1 1274.1 637.6 1275.8 638.1 1273.7 638.6 1273.9 639.1 1276.4 639.6 1275.5 640.1 1275.1 640.6 1275.6 641.1 1274.9 641.6 1275 642.1 1275.1 642.6 1276.3 643.1 1277.5 643.6 1275.4 644.1 1275.8 644.6 1275.9 645.1 1274.8 645.6 1276.6 646.1 1277.3 646.6 1275.2 647.1 1277.3 647.6 1275.9 648.1 1277.8 648.6 1278.1 649.1 1276.2 649.6 1274.4 650.1 1276.4 650.6 1275.2 651.1 1275.9 651.6 1277 652.1 1279 652.6 1277.3 653.1 1277.1 653.6 1275.3 654.1 1280.4 654.6 1291.7 655.1 1309.4 655.6 1325.1 656.1 1342.9 656.6 1358.3 657.1 1370.5 657.6 1380.6 658.1 1384.2 658.6 1377.8 659.1 1369.7 659.6 1362 660.1 1355.9 660.6 1347.9 661.1 1343.7 661.6 1336 662.1 1331.4 662.6 1325.7 663.1 1324 663.6 1318.4 664.1 1315 664.6 1314.6 665.1 1310.6 665.6 1308.2 666.1 1307.9 666.6 1305 667.1 1304.5 667.6 1301.2 668.1 1300.9 668.6 1299.7 669.1 1297.1 669.6 1298 670.1 1294.4 670.6 1293.5 671.1 1293.1 671.6 1293.4 672.1 1291.2 672.6 1290.4 673.1 1290.7 673.6 1291.3 674.1 1288.7 674.6 1287 675.1 1288 675.6 1288.7 676.1 1287 676.6 1287.7 677.1 1284.8 677.6 1286.5 678.1 1286.4 678.6 1286.7 679.1 1286.2 679.6 1286.2 680.1 1283.8 680.6 1285.5 681.1 1282.6 681.6 1283.7 682.1 1285.2 682.6 1284.8 683.1 1281.6 683.6 1284.4 684.1 1283.3 684.6 1282.5 685.1 1283.2 685.6 1283 686.1 1284 686.6 1280.5 687.1 1281.7 687.6 1281.8 688.1 1279.9 688.6 1283 689.1 1283.8 689.6 1281.1 690.1 1282 690.6 1281.5 691.1 1282 691.6 1281.2 692.1 1282.7 692.6 1280.3 693.1 1283.3 693.6 1281.9 694.1 1284.3 694.6 1279.6 695.1 1281.1 695.6 1279.7 696.1 1280.6 696.6 1281.1 697.1 1279.2 697.6 1278.7 698.1 1278.6 698.6 1280.8 699.1 1282.3 699.6 1282 700.1 1280.6 700.6 1279.5 701.1 1280 701.6 1278.5 702.1 1278 702.6 1280.9 703.1 1279.3 703.6 1280.1 704.1 1279.1 704.6 1281 705.1 1281.2 705.6 1278.7 706.1 1279.2 706.6 1278.8 707.1 1281.4 707.6 1281.3 708.1 1279.4 708.6 1282.3 709.1 1279.6 709.6 1278.4 710.1 1277.4 710.6 1279.3 711.1 1279.8 711.6 1278.8 712.1 1280.1 712.6 1281.1 713.1 1279.7 713.6 1280.5 714.1 1281.2 714.6 1279.8 715.1 1278.7 715.6 1279.9 716.1 1279.9 716.6 1282 717.1 1278.9 717.6 1277.6 718.1 1279.5 718.6 1279.5 719.1 1278.3 719.6 1279.3 720.1 1278.8 720.6 1279.5 721.1 1277.1 721.6 1276.6 722.1 1277.7 722.6 1277.2 723.1 1279.2 723.6 1278.5 724.1 1277.8 724.6 1279.3 725.1 1278.3 725.6 1278.7 726.1 1278.5 726.6 1277.2 727.1 1277.2 727.6 1277.5 728.1 1275.9 728.6 1276.9 729.1 1278.2 729.6 1277.6 730.1 1276.3 730.6 1279.9 731.1 1275.7 731.6 1277.6 732.1 1278 732.6 1278.7 733.1 1276.2 733.6 1276.8 734.1 1276.9 734.6 1278.4 735.1 1277.5 735.6 1277.3 736.1 1277.1 736.6 1278.7 737.1 1277.2 737.6 1277.5 738.1 1275.3 738.6 1277.1 739.1 1274.9 739.6 1277.2 740.1 1276.5 740.6 1275.6 741.1 1275.3 741.6 1276.5 742.1 1276.6 742.6 1276 743.1 1276 743.6 1276 744.1 1275.9 744.6 1276.1 745.1 1276.5 745.6 1277.8 746.1 1277.1 746.6 1275.3 747.1 1278 747.6 1277.5 748.1 1276 748.6 1277.7 749.1 1275.9 749.6 1275.7 750.1 1275.8 750.6 1278.7 751.1 1276.9 751.6 1277.8 752.1 1277.4 752.6 1276.8 753.1 1278 753.6 1278.3 754.1 1279.6 754.6 1276.3 755.1 1278.8 755.6 1277.7 756.1 1275.1 756.6 1278.3 757.1 1279 757.6 1278.2 758.1 1277.6 758.6 1277.7 759.1 1275.3 759.6 1278 760.1 1277.6 760.6 1276.7 761.1 1278.4 761.6 1277.6 762.1 1280.8 762.6 1276.8 763.1 1277.2 763.6 1276.1 764.1 1278.2 764.6 1278.8 765.1 1278.6 765.6 1278 766.1 1280 766.6 1279.3 767.1 1280.4 767.6 1278.9 768.1 1277.3 768.6 1279.3 769.1 1278.1 769.6 1280.4 770.1 1278.3 770.6 1278.7 771.1 1278.8 771.6 1277.1 772.1 1278.5 772.6 1279.7 773.1 1278.1 773.6 1278.6 774.1 1278.9 774.6 1278.1 775.1 1278.7 775.6 1279.4 776.1 1278.6 776.6 1279.1 777.1 1278.8 777.6 1277.8 778.1 1277.7 778.6 1281.2 779.1 1281 779.6 1279.3 780.1 1280.6 780.6 1280.7 781.1 1280.5 781.6 1278.7 782.1 1277.5 782.6 1277.7 783.1 1278.9 783.6 1280.8 784.1 1281.3 784.6 1279.3 785.1 1279 785.6 1280.9 786.1 1282 786.6 1278.8 787.1 1280.5 787.6 1280.2 788.1 1279.4 788.6 1279.3 789.1 1279 789.6 1279.3 790.1 1277.3 790.6 1279.2 791.1 1279.9 791.6 1279.6 792.1 1279.8 792.6 1279.3 793.1 1279 793.6 1280.9 794.1 1278.4 794.6 1278.8 795.1 1280.3 795.6 1278.6 796.1 1277.3 796.6 1278.1 797.1 1278.1 797.6 1278.4 798.1 1277.8 798.6 1279.5 799.1 1279.3 799.6 1278.9 800.1 1278.1 800.6 1279.7 801.1 1279.7 801.6 1280.9 802.1 1277.8 802.6 1278.2 803.1 1280.1 803.6 1277.2 804.1 1278.8 804.6 1278.6 805.1 1278.4 805.6 1277.3 806.1 1278.3 806.6 1276.6 807.1 1279.6 807.6 1277.7 808.1 1278.2 808.6 1278 809.1 1278 809.6 1277.8 810.1 1278.2 810.6 1277 811.1 1277.7 811.6 1276.3 812.1 1276.3 812.6 1276.3 813.1 1276 813.6 1275.7 814.1 1276.5 814.6 1277.9 815.1 1277.9 815.6 1277 816.1 1277.8 816.6 1277.9 817.1 1280.5 817.6 1275.6 818.1 1277.8 818.6 1275.8 819.1 1279 819.6 1277.4 820.1 1278.5 820.6 1277.8 821.1 1278.2 821.6 1274.1 822.1 1275.9 822.6 1277.4 823.1 1276.2 823.6 1278.3 824.1 1279.1 824.6 1276.2 825.1 1276.9 825.6 1278 826.1 1278.9 826.6 1278 827.1 1277.5 827.6 1275.4 828.1 1276.7 828.6 1276.8 829.1 1275.8 829.6 1276.9 830.1 1276.4 830.6 1276.2 831.1 1279.2 831.6 1276.6 832.1 1278.5 832.6 1275.9 833.1 1276.1 833.6 1274.8 834.1 1275.4 834.6 1278 835.1 1276.3 835.6 1274.1 836.1 1277.9 836.6 1275.4 837.1 1275.9 837.6 1276.3 838.1 1274.2 838.6 1278.1 839.1 1278.1 839.6 1276.2 840.1 1277 840.6 1276.4 841.1 1275.8 841.6 1276.2 842.1 1274.7 842.6 1276.1 843.1 1276 843.6 1278.9 844.1 1274.8 844.6 1277.9 845.1 1277.4 845.6 1277 846.1 1276 846.6 1278.6 847.1 1278.3 847.6 1276.6 848.1 1276.3 848.6 1276.6 849.1 1278.2 849.6 1275.1 850.1 1276.2" fill="none" stroke="#B71B29" stroke-width="2.4" stroke-linejoin="round"/>
<polyline points="727,1354.6 784.9,1354.6 784.9,1314.6" fill="none" stroke="#211612" stroke-width="1.8" stroke-linejoin="miter"/>
<text transform="translate(791 1342.4) scale(1 1.045)">50pA</text>
<text transform="translate(690.8 1389.6) scale(1 1.045)">50 ms</text>
<line x1="987.7" y1="953.5" x2="987.7" y2="1427.8" stroke="#050303" stroke-width="2.5"/>
<line x1="975.4" y1="1427.8" x2="987.7" y2="1427.8" stroke="#050303" stroke-width="2.5"/>
<text transform="translate(969.3 1436.3) scale(1 1.045)" text-anchor="end">0</text>
<line x1="975.4" y1="1309.5" x2="987.7" y2="1309.5" stroke="#050303" stroke-width="2.5"/>
<text transform="translate(969.3 1318) scale(1 1.045)" text-anchor="end">25</text>
<line x1="975.4" y1="1191.3" x2="987.7" y2="1191.3" stroke="#050303" stroke-width="2.5"/>
<text transform="translate(969.3 1199.8) scale(1 1.045)" text-anchor="end">50</text>
<line x1="975.4" y1="1073" x2="987.7" y2="1073" stroke="#050303" stroke-width="2.5"/>
<text transform="translate(969.3 1081.5) scale(1 1.045)" text-anchor="end">75</text>
<line x1="975.4" y1="954.8" x2="987.7" y2="954.8" stroke="#050303" stroke-width="2.5"/>
<text transform="translate(969.3 963.3) scale(1 1.045)" text-anchor="end">100</text>
<line x1="976" y1="1427.8" x2="1284.2" y2="1427.8" stroke="#050303" stroke-width="2.5"/>
<line x1="1076.4" y1="1427.8" x2="1076.4" y2="1439.5" stroke="#050303" stroke-width="2.5"/>
<line x1="1194.5" y1="1427.8" x2="1194.5" y2="1439.5" stroke="#050303" stroke-width="2.5"/>
<text transform="translate(1076.4 1472.8) scale(1 1.045)" text-anchor="middle">WT</text>
<text transform="translate(1194.5 1472.8) scale(1 1.045)" text-anchor="middle">cKO</text>
<text transform="translate(915.8 1188.5) rotate(-90) scale(1 1.045)" text-anchor="middle">oEPSC positive neuron (%)</text>
<rect x="1038.6" y="1213.1" width="76" height="214.7" fill="#B71B29"/>
<rect x="1038.6" y="954.7" width="76" height="473.1" fill="none" stroke="#000" stroke-width="2.4"/>
<line x1="1038.6" y1="1213.1" x2="1114.6" y2="1213.1" stroke="#000" stroke-width="2.4"/>
<rect x="1157.4" y="1220.6" width="76" height="207.2" fill="#B71B29"/>
<rect x="1157.4" y="954.7" width="76" height="473.1" fill="none" stroke="#000" stroke-width="2.4"/>
<line x1="1157.4" y1="1220.6" x2="1233.4" y2="1220.6" stroke="#000" stroke-width="2.4"/>
<text transform="translate(1076.4 1420.4) scale(1 1.045)" text-anchor="middle" font-size="24" fill="#fff">20/44</text>
<text transform="translate(1195.4 1420.4) scale(1 1.045)" text-anchor="middle" font-size="24" fill="#fff">25/57</text>
<line x1="1425.3" y1="953.3" x2="1425.3" y2="1428.9" stroke="#050303" stroke-width="2.5"/>
<line x1="1413" y1="1428.9" x2="1425.3" y2="1428.9" stroke="#050303" stroke-width="2.5"/>
<text transform="translate(1407.3 1437.4) scale(1 1.045)" text-anchor="end">0</text>
<line x1="1413" y1="1310.3" x2="1425.3" y2="1310.3" stroke="#050303" stroke-width="2.5"/>
<text transform="translate(1407.3 1318.8) scale(1 1.045)" text-anchor="end">200</text>
<line x1="1413" y1="1191.7" x2="1425.3" y2="1191.7" stroke="#050303" stroke-width="2.5"/>
<text transform="translate(1407.3 1200.2) scale(1 1.045)" text-anchor="end">400</text>
<line x1="1413" y1="1073.1" x2="1425.3" y2="1073.1" stroke="#050303" stroke-width="2.5"/>
<text transform="translate(1407.3 1081.6) scale(1 1.045)" text-anchor="end">600</text>
<line x1="1413" y1="954.5" x2="1425.3" y2="954.5" stroke="#050303" stroke-width="2.5"/>
<text transform="translate(1407.3 963) scale(1 1.045)" text-anchor="end">800</text>
<line x1="1413" y1="1428.9" x2="1722" y2="1428.9" stroke="#050303" stroke-width="2.5"/>
<line x1="1514.3" y1="1428.9" x2="1514.3" y2="1440.4" stroke="#050303" stroke-width="2.5"/>
<line x1="1632.5" y1="1428.9" x2="1632.5" y2="1440.4" stroke="#050303" stroke-width="2.5"/>
<text transform="translate(1514.3 1473.5) scale(1 1.045)" text-anchor="middle">WT</text>
<text transform="translate(1632.5 1473.5) scale(1 1.045)" text-anchor="middle">cKO</text>
<text transform="translate(1335.2 1192.2) rotate(-90) scale(1 1.045)" text-anchor="middle">Amplitude (pA)</text>
<polyline points="1514.3,994.7 1514.3,984.2 1633.3,984.2 1633.3,994.7" fill="none" stroke="#050303" stroke-width="2.5" stroke-linejoin="miter"/>
<text transform="translate(1575.5 990.4) scale(1 1.045)" text-anchor="middle" font-size="41" letter-spacing="3.9" stroke="#211612" stroke-width="0.75" stroke-linejoin="round">***</text>
<circle cx="1501.1" cy="1372.5" r="7.3" fill="#070304"/>
<circle cx="1501.1" cy="1388.6" r="7.3" fill="#070304"/>
<circle cx="1511" cy="1385.7" r="7.3" fill="#070304"/>
<circle cx="1518.8" cy="1386.6" r="7.3" fill="#070304"/>
<circle cx="1526.7" cy="1385.7" r="7.3" fill="#070304"/>
<circle cx="1476.6" cy="1403.3" r="7.3" fill="#070304"/>
<circle cx="1484.4" cy="1406.3" r="7.3" fill="#070304"/>
<circle cx="1510" cy="1404.3" r="7.3" fill="#070304"/>
<circle cx="1527.6" cy="1404.3" r="7.3" fill="#070304"/>
<circle cx="1535.5" cy="1401.4" r="7.3" fill="#070304"/>
<circle cx="1544.3" cy="1401.4" r="7.3" fill="#070304"/>
<circle cx="1492.3" cy="1414.1" r="7.3" fill="#070304"/>
<circle cx="1502.1" cy="1411.2" r="7.3" fill="#070304"/>
<circle cx="1517.8" cy="1412.2" r="7.3" fill="#070304"/>
<circle cx="1535.5" cy="1413.2" r="7.3" fill="#070304"/>
<circle cx="1552.2" cy="1415.1" r="7.3" fill="#070304"/>
<circle cx="1476.6" cy="1419" r="7.3" fill="#070304"/>
<circle cx="1526.7" cy="1420" r="7.3" fill="#070304"/>
<circle cx="1543.4" cy="1421" r="7.3" fill="#070304"/>
<circle cx="1510" cy="1425" r="7.3" fill="#070304"/>
<circle cx="1632" cy="1059.5" r="7.3" fill="#B71B29"/>
<circle cx="1632.3" cy="1169" r="7.3" fill="#B71B29"/>
<circle cx="1632.3" cy="1234.8" r="7.3" fill="#B71B29"/>
<circle cx="1640" cy="1261.9" r="7.3" fill="#B71B29"/>
<circle cx="1624.9" cy="1275.7" r="7.3" fill="#B71B29"/>
<circle cx="1624.9" cy="1296.9" r="7.3" fill="#B71B29"/>
<circle cx="1640" cy="1304.8" r="7.3" fill="#B71B29"/>
<circle cx="1624.9" cy="1315.6" r="7.3" fill="#B71B29"/>
<circle cx="1640" cy="1321.2" r="7.3" fill="#B71B29"/>
<circle cx="1624.9" cy="1334.6" r="7.3" fill="#B71B29"/>
<circle cx="1609.7" cy="1340.1" r="7.3" fill="#B71B29"/>
<circle cx="1655.3" cy="1338.1" r="7.3" fill="#B71B29"/>
<circle cx="1594.4" cy="1346.8" r="7.3" fill="#B71B29"/>
<circle cx="1640" cy="1344.4" r="7.3" fill="#B71B29"/>
<circle cx="1670.6" cy="1344.4" r="7.3" fill="#B71B29"/>
<circle cx="1640" cy="1377.4" r="7.3" fill="#B71B29"/>
<circle cx="1624.9" cy="1380.8" r="7.3" fill="#B71B29"/>
<circle cx="1655.3" cy="1381.3" r="7.3" fill="#B71B29"/>
<circle cx="1609.7" cy="1389.2" r="7.3" fill="#B71B29"/>
<circle cx="1624.9" cy="1401" r="7.3" fill="#B71B29"/>
<circle cx="1640" cy="1402.4" r="7.3" fill="#B71B29"/>
<circle cx="1609.7" cy="1405.3" r="7.3" fill="#B71B29"/>
<circle cx="1640" cy="1416.1" r="7.3" fill="#B71B29"/>
<circle cx="1655.3" cy="1415.1" r="7.3" fill="#B71B29"/>
<circle cx="1609.7" cy="1422" r="7.3" fill="#B71B29"/>
<line x1="1468.7" y1="1405.3" x2="1560" y2="1405.3" stroke="#050303" stroke-width="2.5"/>
<line x1="1491.3" y1="1402" x2="1537.5" y2="1402" stroke="#050303" stroke-width="2.5"/>
<line x1="1491.3" y1="1408.5" x2="1537.5" y2="1408.5" stroke="#050303" stroke-width="2.5"/>
<line x1="1514.4" y1="1402" x2="1514.4" y2="1408.5" stroke="#050303" stroke-width="2.5"/>
<line x1="1586.6" y1="1331.1" x2="1678.9" y2="1331.1" stroke="#050303" stroke-width="2.5"/>
<line x1="1609.2" y1="1314" x2="1656.3" y2="1314" stroke="#050303" stroke-width="2.5"/>
<line x1="1609.2" y1="1348" x2="1656.3" y2="1348" stroke="#050303" stroke-width="2.5"/>
<line x1="1632.8" y1="1314" x2="1632.8" y2="1348" stroke="#050303" stroke-width="2.5"/>
<text transform="translate(73.2 984) scale(1 1.045)">AAV-CamKIIa-ChR2-EYFP</text>
<text transform="translate(254.5 1047.5) scale(1 1.045)">AAV-mDlx-EGFP</text>
<text transform="translate(261.2 1106.3) scale(1 1.045)">Patch: LH-GABA</text>
<text transform="translate(120.5 1185.6) scale(1 1.045)">mPFC</text>
<text transform="translate(213.5 1283.5) scale(1 1.045)">LH</text>
<text transform="translate(497.8 1370.2) scale(1 1.045)" text-anchor="end">WT (<tspan font-style="italic">Irsp53</tspan><tspan font-style="italic" font-size="19" dy="-9.5">fl/fl</tspan><tspan dx="1.3" dy="9.5">)</tspan></text>
<text transform="translate(497.8 1407.7) scale(1 1.045)" text-anchor="end">or cKO(<tspan font-style="italic">Emx1-Cre;Irsp53</tspan><tspan font-style="italic" font-size="19" dy="-9.5">fl/fl</tspan><tspan dx="1.3" dy="9.5">)</tspan></text>
<line x1="121" y1="997.2" x2="136" y2="997.2" stroke="#050303" stroke-width="1.8"/>
<line x1="128.5" y1="997.2" x2="128.5" y2="1016.6" stroke="#050303" stroke-width="1.6"/>
<line x1="111.3" y1="1016.6" x2="145.1" y2="1016.6" stroke="#050303" stroke-width="1.8"/>
<rect x="120.6" y="1032.5" width="15.6" height="52.7" fill="#B71B29"/>
<rect x="120.6" y="1016.6" width="15.6" height="68.6" fill="none" stroke="#211612" stroke-width="2"/>
<line x1="120.6" y1="1032.5" x2="136.2" y2="1032.5" stroke="#050303" stroke-width="2"/>
<line x1="128.5" y1="1085.2" x2="128.5" y2="1161" stroke="#050303" stroke-width="1.4"/>
<line x1="229.9" y1="1040.7" x2="244.9" y2="1040.7" stroke="#050303" stroke-width="1.8"/>
<line x1="237.7" y1="1040.7" x2="237.7" y2="1060.4" stroke="#050303" stroke-width="1.6"/>
<line x1="220.3" y1="1060.4" x2="254.1" y2="1060.4" stroke="#050303" stroke-width="1.8"/>
<rect x="229.7" y="1076.5" width="15.5" height="52.3" fill="#00766A"/>
<rect x="229.7" y="1060.4" width="15.5" height="68.4" fill="none" stroke="#211612" stroke-width="2"/>
<line x1="229.7" y1="1076.5" x2="245.2" y2="1076.5" stroke="#050303" stroke-width="2"/>
<line x1="237.7" y1="1128.8" x2="237.7" y2="1248.7" stroke="#050303" stroke-width="1.4"/>
<path d="M97 1170.6C98.3 1169.2 99.7 1165.6 104.6 1162.2C109.5 1158.8 115.8 1154.1 126.5 1150.4C137.2 1146.7 149.8 1142.8 168.7 1140.2C187.6 1137.6 222.6 1136.1 240 1134.9C257.4 1133.8 263.2 1133.3 273.1 1133.3C283 1133.3 292.4 1134.2 299.6 1134.9C306.8 1135.6 311.6 1136.4 316.2 1137.2C320.8 1138 325.1 1138.8 327.5 1139.9C329.9 1141 330.1 1142.6 330.8 1143.9C331.5 1145.2 331.6 1146.5 331.5 1147.8C331.4 1149.1 330.7 1150.7 330.1 1151.8C329.5 1152.9 329.9 1153 328.1 1154.5C326.3 1156 321.7 1159.3 319.5 1161.1C317.3 1162.9 316.4 1163.2 314.9 1165.1C313.3 1167 311.4 1170.2 310.2 1172.4C309 1174.6 308.6 1176.7 307.6 1178.3C306.6 1179.9 305.6 1181.4 304.3 1182.3C303 1183.2 301.3 1182.8 299.6 1183.6C297.9 1184.4 296.1 1185.5 294.3 1186.9C292.5 1188.3 290.9 1190.7 289 1192.2C287.1 1193.8 285.1 1195.2 283.1 1196.2C281.1 1197.2 278.9 1197.7 277.1 1197.9C275.3 1198.1 273.3 1197.6 272.5 1197.5" fill="none" stroke="#211612" stroke-width="2" stroke-linejoin="round" stroke-linecap="round"/>
<path d="M308.3 1179.6C307.5 1180.6 305.3 1183.6 303.6 1185.6C301.9 1187.6 300.3 1189.5 298.3 1191.6C296.3 1193.7 293.9 1196.2 291.7 1198.2C289.5 1200.2 286.9 1202.6 285.1 1203.5C283.3 1204.4 282.2 1204 281.1 1203.8C280 1203.6 279.3 1202.7 278.4 1202.2C277.5 1201.7 276.9 1201 275.8 1200.8C274.7 1200.6 272.5 1200.8 271.8 1200.8" fill="none" stroke="#211612" stroke-width="2" stroke-linejoin="round" stroke-linecap="round"/>
<path d="M97 1173.5C96 1172.7 93.7 1169.9 91 1168.5C88.3 1167.1 84.9 1165.8 81 1165C77.1 1164.2 72.6 1163.6 67.5 1163.5C62.4 1163.4 56.2 1163.6 50.6 1164.2C45 1164.8 38.8 1165.3 33.7 1167.2C28.6 1169.1 23.7 1172.3 20.2 1175.7C16.7 1179.1 14 1183.6 12.6 1187.5C11.2 1191.4 10.8 1193.7 11.8 1199.3C12.8 1204.9 14.3 1214.8 18.5 1221.2C22.7 1227.7 28.9 1232.1 37.1 1238C45.3 1243.9 56.8 1250.1 67.5 1256.6C78.2 1263.1 90 1270.2 101.2 1276.9C112.4 1283.7 125.1 1291.8 134.9 1297.1C144.7 1302.4 148.9 1305.7 160.2 1308.9C171.4 1312.1 192.1 1314.1 202.4 1316.5C212.7 1318.9 215 1321.3 222 1323.5C229 1325.7 237.8 1328.7 244.6 1329.5C251.4 1330.3 257.4 1330 263.1 1328.5C268.8 1327 274.1 1323.8 279 1320.5C283.9 1317.2 289.1 1313.7 292.8 1309C296.5 1304.3 298.1 1296 301.2 1292.2C304.3 1288.4 308.2 1286.9 311.3 1286.3C314.4 1285.7 317.4 1286.4 319.7 1288.8C321.9 1291.2 322.3 1296.7 324.8 1300.6C327.3 1304.5 330.4 1309 334.9 1312.4C339.4 1315.8 343.4 1318.8 351.8 1320.8C360.2 1322.8 374.2 1323.9 385.5 1324.2C396.8 1324.5 408.1 1323.6 419.3 1322.5C430.6 1321.4 444.6 1319.2 453 1317.5C461.4 1315.8 465.7 1315.2 469.9 1312.4C474.1 1309.6 476.9 1302.6 478.3 1300.6" fill="none" stroke="#211612" stroke-width="2" stroke-linejoin="round" stroke-linecap="round"/>
<path d="M97 1172C97.1 1174.6 96.5 1182.7 97.8 1187.5C99.1 1192.3 102.3 1196.1 104.6 1201C106.8 1205.9 110.2 1214.3 111.3 1217" fill="none" stroke="#211612" stroke-width="2" stroke-linejoin="round" stroke-linecap="round"/>
<path d="M328.1 1154.5C328.7 1154.4 329.6 1154.1 331.5 1153.8C333.4 1153.5 336.4 1152.6 339.4 1152.5C342.4 1152.4 346.6 1152.7 349.6 1153.3C352.6 1153.9 355.2 1154.9 357.3 1156.1C359.4 1157.3 361.2 1159.4 362.2 1160.5C363.2 1161.6 363.1 1162.2 363.3 1162.6" fill="none" stroke="#211612" stroke-width="2" stroke-linejoin="round" stroke-linecap="round"/>
<path d="M363.3 1162.6C363.8 1161.8 364.6 1159 366 1157.6C367.4 1156.2 369.9 1154.8 371.8 1154.2C373.7 1153.6 376.2 1153.9 377.6 1153.7C379.1 1153.5 379.1 1154.1 380.5 1153.3C381.9 1152.5 383.4 1150.2 386.3 1148.9C389.2 1147.6 394.3 1145.8 397.8 1145.5C401.3 1145.2 405 1146.3 407.5 1147C410 1147.7 411.6 1148.5 412.8 1149.9C414 1151.4 413.2 1154.6 414.7 1155.7C416.2 1156.8 418.3 1155.5 421.9 1156.6C425.5 1157.7 432.4 1159.8 436.4 1162.4C440.4 1165 443 1168.5 446 1172C449 1175.5 451.8 1180 454.2 1183.6C456.6 1187.1 458.8 1189.8 460.5 1193.3C462.2 1196.8 463 1200.9 464.3 1204.8C465.6 1208.7 467.3 1212.5 468.2 1216.4C469.1 1220.3 468.5 1225.1 469.6 1228C470.7 1230.9 473.7 1230.8 474.9 1233.7C476.1 1236.6 476.6 1241.4 476.9 1245.3C477.1 1249.2 477 1254.7 476.4 1256.9C475.8 1259.1 474.9 1258.2 473 1258.3C471.1 1258.4 468.2 1258.1 465.3 1257.3C462.4 1256.5 458.9 1254.5 455.7 1253.5C452.5 1252.5 448.4 1251.2 446 1251.1C443.6 1251 442.6 1252 441.2 1253C439.8 1254 438.4 1256.6 437.3 1256.9C436.2 1257.2 435.6 1256 434.5 1254.9C433.4 1253.8 432.4 1251.4 430.6 1250.1C428.8 1248.8 426.9 1248 423.9 1247.2C420.8 1246.4 416.6 1245.8 412.3 1245.3C408 1244.8 402 1244.2 397.8 1244.3C393.6 1244.4 389 1245.5 387.2 1245.8" fill="none" stroke="#211612" stroke-width="2" stroke-linejoin="round" stroke-linecap="round"/>
<path d="M446 1251.1C448.4 1252.1 456.5 1254.2 460.5 1256.9C464.5 1259.6 467.1 1263.5 470.1 1267.5C473.2 1271.5 477.4 1278.8 478.8 1281" fill="none" stroke="#211612" stroke-width="2" stroke-linejoin="round" stroke-linecap="round"/>
<path d="M380.5 1153.3C381.3 1155 384.2 1160.4 385.3 1163.4C386.4 1166.4 385.9 1169.8 387.2 1171.1C388.5 1172.4 390.9 1170.3 393 1171.1C395.1 1171.9 398 1173.2 399.8 1175.9C401.6 1178.6 402.5 1183 403.6 1187.5C404.7 1192 406 1200.3 406.5 1202.9" fill="none" stroke="#211612" stroke-width="2" stroke-linejoin="round" stroke-linecap="round"/>
<path d="M387.2 1171.1C386.4 1172.5 383.8 1176.9 382.4 1179.8C381 1182.7 379.2 1187 378.6 1188.4" fill="none" stroke="#211612" stroke-width="2" stroke-linejoin="round" stroke-linecap="round"/>
<path d="M377.6 1192.3C378.5 1193.2 380.9 1195.6 383 1198C385.1 1200.4 388.9 1205.2 390.1 1206.7" fill="none" stroke="#211612" stroke-width="2" stroke-linejoin="round" stroke-linecap="round"/>
<path d="M414.7 1155.7C414.9 1157 414.9 1160.8 416.1 1163.4C417.3 1166 420.1 1167.9 421.9 1171.1C423.7 1174.3 425.8 1178.5 426.7 1182.7C427.6 1186.9 427.1 1193.9 427.2 1196.1" fill="none" stroke="#211612" stroke-width="2" stroke-linejoin="round" stroke-linecap="round"/>
<path d="M454.2 1183.6C453.3 1184.4 449.8 1187.6 448.9 1188.4" fill="none" stroke="#211612" stroke-width="2" stroke-linejoin="round" stroke-linecap="round"/>
<path d="M464.3 1204.8C464 1205.2 463.8 1207 462.4 1207.2C461 1207.4 457.9 1206.1 455.7 1205.8C453.4 1205.5 450 1205.4 448.9 1205.3" fill="none" stroke="#211612" stroke-width="2" stroke-linejoin="round" stroke-linecap="round"/>
<path d="M469.6 1228C468.1 1227.8 463.9 1227.7 460.5 1227C457.1 1226.3 452.6 1225.5 448.9 1224.1C445.2 1222.6 440.1 1219.3 438.3 1218.3" fill="none" stroke="#211612" stroke-width="2" stroke-linejoin="round" stroke-linecap="round"/>
<path d="M432.5 1245.3C432.4 1244 432.5 1239.7 432 1237.6C431.5 1235.5 430.7 1234.2 429.6 1232.8C428.5 1231.3 426 1229.6 425.3 1228.9" fill="none" stroke="#211612" stroke-width="2" stroke-linejoin="round" stroke-linecap="round"/>
<path d="M257.6 1189.3C258.9 1190.3 263.9 1194.2 265.2 1195.2" fill="none" stroke="#211612" stroke-width="2" stroke-linejoin="round" stroke-linecap="round"/>
<path d="M376.1 1188.9C375.1 1189.7 373.2 1193.1 371.8 1196.1C370.4 1199.1 368.5 1203.2 368 1206.7C367.5 1210.2 367.8 1214.1 368.9 1217.3C370 1220.5 372.4 1223.1 374.7 1226C376.9 1228.9 380.3 1231.4 382.4 1234.7C384.5 1238 384.6 1244.2 387.2 1245.8C389.8 1247.4 393.6 1244.7 397.8 1244.3C402 1243.9 410.2 1245.7 412.3 1243.4C414.4 1241.2 411.5 1233.3 410.4 1230.8C409.3 1228.3 407.6 1228.4 405.5 1228.4C403.4 1228.4 401 1230.2 397.8 1230.8C394.6 1231.4 389.5 1232.9 386.3 1231.8C383.1 1230.7 380.9 1227.1 378.6 1224.1C376.4 1221 373.9 1216.7 372.8 1213.5C371.7 1210.3 371.5 1207.8 371.8 1204.8C372.1 1201.8 373.7 1197.5 374.7 1195.2C375.7 1193 377.4 1192.3 377.6 1191.3C377.8 1190.2 377.1 1188.1 376.1 1188.9Z" fill="#2A1812" stroke="#211612" stroke-width="0.8" stroke-linejoin="round" stroke-linecap="round"/>
<path d="M219.8 1191.6C216.9 1192.2 208.1 1195.5 202.4 1197.6C196.7 1199.7 190 1202.3 185.5 1204.3C181 1206.3 177.9 1207.4 175.4 1209.4C172.9 1211.4 171.6 1213.8 170.3 1216.1C169 1218.3 168.9 1221.2 167.8 1222.9C166.7 1224.6 163.7 1225.2 163.6 1226.3C163.5 1227.4 165.3 1228.6 167 1229.6C168.7 1230.6 171.2 1232 173.7 1232.2C176.2 1232.4 178.8 1232 182.2 1230.5C185.6 1229 190.1 1226.1 194 1222.9C197.9 1219.7 202.2 1215 205.8 1211.1C209.5 1207.2 213.6 1202.2 215.9 1199.3C218.2 1196.4 219.2 1195.1 219.8 1193.8C220.5 1192.5 222.7 1191 219.8 1191.6Z" fill="#2A1812" stroke="#211612" stroke-width="0.8" stroke-linejoin="round" stroke-linecap="round"/>
<path d="M236.5 1202.3C235.2 1202.9 232.1 1207 230 1209.5C227.9 1212 225.8 1214.4 224 1217C222.2 1219.6 220.4 1222.3 219 1225C217.6 1227.7 216.3 1230.5 215.5 1233C214.7 1235.5 214.2 1237.9 214.2 1240C214.1 1242.1 214.3 1244.8 215.2 1245.7C216 1246.7 218.1 1246.6 219.3 1245.7C220.5 1244.8 221.6 1243 222.6 1240.5C223.6 1238 224.3 1233.9 225.5 1231C226.7 1228.1 228.2 1225.5 230 1223C231.8 1220.5 233.8 1218 236 1216C238.2 1214 240.3 1212.4 243 1211C245.7 1209.6 248.8 1208.4 252 1207.5C255.2 1206.6 259 1206.1 262 1205.5C265 1204.9 270 1204 270 1203.8C270 1203.6 265.3 1203.9 262 1204.2C258.7 1204.5 253.5 1205 250 1205.5C246.5 1206 243 1206.9 241 1207C239 1207.1 238.8 1206.8 238 1206C237.2 1205.2 237.8 1201.7 236.5 1202.3Z" fill="#2A1812" stroke="#211612" stroke-width="0.8" stroke-linejoin="round" stroke-linecap="round"/>
<polygon points="372.8,1118.6 372.8,1149.6 393.5,1134.2" fill="#8a8a8a" stroke="#000" stroke-width="2.6" stroke-linejoin="miter"/>
<line x1="393.5" y1="1134.2" x2="425.3" y2="1134.2" stroke="#000" stroke-width="2.2"/>
<polyline points="281.1,1172.4 304.6,1129.3 372.8,1129.3" fill="none" stroke="#000" stroke-width="2.6" stroke-linejoin="miter"/>
<polyline points="372.8,1138.5 359.3,1138.5 359.3,1165.3" fill="none" stroke="#000" stroke-width="2" stroke-linejoin="miter"/>
<line x1="349.2" y1="1165.3" x2="369.4" y2="1165.3" stroke="#000" stroke-width="2"/>
<line x1="353" y1="1170.1" x2="366" y2="1170.1" stroke="#000" stroke-width="2"/>
<line x1="356.4" y1="1174.7" x2="362.7" y2="1174.7" stroke="#000" stroke-width="2"/>
<defs><linearGradient id="pip" x1="0" y1="0" x2="0" y2="1"><stop offset="0" stop-color="#5e5e5e"/><stop offset="1" stop-color="#d0d0d0"/></linearGradient></defs>
<polygon points="277.1,1171 285.3,1175 244,1239.5" fill="url(#pip)" stroke="#6cc0e6" stroke-width="1"/>
<line x1="308.4" y1="1197.9" x2="268.6" y2="1237.3" stroke="#808080" stroke-width="6.5"/>
<polygon points="248.9,1244.1 266.6,1235.7 271,1240.1 262.4,1256.7" fill="#0093D8" stroke="#0093D8" stroke-width="1.2" stroke-linejoin="round"/>
<path d="M73 1551.2 73.5 1551.6 74 1550.5 74.5 1551.7 75 1551.1 75.5 1550.8 76 1550.8 76.5 1550.7 77 1551 77.5 1551.4 78 1551.3 78.5 1551.3 79 1550.5 79.5 1550.6 80 1551.6 80.5 1551.4 81 1551.9 81.5 1551.5 82 1550.7 82.5 1551.5 83 1551.3 83.5 1551.2 84 1550.8 84.5 1551.1 85 1551 85.5 1551.4 86 1551.1 86.5 1551.7 87 1550.8 87.5 1551.3 88 1551.3 88.5 1550.8 89 1550.7 89.5 1551.5 90 1551.3 90.5 1551 91 1551.2 91.5 1550.9 92 1551.2 92.5 1550.9 93 1551.2 93.5 1551.4 94 1551 94.5 1551.4 95 1550.7 95.5 1551 96 1550.6 96.5 1551.1 97 1551.1 97.5 1551 98 1551 98.5 1551.6 99 1551.6 99.5 1550.7 100 1551.5 100.5 1550.5 101 1550.8 101.5 1551 102 1551.1 102.5 1550.7 103 1550.8 103.5 1551.1 104 1550.9 104.5 1550.9 105 1551.3 105.5 1551.4 106 1551.1 106.5 1551.1 107 1551.1 107.5 1550.9 108 1550.9 108.5 1550.7 109 1551.3 109.5 1551.1 110 1551.1 110.5 1551.2 111 1551.3 111.5 1551.6 112 1551 112.5 1551 113 1551.2 113.5 1550.8 114 1551.5 114.5 1551.4 115 1551.3 115.5 1551.1 116 1551.4 116.5 1551.5 117 1551.3 117.5 1551 118 1550.5 118.5 1551.4 119 1551 119.5 1550.8 120 1551.4 120.5 1551.2 121 1550.6 121.5 1551.1 122 1551 122.5 1551.4 123 1550.4 123.5 1551 124 1551.1 124.5 1551.6 125 1550.7 125.5 1550.1 126 1550.6 126.5 1551.2 127 1551.4 127.5 1551.7 128 1551.2 128.5 1550.8 129 1551.4 129.5 1551.1 130 1551 130.5 1551.1 131 1551.5 131.5 1550.8 132 1550.7 132.5 1551.1 133 1551.1 133.5 1550.8 134 1550.8 134.5 1551.2 135 1551.6 135.5 1551.3 136 1551.3 136.5 1551.5 137 1550.4 137.5 1550.6 138 1550.9 138.5 1550.7 139 1550.8 139.5 1551.1 140 1550.7 140.5 1550.9 141 1550.4 141.5 1550.8 142 1551.6 142.5 1550.9 143 1551.2 143.5 1551.3 144 1550.9 144.5 1551.3 145 1551.2 145.5 1551.3 146 1550.9 146.5 1550.6 147 1550.7 147.5 1550.9 148 1551.3 148.5 1551 149 1551 149.5 1551 150 1551.5 150.5 1550.9 151 1551.6 151.5 1550.7 152 1550.9 152.5 1551.4 153 1551.3 153.5 1550.8 154 1551.1 154.5 1550.9 155 1551.4 155.5 1551.3 156 1550.9 156.5 1551.2 157 1551 157.5 1551.1 158 1551.1 158.5 1550.9 159 1551.2 159.5 1551.3 160 1551.2 160.5 1551.5 161 1551 161.5 1550.6 162 1550.9 162.5 1551.2 163 1551.1 163.5 1551.3 164 1551.4 164.5 1551.1 165 1551.1 165.5 1550.8 166 1551.5 166.5 1551 167 1550.7 167.5 1550.7 168 1551 168.5 1551.6 169 1551.4 169.5 1550.5 170 1551.1 170.5 1551.2 171 1551.3 171.5 1551.2 172 1550.9 172.5 1551.2 173 1550.9 173.5 1550.3 174 1550.9 174.5 1550.9 175 1551.4 175.5 1551.5 176 1550.7 176.5 1551.2 177 1551.1 177.5 1550.6 178 1550.4 178.5 1551.1 179 1551.1 179.5 1550.9 180 1550.2 180.5 1551.1 181 1550.9 181.5 1550.8 182 1551 182.5 1550.7 183 1551.3 183.5 1551.1 184 1550.9 184.5 1551.2 185 1551.1 185.5 1550.6 186 1551 186.5 1550.9 187 1550.5 187.5 1550.9 188 1551.2 188.5 1550.9 189 1551.6 189.5 1551.7 190 1551 190.5 1551.3 191 1551.8 191.5 1551 192 1550.8 192.5 1551 193 1550.6 193.5 1550.6 194 1551.2 194.5 1551 195 1551.2 195.5 1551.3 196 1550.8 196.5 1551 197 1551 197.5 1550.9 198 1550.8 198.5 1551.2 199 1551.1 199.5 1551.2 200 1551.5 200.5 1551.5 201 1550.7 201.5 1550.8 202 1551 202.5 1551.1 203 1551.4 203.5 1550.8 204 1550.9 204.5 1551.2 205 1551.5 205.5 1551.6 206 1550.7 206.5 1551 207 1550.8 207.5 1551.4 208 1551.3 208.5 1551 209 1550.9 209.5 1551.2 210 1551.4 210.5 1550.8 211 1551 211.5 1551.1 212 1551.1 212.5 1551.2 213 1550.8 213.5 1550.9 214 1550.4 214.5 1551.1 215 1551.5 215.5 1550.4 216 1550.9 216.5 1551.4 217 1551.1 217.5 1550.4 218 1551.5 218.5 1550.6 219 1551.6 219.5 1550.9 220 1550.9 220.5 1551.1 221 1551.1 221.5 1551.3 222 1551.3 222.5 1551 223 1551.6 223.5 1551.3 224 1551.2 224.5 1551.1 225 1551.1 225.5 1551.1 226 1551.3 226.5 1551.3 227 1551.1 227.5 1551.5 228 1551 228.5 1551.3 229 1551.4 229.5 1550.7 230 1551 230.5 1551.7 231 1550.8 231.5 1551.5 232 1550.7 232.5 1551.2 233 1550.7 233.5 1550.9 234 1551 234.5 1550.9 235 1551.5 235.5 1551.4 236 1551.4 236.5 1551.2 237 1551.7 237.5 1551.5 238 1551.2 238.5 1550.7 239 1551.3 239.5 1551.3 240 1551.1 240.5 1551.3 241 1551.4 241.5 1551 242 1551.3 242.5 1551.2 243 1551.2 243.5 1551 244 1550.9 244.5 1551.1 245 1551.6 245.5 1551.9 246 1551 246.5 1550.7 247 1551 247.5 1550.8 248 1551 248.5 1551.2 249 1550.8 249.5 1551.3 250 1551.4 250.5 1551.6 251 1551.7 251.5 1551.4 252 1551.9 252.5 1550.9 253 1551.2 253.5 1551.2 254 1551.3 254.5 1551.5 255 1551 255.5 1551.7 256 1551.5 256.5 1551.2 257 1551.3 257.5 1550.8 258 1550.2 258.5 1551.1 259 1551.2 259.5 1551.2 260 1550.7 260.5 1550.9 261 1551.7 261.5 1551.4 262 1551.3 262.5 1551 263 1551.4 263.5 1551.6 264 1551.4 264.5 1551 265 1551.2 265.5 1550.8 266 1551 266.5 1551.3 267 1550.9 267.5 1551 268 1551.6 268.5 1551 269 1551.4 269.5 1551 270 1550.7 270.5 1551.1 271 1551 271.5 1550.4 272 1550.7 272.5 1551 273 1551.6 273.5 1550.9 274 1551.1 274.5 1551.3 275 1551.2 275.5 1551 276 1551.7 276.5 1551.6 277 1550.3 277.5 1551.4 278 1551.3 278.5 1551.4 279 1551.1 279.5 1551.4 280 1551.8 280.5 1551.7 281 1551.7 281.5 1551.5 282 1551.4" fill="none" stroke="#211612" stroke-width="1.5" stroke-linejoin="round"/>
<path d="M73 1551.4 73.5 1550.7 74 1551.9 74.5 1551.2 75 1551.2 75.5 1551.1 76 1551.3 76.5 1550.4 77 1551.2 77.5 1550.7 78 1550.8 78.5 1550.5 79 1550.5 79.5 1551.3 80 1550.9 80.5 1551.1 81 1551 81.5 1550.7 82 1550.9 82.5 1550.7 83 1551 83.5 1550.3 84 1551 84.5 1551.4 85 1551.5 85.5 1551.5 86 1551.3 86.5 1550.8 87 1551.4 87.5 1551.3 88 1551.2 88.5 1550.7 89 1551.2 89.5 1551.6 90 1551.4 90.5 1551 91 1551.3 91.5 1551.1 92 1551.2 92.5 1551.4 93 1551.2 93.5 1551.1 94 1551.2 94.5 1550.8 95 1550.8 95.5 1551.3 96 1550.9 96.5 1551.3 97 1550.5 97.5 1551.5 98 1551.1 98.5 1551.7 99 1550.2 99.5 1550.5 100 1551.6 100.5 1551.2 101 1551.2 101.5 1551.1 102 1551.2 102.5 1551.3 103 1550.8 103.5 1551 104 1551.6 104.5 1551.2 105 1550.9 105.5 1551.1 106 1551.5 106.5 1551 107 1551 107.5 1551.3 108 1551.4 108.5 1551.6 109 1551.1 109.5 1551.2 110 1551.5 110.5 1550.4 111 1551.2 111.5 1551.3 112 1551.1 112.5 1550.8 113 1551.3 113.5 1551.5 114 1551.1 114.5 1550.9 115 1551 115.5 1551.6 116 1551.5 116.5 1551.1 117 1550.7 117.5 1550.7 118 1551 118.5 1551 119 1551.2 119.5 1550.7 120 1551.1 120.5 1551.3 121 1550.5 121.5 1551.9 122 1553.5 122.5 1555.5 123 1556.5 123.5 1558.1 124 1560.2 124.5 1561.3 125 1561.2 125.5 1563.4 126 1564.1 126.5 1564.7 127 1564.8 127.5 1565.8 128 1566 128.5 1566.8 129 1567.7 129.5 1567.6 130 1568 130.5 1567.8 131 1567.8 131.5 1568.4 132 1568.9 132.5 1569.2 133 1568.8 133.5 1569.1 134 1568.9 134.5 1568.6 135 1569.3 135.5 1569.5 136 1569.3 136.5 1569.4 137 1568.9 137.5 1569.6 138 1570.1 138.5 1569.6 139 1569.9 139.5 1569.9 140 1569.5 140.5 1569.8 141 1569.5 141.5 1570.8 142 1569.9 142.5 1569.4 143 1569.3 143.5 1570.4 144 1570.1 144.5 1570 145 1569.4 145.5 1569.7 146 1569.5 146.5 1570.3 147 1569.7 147.5 1570.6 148 1570.1 148.5 1569.8 149 1570.4 149.5 1569.2 150 1569.6 150.5 1569.8 151 1570.3 151.5 1570.3 152 1570 152.5 1569.3 153 1569.7 153.5 1569.5 154 1570.3 154.5 1569.8 155 1570.1 155.5 1570.6 156 1569.9 156.5 1570.2 157 1569.8 157.5 1569.9 158 1569.9 158.5 1569.9 159 1569.9 159.5 1569.8 160 1570.6 160.5 1569.7 161 1570 161.5 1569.8 162 1569.1 162.5 1570.3 163 1570 163.5 1569.4 164 1569.7 164.5 1569.3 165 1570 165.5 1570.5 166 1570.3 166.5 1569.5 167 1569.3 167.5 1570.1 168 1570.5 168.5 1569.9 169 1570.3 169.5 1569.4 170 1569.9 170.5 1570.1 171 1569.8 171.5 1569.8 172 1570.1 172.5 1569.7 173 1569.6 173.5 1570.2 174 1570 174.5 1569.6 175 1570.1 175.5 1569.7 176 1570.1 176.5 1569.9 177 1569.8 177.5 1569.6 178 1570 178.5 1569.9 179 1570.6 179.5 1569.9 180 1569.4 180.5 1570.6 181 1569.2 181.5 1570.5 182 1569.6 182.5 1570.4 183 1569.8 183.5 1570.1 184 1569.9 184.5 1569.9 185 1570.1 185.5 1569.7 186 1570.1 186.5 1569.5 187 1569.6 187.5 1569.7 188 1569.9 188.5 1570.3 189 1569.6 189.5 1569.6 190 1569.5 190.5 1569.8 191 1570.1 191.5 1569.6 192 1569.8 192.5 1569.7 193 1569.9 193.5 1569.2 194 1570.1 194.5 1570.2 195 1569.6 195.5 1569.9 196 1569.6 196.5 1570.3 197 1570.1 197.5 1570.9 198 1569.8 198.5 1569.6 199 1569.7 199.5 1569.5 200 1570 200.5 1570 201 1570.2 201.5 1570 202 1569.8 202.5 1570.4 203 1570.1 203.5 1570.2 204 1569.5 204.5 1569.6 205 1569.7 205.5 1569.8 206 1569.1 206.5 1570.3 207 1569.8 207.5 1570.2 208 1570.2 208.5 1570.4 209 1570.1 209.5 1570 210 1569.7 210.5 1570 211 1570.5 211.5 1569.3 212 1569.7 212.5 1570 213 1570.5 213.5 1569.5 214 1569.8 214.5 1570 215 1571 215.5 1569.6 216 1569.9 216.5 1570.2 217 1569.7 217.5 1570.1 218 1570.1 218.5 1569.8 219 1570.1 219.5 1570.5 220 1570 220.5 1569.8 221 1569.7 221.5 1570 222 1570.3 222.5 1570 223 1570 223.5 1570.9 224 1569.7 224.5 1569.6 225 1570 225.5 1569.9 226 1570.1 226.5 1570.4 227 1570.1 227.5 1569.9 228 1570.1 228.5 1570.1 229 1569.9 229.5 1569.7 230 1570.2 230.5 1569.9 231 1569.5 231.5 1570.2 232 1569.7 232.5 1569.7 233 1570.2 233.5 1569.7 234 1569.9 234.5 1569.6 235 1569.4 235.5 1570 236 1570.5 236.5 1569.6 237 1570.3 237.5 1570.3 238 1570.5 238.5 1569.6 239 1569.7 239.5 1570.5 240 1569.9 240.5 1569.9 241 1570.2 241.5 1570.1 242 1569.7 242.5 1569.9 243 1570.2 243.5 1570 244 1569.7 244.5 1570.4 245 1570.2 245.5 1569.8 246 1569.7 246.5 1570.3 247 1569.1 247.5 1570 248 1569.7 248.5 1569.7 249 1570.2 249.5 1570 250 1571 250.5 1569.9 251 1570.1 251.5 1569.5 252 1570.3 252.5 1569.7 253 1570 253.5 1570.4 254 1570.4 254.5 1570.1 255 1570.4 255.5 1569.8 256 1569.6 256.5 1569.4 257 1570.1 257.5 1570.6 258 1569.8 258.5 1569.9 259 1569.8 259.5 1570.1 260 1569.3 260.5 1570.2 261 1570.3 261.5 1569.7 262 1569.6 262.5 1569.6 263 1570.1 263.5 1570.4 264 1569.6 264.5 1569.4 265 1570 265.5 1570 266 1570.2 266.5 1569.7 267 1570.2 267.5 1570.3 268 1569.4 268.5 1569.8 269 1570.2 269.5 1570.2 270 1568.7 270.5 1565.8 271 1564.2 271.5 1562.2 272 1561 272.5 1560.2 273 1558.4 273.5 1557.7 274 1556.4 274.5 1556.4 275 1555.2 275.5 1554.5 276 1555 276.5 1554 277 1553.8 277.5 1552.5 278 1553.4 278.5 1553.3 279 1552.4 279.5 1552.2 280 1551.9 280.5 1552.4 281 1551.3 281.5 1551.9 282 1552.4" fill="none" stroke="#211612" stroke-width="1.5" stroke-linejoin="round"/>
<path d="M73 1551.2 73.5 1551.8 74 1551.1 74.5 1551 75 1551.4 75.5 1551.1 76 1551.2 76.5 1551 77 1550.7 77.5 1551 78 1551.4 78.5 1551.5 79 1551.1 79.5 1551.2 80 1550.8 80.5 1551.1 81 1551.1 81.5 1551.1 82 1551.1 82.5 1551.2 83 1551.6 83.5 1551.4 84 1551.3 84.5 1550.7 85 1550.8 85.5 1551.1 86 1551.2 86.5 1551.4 87 1550.5 87.5 1551.2 88 1551.2 88.5 1551 89 1550.9 89.5 1551.2 90 1551.1 90.5 1551.3 91 1550.4 91.5 1550.8 92 1551.7 92.5 1551.2 93 1550.9 93.5 1551 94 1550.7 94.5 1551.6 95 1551.6 95.5 1551.4 96 1551.5 96.5 1551.3 97 1551.6 97.5 1551.4 98 1551.6 98.5 1551.1 99 1551.1 99.5 1550.9 100 1551 100.5 1550.6 101 1551.6 101.5 1551.6 102 1551.4 102.5 1551.5 103 1551.2 103.5 1551.3 104 1550.7 104.5 1551.1 105 1550.5 105.5 1550.9 106 1551 106.5 1551 107 1550.8 107.5 1551.6 108 1551.5 108.5 1551 109 1550.7 109.5 1551 110 1551.5 110.5 1550.5 111 1551.4 111.5 1551.1 112 1551 112.5 1551.5 113 1551.1 113.5 1551 114 1551.6 114.5 1550.6 115 1551.7 115.5 1550.8 116 1550.8 116.5 1551.7 117 1552.3 117.5 1551.6 118 1550.8 118.5 1550.4 119 1551.2 119.5 1551.1 120 1550.9 120.5 1551.1 121 1550.9 121.5 1551.4 122 1555.3 122.5 1559 123 1561.6 123.5 1565.3 124 1567.3 124.5 1570.3 125 1572 125.5 1573.1 126 1575.2 126.5 1576.3 127 1578.1 127.5 1579.1 128 1580.2 128.5 1580.4 129 1581.6 129.5 1581.6 130 1582.8 130.5 1583.1 131 1583.7 131.5 1584 132 1584.7 132.5 1584.5 133 1584.8 133.5 1585.6 134 1585.3 134.5 1585.4 135 1585.4 135.5 1585.9 136 1586 136.5 1586.3 137 1586.1 137.5 1586.5 138 1586.3 138.5 1587 139 1586.5 139.5 1586.8 140 1586.7 140.5 1586.2 141 1587 141.5 1586.5 142 1587 142.5 1586 143 1586.1 143.5 1586.1 144 1586.2 144.5 1586.7 145 1586.8 145.5 1586.5 146 1586.7 146.5 1586.6 147 1587.1 147.5 1587.1 148 1587 148.5 1587.1 149 1587.5 149.5 1587.1 150 1586.4 150.5 1586.8 151 1586.8 151.5 1587.2 152 1587.1 152.5 1587.2 153 1586.4 153.5 1587.4 154 1586.9 154.5 1587.2 155 1587.1 155.5 1586.6 156 1586.6 156.5 1587.1 157 1587.3 157.5 1586.6 158 1586.5 158.5 1586.2 159 1586.6 159.5 1586.6 160 1586.8 160.5 1587.1 161 1586.7 161.5 1586.5 162 1586.8 162.5 1586.9 163 1587 163.5 1586.9 164 1586.8 164.5 1587.1 165 1586.8 165.5 1586.5 166 1586.8 166.5 1587.5 167 1586.6 167.5 1587.7 168 1586.7 168.5 1587.1 169 1586.3 169.5 1586.9 170 1587.4 170.5 1586.5 171 1586.6 171.5 1587 172 1587 172.5 1586.4 173 1586.5 173.5 1587 174 1587 174.5 1587.2 175 1586.8 175.5 1587.1 176 1587.3 176.5 1586.5 177 1587.3 177.5 1587.2 178 1587.3 178.5 1586.8 179 1586.9 179.5 1586.9 180 1586.7 180.5 1587.2 181 1587 181.5 1586.6 182 1587 182.5 1586.5 183 1586.4 183.5 1586.5 184 1586.9 184.5 1586.9 185 1586.9 185.5 1587.1 186 1587.6 186.5 1586.5 187 1587 187.5 1587 188 1586.5 188.5 1586.7 189 1587 189.5 1586.9 190 1586.6 190.5 1587.2 191 1587 191.5 1587.1 192 1587.4 192.5 1586.5 193 1587.2 193.5 1587.1 194 1586.6 194.5 1586.9 195 1586.8 195.5 1586.5 196 1587.2 196.5 1586.6 197 1586.2 197.5 1587.2 198 1586.7 198.5 1587 199 1587 199.5 1586.8 200 1586.8 200.5 1586 201 1586.8 201.5 1586.5 202 1587.1 202.5 1586.6 203 1586.7 203.5 1586.9 204 1586.5 204.5 1586.7 205 1586.7 205.5 1587 206 1586.4 206.5 1587.2 207 1586.9 207.5 1586.7 208 1587 208.5 1587.2 209 1587.3 209.5 1586.5 210 1587.4 210.5 1586.9 211 1587.3 211.5 1586.5 212 1586.8 212.5 1586.9 213 1586.5 213.5 1586.7 214 1587.2 214.5 1587.3 215 1587.1 215.5 1587 216 1586.7 216.5 1587.6 217 1586.4 217.5 1586.5 218 1586.6 218.5 1587 219 1586.7 219.5 1587.2 220 1586.4 220.5 1587.2 221 1587.5 221.5 1587.2 222 1586.8 222.5 1586.7 223 1587.3 223.5 1586.3 224 1586.6 224.5 1586.3 225 1586.8 225.5 1587.5 226 1586.7 226.5 1587.3 227 1586.5 227.5 1586.7 228 1586.7 228.5 1587.3 229 1586.6 229.5 1586.7 230 1586.9 230.5 1587.4 231 1586.9 231.5 1587.5 232 1587 232.5 1586.8 233 1587.3 233.5 1586.7 234 1586.6 234.5 1586.9 235 1586.4 235.5 1586.5 236 1586.6 236.5 1586.9 237 1587.2 237.5 1587.3 238 1586.8 238.5 1587 239 1586.8 239.5 1586.4 240 1587 240.5 1586.6 241 1587.1 241.5 1586.7 242 1586.6 242.5 1587 243 1586.7 243.5 1586.4 244 1587.2 244.5 1587 245 1587 245.5 1586.9 246 1586.7 246.5 1585.9 247 1586.7 247.5 1586.7 248 1587 248.5 1586.4 249 1587.1 249.5 1586.9 250 1587.4 250.5 1586.6 251 1586.9 251.5 1587 252 1587.1 252.5 1587.3 253 1587.1 253.5 1586.4 254 1587.5 254.5 1586.2 255 1587.1 255.5 1587.3 256 1586.7 256.5 1586.9 257 1586.9 257.5 1586.5 258 1587 258.5 1586.6 259 1587 259.5 1587.1 260 1587.3 260.5 1587.4 261 1587 261.5 1587.1 262 1586.8 262.5 1586.9 263 1587.2 263.5 1587.2 264 1587.1 264.5 1586.9 265 1587.3 265.5 1586.5 266 1586.7 266.5 1587 267 1587.3 267.5 1586.5 268 1586.5 268.5 1586.5 269 1587.1 269.5 1587.2 270 1585.4 270.5 1581.2 271 1576.1 271.5 1573.1 272 1570 272.5 1567.3 273 1565.5 273.5 1563.4 274 1561.9 274.5 1560.3 275 1558.7 275.5 1558.3 276 1557.4 276.5 1556.2 277 1554.9 277.5 1554.3 278 1554.1 278.5 1554.2 279 1553.9 279.5 1553.4 280 1553.1 280.5 1551.9 281 1552.7 281.5 1552.1 282 1552.1" fill="none" stroke="#211612" stroke-width="1.5" stroke-linejoin="round"/>
<path d="M73 1550.8 73.5 1550.4 74 1551.4 74.5 1551.2 75 1550.7 75.5 1550.6 76 1550.9 76.5 1551.4 77 1551.3 77.5 1551.1 78 1551.4 78.5 1551.2 79 1550.8 79.5 1551.3 80 1551.1 80.5 1550.8 81 1551.5 81.5 1551.2 82 1550.6 82.5 1551.4 83 1551.2 83.5 1551 84 1550.9 84.5 1550.7 85 1550.6 85.5 1551.2 86 1551.3 86.5 1551 87 1551.2 87.5 1551 88 1551 88.5 1551.3 89 1551.3 89.5 1551.6 90 1550.9 90.5 1551.2 91 1551 91.5 1551.2 92 1551.5 92.5 1551.2 93 1550.8 93.5 1550.9 94 1550.9 94.5 1551 95 1550.9 95.5 1550.9 96 1551 96.5 1551.2 97 1550.8 97.5 1551.1 98 1551.1 98.5 1551.4 99 1551.2 99.5 1551.3 100 1551.2 100.5 1551.5 101 1551.1 101.5 1550.6 102 1551.2 102.5 1550.8 103 1550.3 103.5 1551.3 104 1551.1 104.5 1551.2 105 1551.2 105.5 1551 106 1551.4 106.5 1551.1 107 1551 107.5 1551.1 108 1550.4 108.5 1551.3 109 1550.6 109.5 1551.2 110 1551 110.5 1551.1 111 1550.8 111.5 1551.6 112 1550.4 112.5 1551 113 1550.8 113.5 1550.6 114 1551.6 114.5 1551.1 115 1551.9 115.5 1551.3 116 1551.3 116.5 1551.3 117 1550.7 117.5 1550.6 118 1551.6 118.5 1551.4 119 1550.8 119.5 1551.1 120 1551.1 120.5 1551.5 121 1551.2 121.5 1550.9 122 1557.7 122.5 1562.8 123 1568.1 123.5 1572 124 1575 124.5 1580 125 1582.1 125.5 1585.4 126 1587.6 126.5 1589.2 127 1590.8 127.5 1593.5 128 1594.3 128.5 1595.9 129 1596.7 129.5 1597.9 130 1598.5 130.5 1598.7 131 1599.6 131.5 1600.5 132 1600.5 132.5 1601.3 133 1601.7 133.5 1602.5 134 1603 134.5 1602 135 1603.1 135.5 1603.8 136 1602.9 136.5 1603.2 137 1604.1 137.5 1603.9 138 1603.8 138.5 1604.1 139 1604.4 139.5 1604.2 140 1604.4 140.5 1604.4 141 1604.5 141.5 1604.5 142 1604.6 142.5 1604.5 143 1604.9 143.5 1604.5 144 1604.5 144.5 1604.2 145 1604.4 145.5 1604.7 146 1604.7 146.5 1604.9 147 1604.3 147.5 1604.5 148 1604.1 148.5 1604.7 149 1605.1 149.5 1604.9 150 1604.6 150.5 1604.9 151 1604.9 151.5 1604.5 152 1604.5 152.5 1604.5 153 1604.9 153.5 1605 154 1604.9 154.5 1604.7 155 1605.4 155.5 1604.7 156 1605 156.5 1604.9 157 1605.2 157.5 1604.3 158 1605 158.5 1604.8 159 1604.8 159.5 1604.5 160 1604.6 160.5 1605.2 161 1605.1 161.5 1604.3 162 1604.9 162.5 1604.7 163 1605.2 163.5 1605 164 1605.1 164.5 1604.8 165 1604.8 165.5 1604.6 166 1604.3 166.5 1604.6 167 1605.2 167.5 1605.3 168 1604.5 168.5 1604.5 169 1604.6 169.5 1604.6 170 1604.4 170.5 1604.6 171 1605 171.5 1605.1 172 1605.4 172.5 1604.8 173 1604.1 173.5 1604.6 174 1604.4 174.5 1604.7 175 1604.6 175.5 1605.1 176 1604.5 176.5 1604.8 177 1605.4 177.5 1604.8 178 1604.3 178.5 1605.1 179 1605 179.5 1605 180 1605 180.5 1604.5 181 1604.5 181.5 1604.8 182 1604.2 182.5 1604.5 183 1605.2 183.5 1604.4 184 1604.9 184.5 1605.1 185 1604.8 185.5 1604.6 186 1605.2 186.5 1604.3 187 1605.3 187.5 1604.5 188 1604.8 188.5 1604.4 189 1604.4 189.5 1605.1 190 1604.8 190.5 1605 191 1604.4 191.5 1604.7 192 1604.4 192.5 1604.8 193 1604.9 193.5 1605 194 1605 194.5 1604.6 195 1605 195.5 1604.7 196 1605.2 196.5 1604.7 197 1605.2 197.5 1604.7 198 1605 198.5 1604.9 199 1604.3 199.5 1605 200 1604.5 200.5 1604.2 201 1604.8 201.5 1605.2 202 1605 202.5 1604.5 203 1604.2 203.5 1603.9 204 1604.6 204.5 1604.6 205 1604.7 205.5 1605.2 206 1604.7 206.5 1604.4 207 1604.4 207.5 1604.5 208 1604.6 208.5 1604.9 209 1604.7 209.5 1604.8 210 1604.8 210.5 1604.9 211 1605 211.5 1605.2 212 1604.5 212.5 1604.7 213 1604.8 213.5 1604.7 214 1605.1 214.5 1605 215 1604.6 215.5 1605.4 216 1605 216.5 1605 217 1604.6 217.5 1605.1 218 1604.7 218.5 1604.5 219 1604.8 219.5 1604.5 220 1604.4 220.5 1605 221 1605.1 221.5 1604.6 222 1605.1 222.5 1605.2 223 1605.2 223.5 1604.9 224 1604.7 224.5 1605.3 225 1604.7 225.5 1605 226 1605.2 226.5 1605.4 227 1604.9 227.5 1604.9 228 1605 228.5 1604.9 229 1605.2 229.5 1605.2 230 1605.4 230.5 1604.8 231 1605.1 231.5 1604.6 232 1604.7 232.5 1605.3 233 1604.7 233.5 1604.2 234 1604.6 234.5 1604.6 235 1604.2 235.5 1604.9 236 1605.1 236.5 1604.6 237 1605.1 237.5 1604.1 238 1605.1 238.5 1604.8 239 1605.6 239.5 1604.8 240 1604.8 240.5 1604.8 241 1604.7 241.5 1604.7 242 1605 242.5 1604.9 243 1604.9 243.5 1604.9 244 1604.6 244.5 1605.4 245 1604.5 245.5 1605.1 246 1604.8 246.5 1605.2 247 1604.7 247.5 1605.2 248 1605 248.5 1605.2 249 1605.5 249.5 1604.9 250 1604.9 250.5 1604 251 1604.8 251.5 1605.1 252 1604.7 252.5 1604.8 253 1604.8 253.5 1604.2 254 1605.1 254.5 1604.6 255 1604.4 255.5 1605.1 256 1605 256.5 1605 257 1604.9 257.5 1604.6 258 1605.1 258.5 1604.5 259 1604.9 259.5 1604.5 260 1604.5 260.5 1605.1 261 1604.6 261.5 1605.4 262 1604.4 262.5 1605.2 263 1604.7 263.5 1605.1 264 1605.1 264.5 1604.2 265 1605 265.5 1604.7 266 1604.5 266.5 1605.2 267 1605 267.5 1605 268 1605.3 268.5 1605.2 269 1604.9 269.5 1604.6 270 1602.3 270.5 1594.9 271 1588.7 271.5 1584.8 272 1580.5 272.5 1575.4 273 1572.8 273.5 1569.3 274 1567.5 274.5 1565 275 1562.8 275.5 1562 276 1560 276.5 1559.2 277 1557.8 277.5 1557.6 278 1556.6 278.5 1555.5 279 1554.3 279.5 1554.6 280 1553.7 280.5 1554 281 1553.8 281.5 1553 282 1553.1" fill="none" stroke="#211612" stroke-width="1.5" stroke-linejoin="round"/>
<path d="M293.3 1551.6 293.8 1551.7 294.3 1551.6 294.8 1551.9 295.3 1552.6 295.8 1551.5 296.3 1552.4 296.8 1552.5 297.3 1552 297.8 1551.9 298.3 1552.3 298.8 1552.5 299.3 1552.9 299.8 1552.4 300.3 1552.7 300.8 1551.9 301.3 1551.8 301.8 1551.5 302.3 1551.7 302.8 1552 303.3 1552.2 303.8 1551.6 304.3 1552.4 304.8 1552.1 305.3 1551.9 305.8 1551.8 306.3 1552.8 306.8 1552.2 307.3 1551.8 307.8 1551.8 308.3 1552.7 308.8 1551.9 309.3 1552.5 309.8 1552.6 310.3 1551.3 310.8 1552.6 311.3 1552 311.8 1551.7 312.3 1551.9 312.8 1552.3 313.3 1552.2 313.8 1552.2 314.3 1551.8 314.8 1552.5 315.3 1552.6 315.8 1552.7 316.3 1552.5 316.8 1552.8 317.3 1552.8 317.8 1552.3 318.3 1552.4 318.8 1552.3 319.3 1552.3 319.8 1552.4 320.3 1551.5 320.8 1552 321.3 1552.3 321.8 1551.4 322.3 1551.6 322.8 1552.7 323.3 1551.7 323.8 1551.9 324.3 1552.2 324.8 1551.9 325.3 1551.8 325.8 1551.9 326.3 1552 326.8 1551.9 327.3 1552.2 327.8 1552.7 328.3 1552.2 328.8 1552.7 329.3 1552.4 329.8 1552.4 330.3 1552.3 330.8 1552 331.3 1552.2 331.8 1552.2 332.3 1551.7 332.8 1552.4 333.3 1552.3 333.8 1552.2 334.3 1551.9 334.8 1551.2 335.3 1552.6 335.8 1552.1 336.3 1551.3 336.8 1552.3 337.3 1551.9 337.8 1552.3 338.3 1552.1 338.8 1552.5 339.3 1552.2 339.8 1552.2 340.3 1552.2 340.8 1552.5 341.3 1551.6 341.8 1552.5 342.3 1552.3 342.8 1551.9 343.3 1552.1 343.8 1551.9 344.3 1552.1 344.8 1552.4 345.3 1551.9 345.8 1552.4 346.3 1552.4 346.8 1552.3 347.3 1552.6 347.8 1552.1 348.3 1552.3 348.8 1553 349.3 1552.1 349.8 1552.1 350.3 1552.1 350.8 1552.3 351.3 1551.9 351.8 1552 352.3 1551.5 352.8 1551.7 353.3 1551.7 353.8 1551.7 354.3 1551.9 354.8 1552.3 355.3 1552 355.8 1551.6 356.3 1552.2 356.8 1552.2 357.3 1551.6 357.8 1552.2 358.3 1551.7 358.8 1551.9 359.3 1551.8 359.8 1552.4 360.3 1551.8 360.8 1552 361.3 1552.2 361.8 1552.5 362.3 1552.5 362.8 1551.7 363.3 1552.5 363.8 1552.2 364.3 1552.5 364.8 1552.5 365.3 1551.9 365.8 1552.1 366.3 1552 366.8 1552.2 367.3 1552.7 367.8 1552.1 368.3 1551.9 368.8 1553 369.3 1551.8 369.8 1552.1 370.3 1552.1 370.8 1551.7 371.3 1552.4 371.8 1552.5 372.3 1552.1 372.8 1552.1 373.3 1552 373.8 1551.5 374.3 1552.2 374.8 1551.7 375.3 1551.8 375.8 1552.2 376.3 1552.4 376.8 1551.8 377.3 1552.5 377.8 1552.7 378.3 1552.2 378.8 1552.1 379.3 1552.2 379.8 1552 380.3 1551.8 380.8 1552.3 381.3 1552.4 381.8 1551.9 382.3 1552 382.8 1551.9 383.3 1551.9 383.8 1551.8 384.3 1551.6 384.8 1552.4 385.3 1552 385.8 1552.1 386.3 1552.7 386.8 1551.9 387.3 1552.3 387.8 1551.6 388.3 1551.9 388.8 1552.3 389.3 1552 389.8 1551.6 390.3 1551.6 390.8 1552.2 391.3 1551.8 391.8 1552.3 392.3 1552.2 392.8 1552 393.3 1552.1 393.8 1552.4 394.3 1552.1 394.8 1551.8 395.3 1552.2 395.8 1552 396.3 1552 396.8 1552.3 397.3 1552.2 397.8 1552.4 398.3 1552 398.8 1551.9 399.3 1552 399.8 1552.2 400.3 1551.8 400.8 1552 401.3 1551.8 401.8 1551.8 402.3 1552 402.8 1552.9 403.3 1552 403.8 1552.2 404.3 1552.1 404.8 1552 405.3 1552.1 405.8 1552.8 406.3 1552 406.8 1552.6 407.3 1552.3 407.8 1551.8 408.3 1551.9 408.8 1551.9 409.3 1551.7 409.8 1552.5 410.3 1552.2 410.8 1552.3 411.3 1551.7 411.8 1552.3 412.3 1551.9 412.8 1552.9 413.3 1552.1 413.8 1552.2 414.3 1552.2 414.8 1551.9 415.3 1552 415.8 1552 416.3 1552.4 416.8 1551.9 417.3 1552 417.8 1552.2 418.3 1552 418.8 1551.6 419.3 1551.7 419.8 1552 420.3 1551.8 420.8 1552.4 421.3 1552.1 421.8 1552.1 422.3 1551.8 422.8 1552.3 423.3 1552 423.8 1551.8 424.3 1551.9 424.8 1552.9 425.3 1551.9 425.8 1551.8 426.3 1552.5 426.8 1552.3 427.3 1552 427.8 1552.6 428.3 1551.6 428.8 1551.9 429.3 1551.5 429.8 1552.6 430.3 1552.1 430.8 1553 431.3 1552.3 431.8 1552.3 432.3 1551.7 432.8 1551.7 433.3 1551.9 433.8 1552.4 434.3 1551.7 434.8 1551.3 435.3 1552.4 435.8 1552.4 436.3 1551.8 436.8 1552.2 437.3 1552.5 437.8 1552.5 438.3 1551.5 438.8 1552.1 439.3 1551.8 439.8 1552.4 440.3 1552.1 440.8 1551.7 441.3 1552.1 441.8 1552.3 442.3 1551.5 442.8 1551.6 443.3 1551.8 443.8 1552 444.3 1551.9 444.8 1551.4 445.3 1551.5 445.8 1552 446.3 1552.2 446.8 1551.8 447.3 1552.1 447.8 1552.7 448.3 1552 448.8 1551.9 449.3 1551.8 449.8 1552.2 450.3 1552.1 450.8 1552.2 451.3 1551.9 451.8 1552.2 452.3 1552.2 452.8 1552 453.3 1552.5 453.8 1551.5 454.3 1552.3 454.8 1552 455.3 1552.4 455.8 1552.7 456.3 1552.1 456.8 1552 457.3 1552.1 457.8 1552.6 458.3 1552.6 458.8 1552.1 459.3 1552.3 459.8 1552.7 460.3 1552.3 460.8 1551.6 461.3 1551.8 461.8 1551.9 462.3 1552.2 462.8 1551.9 463.3 1552.6 463.8 1551.9 464.3 1552.6 464.8 1551.9 465.3 1552.6 465.8 1552.2 466.3 1552.6 466.8 1552.8 467.3 1552.7 467.8 1552.5 468.3 1551.9 468.8 1551.8 469.3 1551 469.8 1552.6 470.3 1552.5 470.8 1552.5 471.3 1551.7 471.8 1553.1 472.3 1551.9 472.8 1552.4 473.3 1551.6 473.8 1551.9 474.3 1552.5 474.8 1552.5 475.3 1551.7 475.8 1552.1 476.3 1552.5 476.8 1551.5 477.3 1552.4 477.8 1551.6 478.3 1552.3 478.8 1552 479.3 1552.5 479.8 1551.9 480.3 1552 480.8 1552 481.3 1551.8 481.8 1552 482.3 1551.8 482.8 1551.9 483.3 1552.3 483.8 1552 484.3 1552.5 484.8 1552.3 485.3 1552.4 485.8 1551.7 486.3 1552.2 486.8 1552.6 487.3 1552.4 487.8 1552.5 488.3 1552.6 488.8 1551.6 489.3 1552.3 489.8 1552.3 490.3 1552 490.8 1551.6 491.3 1552.2 491.8 1552 492.3 1552.8 492.8 1552.6 493.3 1552 493.8 1551.7 494.3 1551.8 494.8 1552.1 495.3 1551.8 495.8 1552.8 496.3 1551.7 496.8 1552.1 497.3 1552.2 497.8 1552.2 498.3 1551.8 498.8 1552 499.3 1552.2 499.8 1552.2 500.3 1551.9 500.8 1552 501.3 1552.2 501.8 1552.8" fill="none" stroke="#B71B29" stroke-width="1.5" stroke-linejoin="round"/>
<path d="M293.3 1551.7 293.8 1552.4 294.3 1552.7 294.8 1551.6 295.3 1552.6 295.8 1552.6 296.3 1552.1 296.8 1552.5 297.3 1552.6 297.8 1552.1 298.3 1552.2 298.8 1551.8 299.3 1551.9 299.8 1552.1 300.3 1552.1 300.8 1552.7 301.3 1552.1 301.8 1551.7 302.3 1552.4 302.8 1552.4 303.3 1552.3 303.8 1552.1 304.3 1551.9 304.8 1551.9 305.3 1552.7 305.8 1552.4 306.3 1552.2 306.8 1552.3 307.3 1552 307.8 1551.8 308.3 1552 308.8 1552.1 309.3 1551.6 309.8 1551.6 310.3 1551.5 310.8 1552 311.3 1552.3 311.8 1551.7 312.3 1551.7 312.8 1551.6 313.3 1551.9 313.8 1551.7 314.3 1551.8 314.8 1551.7 315.3 1552.9 315.8 1552.1 316.3 1551.9 316.8 1551.9 317.3 1552.4 317.8 1552.4 318.3 1552.2 318.8 1551.4 319.3 1552.4 319.8 1552.5 320.3 1552.4 320.8 1552.3 321.3 1552.1 321.8 1552.5 322.3 1552 322.8 1552.5 323.3 1551.9 323.8 1552 324.3 1551.9 324.8 1551.9 325.3 1551.9 325.8 1552.4 326.3 1552.6 326.8 1551.9 327.3 1551.7 327.8 1552.5 328.3 1552 328.8 1552.2 329.3 1552.2 329.8 1552.4 330.3 1551.8 330.8 1552.5 331.3 1552.4 331.8 1551.3 332.3 1552 332.8 1552 333.3 1552.2 333.8 1552.1 334.3 1551.8 334.8 1552 335.3 1552.2 335.8 1552.1 336.3 1552 336.8 1552.9 337.3 1552.3 337.8 1551.7 338.3 1552.1 338.8 1552.2 339.3 1551.8 339.8 1552.1 340.3 1551.8 340.8 1551.3 341.3 1552.2 341.8 1553.7 342.3 1555.2 342.8 1556.3 343.3 1557.3 343.8 1558.7 344.3 1559.7 344.8 1560.7 345.3 1561.5 345.8 1562 346.3 1562.1 346.8 1562.8 347.3 1562.7 347.8 1563.8 348.3 1564.1 348.8 1564.7 349.3 1564.7 349.8 1565.3 350.3 1564.7 350.8 1565.2 351.3 1565.2 351.8 1565.4 352.3 1564.9 352.8 1565.4 353.3 1565.1 353.8 1565.7 354.3 1565.7 354.8 1566 355.3 1565.4 355.8 1565.9 356.3 1566.1 356.8 1565.4 357.3 1566.8 357.8 1566.4 358.3 1566 358.8 1567 359.3 1566.8 359.8 1565.5 360.3 1566.3 360.8 1566.2 361.3 1566.4 361.8 1566.1 362.3 1566.3 362.8 1566.4 363.3 1565.6 363.8 1566.5 364.3 1566.9 364.8 1566.5 365.3 1566.8 365.8 1567 366.3 1566.6 366.8 1566.6 367.3 1566.6 367.8 1566.3 368.3 1567.3 368.8 1566.6 369.3 1566.7 369.8 1566.8 370.3 1567 370.8 1566 371.3 1566.1 371.8 1566.5 372.3 1566.7 372.8 1566.1 373.3 1566 373.8 1566.8 374.3 1566.7 374.8 1566.4 375.3 1566.4 375.8 1566.3 376.3 1566.1 376.8 1566.2 377.3 1566.5 377.8 1566.4 378.3 1566.8 378.8 1566 379.3 1565.9 379.8 1566.7 380.3 1566.2 380.8 1566.4 381.3 1566.5 381.8 1566 382.3 1565.9 382.8 1566.6 383.3 1565.5 383.8 1566.7 384.3 1565.9 384.8 1566.7 385.3 1566.6 385.8 1566.5 386.3 1566.6 386.8 1566.5 387.3 1566 387.8 1566.8 388.3 1566.5 388.8 1566.6 389.3 1566.4 389.8 1566.4 390.3 1566.8 390.8 1566.8 391.3 1566.6 391.8 1566.1 392.3 1566.1 392.8 1566.1 393.3 1566.9 393.8 1566.7 394.3 1566.5 394.8 1566.4 395.3 1566.2 395.8 1566.8 396.3 1566.1 396.8 1566.2 397.3 1566.8 397.8 1566.7 398.3 1566.5 398.8 1566.1 399.3 1566.1 399.8 1566.8 400.3 1566.6 400.8 1567 401.3 1566.3 401.8 1566.5 402.3 1566.2 402.8 1567.1 403.3 1565.9 403.8 1566.7 404.3 1567.1 404.8 1566.2 405.3 1566 405.8 1566.2 406.3 1566 406.8 1566.6 407.3 1566.5 407.8 1566.2 408.3 1566.4 408.8 1567 409.3 1566.4 409.8 1566.4 410.3 1567.2 410.8 1566.2 411.3 1566.3 411.8 1567 412.3 1566.5 412.8 1565.8 413.3 1566.2 413.8 1565.7 414.3 1566.3 414.8 1566.6 415.3 1565.9 415.8 1567 416.3 1566.9 416.8 1566.8 417.3 1566.2 417.8 1566.5 418.3 1566.7 418.8 1566.8 419.3 1566.9 419.8 1565.7 420.3 1566.2 420.8 1566.1 421.3 1566.4 421.8 1566.6 422.3 1567.3 422.8 1566.5 423.3 1566.8 423.8 1566.5 424.3 1566.5 424.8 1567.1 425.3 1566.1 425.8 1566.7 426.3 1567.2 426.8 1567.7 427.3 1566.3 427.8 1566.2 428.3 1566.1 428.8 1566.3 429.3 1566.5 429.8 1566.5 430.3 1566.9 430.8 1566.4 431.3 1566.6 431.8 1565.9 432.3 1566.3 432.8 1566.4 433.3 1565.7 433.8 1566.5 434.3 1566.8 434.8 1566.5 435.3 1566.6 435.8 1566.5 436.3 1566.1 436.8 1566.5 437.3 1566.3 437.8 1566.5 438.3 1566.5 438.8 1566.5 439.3 1566 439.8 1566.5 440.3 1567.1 440.8 1566.8 441.3 1566.4 441.8 1566.2 442.3 1566.8 442.8 1566.5 443.3 1565.9 443.8 1566.3 444.3 1567.1 444.8 1565.9 445.3 1566.5 445.8 1566.2 446.3 1566.5 446.8 1566.3 447.3 1566.2 447.8 1565.6 448.3 1566.4 448.8 1566.5 449.3 1566.4 449.8 1566.1 450.3 1566.3 450.8 1567.3 451.3 1566.1 451.8 1566.4 452.3 1566 452.8 1566.4 453.3 1566.6 453.8 1566.9 454.3 1566.5 454.8 1566.5 455.3 1566.6 455.8 1566.7 456.3 1566.5 456.8 1566.5 457.3 1566.9 457.8 1566.2 458.3 1566.4 458.8 1566.2 459.3 1566.3 459.8 1567 460.3 1566.2 460.8 1566.7 461.3 1567.2 461.8 1566.7 462.3 1566.4 462.8 1566.2 463.3 1565.6 463.8 1566.1 464.3 1566.1 464.8 1566.8 465.3 1566.7 465.8 1566 466.3 1566.7 466.8 1566.2 467.3 1567.1 467.8 1567 468.3 1566.7 468.8 1566.3 469.3 1567.1 469.8 1566.8 470.3 1566.9 470.8 1566.7 471.3 1566.4 471.8 1566.8 472.3 1566.2 472.8 1566.8 473.3 1566.6 473.8 1565.9 474.3 1566.7 474.8 1566.5 475.3 1566.4 475.8 1566.5 476.3 1566.8 476.8 1566.1 477.3 1566.1 477.8 1566.8 478.3 1566.6 478.8 1565.9 479.3 1566.5 479.8 1565.9 480.3 1566.7 480.8 1566.6 481.3 1566.7 481.8 1565.9 482.3 1566.2 482.8 1566.8 483.3 1566 483.8 1566.7 484.3 1566.4 484.8 1566.5 485.3 1566.2 485.8 1566.7 486.3 1566.6 486.8 1566.8 487.3 1567.3 487.8 1566.4 488.3 1566.5 488.8 1566.1 489.3 1567.1 489.8 1566.4 490.3 1566.8 490.8 1565.3 491.3 1563.8 491.8 1562.5 492.3 1561.1 492.8 1559.7 493.3 1559.1 493.8 1557.9 494.3 1557.5 494.8 1556.4 495.3 1556.1 495.8 1555.2 496.3 1555.4 496.8 1554.6 497.3 1554.2 497.8 1553.7 498.3 1554.1 498.8 1553.5 499.3 1553.2 499.8 1553.6 500.3 1552.7 500.8 1553.2 501.3 1553.3 501.8 1552.1" fill="none" stroke="#B71B29" stroke-width="1.5" stroke-linejoin="round"/>
<path d="M293.3 1552.4 293.8 1552.3 294.3 1552.2 294.8 1552.2 295.3 1551.7 295.8 1552.3 296.3 1552.2 296.8 1551.6 297.3 1552 297.8 1551.7 298.3 1552.1 298.8 1551.8 299.3 1552.1 299.8 1551.6 300.3 1551.9 300.8 1551.9 301.3 1552 301.8 1552.5 302.3 1552.9 302.8 1551.6 303.3 1552.4 303.8 1552 304.3 1552 304.8 1552 305.3 1552 305.8 1552.1 306.3 1552.4 306.8 1552.5 307.3 1552.2 307.8 1552.1 308.3 1552.3 308.8 1552.2 309.3 1552.7 309.8 1551.8 310.3 1551.6 310.8 1552 311.3 1552.2 311.8 1552 312.3 1552.2 312.8 1551.2 313.3 1551.8 313.8 1551.8 314.3 1551.6 314.8 1551.9 315.3 1552 315.8 1552.2 316.3 1551.7 316.8 1551.5 317.3 1552.2 317.8 1552.7 318.3 1552.1 318.8 1552.1 319.3 1551.7 319.8 1552.1 320.3 1552.6 320.8 1551.4 321.3 1552.4 321.8 1551.4 322.3 1552.6 322.8 1552.3 323.3 1552 323.8 1552.2 324.3 1552.6 324.8 1551.7 325.3 1552.5 325.8 1552.3 326.3 1552.1 326.8 1552.6 327.3 1551.5 327.8 1552 328.3 1551.7 328.8 1552.1 329.3 1552.3 329.8 1551.5 330.3 1552.2 330.8 1552.2 331.3 1551.9 331.8 1552.1 332.3 1552.5 332.8 1552.2 333.3 1552.6 333.8 1551.7 334.3 1551.6 334.8 1552.5 335.3 1551.6 335.8 1552.5 336.3 1552.1 336.8 1552.3 337.3 1552 337.8 1552.4 338.3 1552.5 338.8 1552.5 339.3 1552.3 339.8 1551.6 340.3 1552.4 340.8 1552.1 341.3 1552.5 341.8 1553.9 342.3 1557.1 342.8 1559 343.3 1561.2 343.8 1563.2 344.3 1564.8 344.8 1566.3 345.3 1567.2 345.8 1568.3 346.3 1569.2 346.8 1569.5 347.3 1571 347.8 1571 348.3 1571.6 348.8 1572.5 349.3 1572.5 349.8 1573 350.3 1572.7 350.8 1573.5 351.3 1573.7 351.8 1574.1 352.3 1574.7 352.8 1574.6 353.3 1574.8 353.8 1575 354.3 1575.5 354.8 1575.6 355.3 1575.5 355.8 1575.4 356.3 1575.8 356.8 1575.5 357.3 1575.6 357.8 1575.8 358.3 1575.6 358.8 1575.4 359.3 1575.4 359.8 1575.8 360.3 1576 360.8 1576.1 361.3 1575.7 361.8 1576 362.3 1576 362.8 1575.8 363.3 1576.9 363.8 1575.8 364.3 1575.8 364.8 1576.1 365.3 1576.6 365.8 1575.9 366.3 1576.5 366.8 1575.7 367.3 1576 367.8 1576 368.3 1576 368.8 1576.1 369.3 1576.1 369.8 1576 370.3 1575.8 370.8 1576.3 371.3 1576.1 371.8 1576.2 372.3 1576.5 372.8 1576.3 373.3 1576.2 373.8 1576.6 374.3 1576 374.8 1575.6 375.3 1576 375.8 1575.7 376.3 1576.1 376.8 1576.1 377.3 1576.1 377.8 1576.2 378.3 1576.4 378.8 1576.3 379.3 1576.2 379.8 1576.1 380.3 1576 380.8 1576.1 381.3 1576.1 381.8 1575.8 382.3 1576 382.8 1576.4 383.3 1576.2 383.8 1575.9 384.3 1576.2 384.8 1576.4 385.3 1575.8 385.8 1576.7 386.3 1576.5 386.8 1576.1 387.3 1576.5 387.8 1576.2 388.3 1576.4 388.8 1575.9 389.3 1576 389.8 1576.1 390.3 1576.1 390.8 1576 391.3 1575.6 391.8 1575.8 392.3 1576.3 392.8 1576 393.3 1576.7 393.8 1576.6 394.3 1576.1 394.8 1576.2 395.3 1575.5 395.8 1576.4 396.3 1576.5 396.8 1575.9 397.3 1575.9 397.8 1575.9 398.3 1576.4 398.8 1576.5 399.3 1575.8 399.8 1576 400.3 1576.3 400.8 1576.2 401.3 1576 401.8 1576.3 402.3 1575.8 402.8 1575.7 403.3 1576.3 403.8 1576.4 404.3 1576.6 404.8 1576 405.3 1575.9 405.8 1576.2 406.3 1576.1 406.8 1576.2 407.3 1576.1 407.8 1576.6 408.3 1576.2 408.8 1576.6 409.3 1575.9 409.8 1575.8 410.3 1576.4 410.8 1575.7 411.3 1575.8 411.8 1575.8 412.3 1575.5 412.8 1576.3 413.3 1576.7 413.8 1576.3 414.3 1576.4 414.8 1576 415.3 1575.8 415.8 1576.3 416.3 1575.8 416.8 1575.6 417.3 1575.8 417.8 1576.5 418.3 1576.3 418.8 1576 419.3 1575.8 419.8 1575.8 420.3 1576.2 420.8 1576.1 421.3 1575.9 421.8 1576.5 422.3 1575.9 422.8 1575.6 423.3 1576 423.8 1576.5 424.3 1576.3 424.8 1576.4 425.3 1575.8 425.8 1576.3 426.3 1576.2 426.8 1576 427.3 1575.7 427.8 1576.5 428.3 1576.1 428.8 1575.9 429.3 1576.3 429.8 1576.9 430.3 1575.6 430.8 1576.2 431.3 1576.7 431.8 1576.7 432.3 1575.8 432.8 1575.9 433.3 1575.4 433.8 1576.1 434.3 1575.6 434.8 1575.7 435.3 1576.5 435.8 1575.7 436.3 1575.5 436.8 1576.1 437.3 1576.2 437.8 1576.2 438.3 1576.5 438.8 1575.9 439.3 1576.1 439.8 1576.3 440.3 1576 440.8 1576.6 441.3 1576.4 441.8 1576.1 442.3 1576 442.8 1576.1 443.3 1576.2 443.8 1575.5 444.3 1575.7 444.8 1575.8 445.3 1575.8 445.8 1575.9 446.3 1575.9 446.8 1576.1 447.3 1576 447.8 1576.2 448.3 1576.2 448.8 1576.1 449.3 1575.9 449.8 1575.8 450.3 1576.3 450.8 1575.9 451.3 1576.2 451.8 1576.3 452.3 1576.1 452.8 1575.5 453.3 1575.8 453.8 1576.7 454.3 1575.5 454.8 1576.5 455.3 1575.7 455.8 1576.1 456.3 1576.4 456.8 1575.7 457.3 1576.4 457.8 1575.3 458.3 1576 458.8 1575.8 459.3 1576.2 459.8 1576.3 460.3 1576.4 460.8 1576.4 461.3 1575.9 461.8 1575.7 462.3 1576.2 462.8 1575.8 463.3 1575.3 463.8 1575.3 464.3 1575.9 464.8 1575.9 465.3 1576 465.8 1576.1 466.3 1575.5 466.8 1576.1 467.3 1575.6 467.8 1576.2 468.3 1576 468.8 1576.5 469.3 1576.1 469.8 1575.8 470.3 1575.9 470.8 1576 471.3 1576.2 471.8 1576.3 472.3 1575.7 472.8 1575.7 473.3 1576.3 473.8 1576 474.3 1576.4 474.8 1576.2 475.3 1576.6 475.8 1576.3 476.3 1575.6 476.8 1575.9 477.3 1576.2 477.8 1575.7 478.3 1576 478.8 1576.3 479.3 1576.4 479.8 1576.3 480.3 1575.5 480.8 1576.4 481.3 1575.8 481.8 1576.1 482.3 1575.8 482.8 1576.4 483.3 1576 483.8 1576.1 484.3 1576.2 484.8 1576 485.3 1575.9 485.8 1576.5 486.3 1576.3 486.8 1576.3 487.3 1575.5 487.8 1575.4 488.3 1576.6 488.8 1576.3 489.3 1575.5 489.8 1576.2 490.3 1576.1 490.8 1574.4 491.3 1571.6 491.8 1569.7 492.3 1566.6 492.8 1565 493.3 1562.9 493.8 1561.2 494.3 1561.2 494.8 1559.5 495.3 1558.2 495.8 1557.4 496.3 1556.7 496.8 1555.8 497.3 1555.7 497.8 1555.3 498.3 1554.6 498.8 1554.3 499.3 1553.6 499.8 1553.9 500.3 1552.9 500.8 1553.3 501.3 1553.7 501.8 1552.9" fill="none" stroke="#B71B29" stroke-width="1.5" stroke-linejoin="round"/>
<path d="M293.3 1553 293.8 1551.7 294.3 1552 294.8 1552 295.3 1552.4 295.8 1552.5 296.3 1552.1 296.8 1551.6 297.3 1552.5 297.8 1552.3 298.3 1552.3 298.8 1551.5 299.3 1552.2 299.8 1552 300.3 1552.4 300.8 1552.6 301.3 1551.8 301.8 1552 302.3 1552.1 302.8 1551.8 303.3 1552.2 303.8 1552.2 304.3 1551.8 304.8 1551.8 305.3 1552.1 305.8 1551.5 306.3 1552.2 306.8 1552.3 307.3 1552.3 307.8 1551.7 308.3 1552.6 308.8 1552.7 309.3 1551.7 309.8 1552.6 310.3 1552.5 310.8 1552.4 311.3 1551.8 311.8 1552.4 312.3 1551.7 312.8 1552.1 313.3 1552.4 313.8 1552.3 314.3 1552 314.8 1552.2 315.3 1552.1 315.8 1552.2 316.3 1551.9 316.8 1551.7 317.3 1551.9 317.8 1551.7 318.3 1552.5 318.8 1553 319.3 1552.3 319.8 1552.5 320.3 1551.8 320.8 1552.1 321.3 1551.7 321.8 1552.3 322.3 1552.1 322.8 1551.8 323.3 1552.6 323.8 1552.1 324.3 1552.4 324.8 1552.4 325.3 1552.6 325.8 1552.5 326.3 1552.1 326.8 1552 327.3 1551.9 327.8 1551.8 328.3 1552.7 328.8 1551.9 329.3 1552.5 329.8 1551.8 330.3 1551.8 330.8 1552.4 331.3 1552 331.8 1551.8 332.3 1552.6 332.8 1551.6 333.3 1551.8 333.8 1552.3 334.3 1552.5 334.8 1552 335.3 1551.8 335.8 1552.8 336.3 1552 336.8 1551.8 337.3 1552.1 337.8 1552.4 338.3 1551.1 338.8 1551.7 339.3 1552.3 339.8 1552.2 340.3 1552.1 340.8 1552 341.3 1552.2 341.8 1555.5 342.3 1558.5 342.8 1561.7 343.3 1564.8 343.8 1566.9 344.3 1568.7 344.8 1571 345.3 1572.4 345.8 1574.4 346.3 1575.8 346.8 1576.4 347.3 1577.6 347.8 1578.7 348.3 1579.8 348.8 1580.4 349.3 1580.8 349.8 1581.3 350.3 1582.1 350.8 1582.3 351.3 1582.7 351.8 1582.5 352.3 1583.2 352.8 1583.5 353.3 1583.6 353.8 1583.5 354.3 1583.4 354.8 1584.3 355.3 1584.5 355.8 1584.4 356.3 1584.2 356.8 1584.5 357.3 1584.7 357.8 1585 358.3 1584.9 358.8 1584.6 359.3 1584.8 359.8 1584.6 360.3 1585.6 360.8 1584.8 361.3 1585.6 361.8 1585.2 362.3 1585.7 362.8 1584.8 363.3 1585.4 363.8 1584.9 364.3 1584.9 364.8 1585 365.3 1584.8 365.8 1585 366.3 1585.2 366.8 1585.8 367.3 1585.1 367.8 1584.8 368.3 1585.5 368.8 1585.7 369.3 1584.5 369.8 1585.4 370.3 1584.8 370.8 1584.7 371.3 1585.5 371.8 1585.8 372.3 1585.9 372.8 1585.3 373.3 1585.2 373.8 1585.4 374.3 1585.5 374.8 1585.6 375.3 1585.8 375.8 1585.5 376.3 1585.5 376.8 1585.4 377.3 1585.1 377.8 1585.5 378.3 1585.8 378.8 1585.6 379.3 1584.6 379.8 1585.9 380.3 1585.1 380.8 1586.1 381.3 1586.1 381.8 1585.6 382.3 1586 382.8 1585.1 383.3 1585.3 383.8 1585.1 384.3 1585.5 384.8 1585.4 385.3 1585.4 385.8 1585.4 386.3 1585.8 386.8 1585.3 387.3 1585.2 387.8 1585.4 388.3 1585.5 388.8 1585.5 389.3 1585 389.8 1585.1 390.3 1585.2 390.8 1585 391.3 1584.8 391.8 1585.1 392.3 1584.4 392.8 1585.2 393.3 1584.9 393.8 1585.2 394.3 1585.2 394.8 1585.9 395.3 1585.9 395.8 1586 396.3 1585.3 396.8 1585.1 397.3 1585.6 397.8 1584.9 398.3 1585.3 398.8 1585 399.3 1585.3 399.8 1585.5 400.3 1584.9 400.8 1585.4 401.3 1585.3 401.8 1585.4 402.3 1585.4 402.8 1585.1 403.3 1585.3 403.8 1585.2 404.3 1584.8 404.8 1585.8 405.3 1585.5 405.8 1585.5 406.3 1585.1 406.8 1584.7 407.3 1585.4 407.8 1585 408.3 1585.9 408.8 1585.9 409.3 1585.1 409.8 1585.7 410.3 1585.5 410.8 1585.3 411.3 1584.8 411.8 1585.5 412.3 1585.6 412.8 1585.6 413.3 1585.1 413.8 1585.3 414.3 1585.3 414.8 1585.3 415.3 1585.1 415.8 1585.7 416.3 1585.5 416.8 1585.2 417.3 1585.5 417.8 1585.6 418.3 1585.4 418.8 1585.4 419.3 1585.6 419.8 1585.1 420.3 1585.5 420.8 1585.1 421.3 1585.4 421.8 1585.7 422.3 1585.2 422.8 1585.7 423.3 1585.5 423.8 1585.8 424.3 1584.8 424.8 1584 425.3 1585 425.8 1586 426.3 1585.4 426.8 1585.3 427.3 1585.3 427.8 1585.5 428.3 1585.3 428.8 1586.1 429.3 1585.4 429.8 1584.9 430.3 1584.9 430.8 1585.3 431.3 1585.3 431.8 1585.6 432.3 1585.7 432.8 1585.7 433.3 1585 433.8 1585.5 434.3 1585.1 434.8 1585.4 435.3 1585 435.8 1585.8 436.3 1585.8 436.8 1585.5 437.3 1585 437.8 1585.7 438.3 1585.4 438.8 1584.9 439.3 1585.6 439.8 1585.6 440.3 1585.5 440.8 1584.7 441.3 1585.6 441.8 1585.7 442.3 1585.1 442.8 1585.7 443.3 1585.5 443.8 1585.7 444.3 1584.7 444.8 1585.2 445.3 1585.5 445.8 1584.8 446.3 1585.4 446.8 1585.9 447.3 1584.8 447.8 1585.8 448.3 1585.6 448.8 1585 449.3 1585 449.8 1585 450.3 1585.4 450.8 1584.5 451.3 1585.5 451.8 1584.8 452.3 1585.2 452.8 1585.2 453.3 1585.6 453.8 1585 454.3 1585 454.8 1585.7 455.3 1585.9 455.8 1585.3 456.3 1585.2 456.8 1585.4 457.3 1585.3 457.8 1585.3 458.3 1585 458.8 1584.5 459.3 1585.4 459.8 1585.3 460.3 1585.7 460.8 1585.7 461.3 1585.8 461.8 1585.1 462.3 1585.5 462.8 1584.9 463.3 1585.4 463.8 1585.5 464.3 1585 464.8 1585.2 465.3 1586.1 465.8 1585 466.3 1585.6 466.8 1585.2 467.3 1585.6 467.8 1584.4 468.3 1584.8 468.8 1585.2 469.3 1585.8 469.8 1585.2 470.3 1584.9 470.8 1585.1 471.3 1585.5 471.8 1584.8 472.3 1585.3 472.8 1585.2 473.3 1585.1 473.8 1585.4 474.3 1585 474.8 1585.5 475.3 1585.5 475.8 1585.9 476.3 1585.4 476.8 1585.3 477.3 1584.9 477.8 1585.1 478.3 1584.9 478.8 1585.8 479.3 1584.5 479.8 1585.4 480.3 1585.5 480.8 1585.5 481.3 1585.2 481.8 1586.1 482.3 1585.2 482.8 1584.8 483.3 1585.1 483.8 1585.1 484.3 1585.7 484.8 1585.3 485.3 1585 485.8 1585 486.3 1585.3 486.8 1585.1 487.3 1585.3 487.8 1585.6 488.3 1584.8 488.8 1585.1 489.3 1585.4 489.8 1584.8 490.3 1585.5 490.8 1583.9 491.3 1579.4 491.8 1576 492.3 1572.4 492.8 1569.9 493.3 1567.6 493.8 1565.4 494.3 1564.1 494.8 1562 495.3 1561.1 495.8 1559.5 496.3 1559.2 496.8 1558.3 497.3 1557.2 497.8 1555.9 498.3 1555.5 498.8 1554.4 499.3 1555.2 499.8 1554.4 500.3 1554 500.8 1553.9 501.3 1553.2 501.8 1553.3" fill="none" stroke="#B71B29" stroke-width="1.5" stroke-linejoin="round"/>
<line x1="363" y1="1598.4" x2="399.8" y2="1598.4" stroke="#050303" stroke-width="1.9"/>
<polyline points="369.7,1598.4 369.7,1618.6 393.3,1618.6 393.3,1598.4" fill="none" stroke="#050303" stroke-width="1.9" stroke-linejoin="miter"/>
<line x1="369.7" y1="1611.5" x2="393.3" y2="1611.5" stroke="#050303" stroke-width="1.9"/>
<polyline points="370.7,1599.4 370.7,1605.4 392.3,1605.4 392.3,1599.4" fill="none" stroke="#B71B29" stroke-width="1.7" stroke-linejoin="miter"/>
<text transform="translate(263.5 1623.2) scale(1 1.045)">-25 pA</text>
<text transform="translate(417.5 1629.3) scale(1 1.045)">50 ms</text>
<polyline points="495,1602.5 505.3,1602.5 505.3,1593.3" fill="none" stroke="#6e6e6e" stroke-width="1.5" stroke-linejoin="miter"/>
<text transform="translate(508 1600.7) scale(1 1.045)">10 mV</text>
<text transform="translate(301.5 1673.9) scale(1 1.045)" text-anchor="middle">Input current (pA)</text>
<line x1="141.6" y1="1734.3" x2="472.8" y2="1734.3" stroke="#050303" stroke-width="2.5"/>
<line x1="208.3" y1="1734.3" x2="208.3" y2="1723.3" stroke="#050303" stroke-width="2.5"/>
<text transform="translate(208.3 1713) scale(1 1.045)" text-anchor="middle">-75</text>
<line x1="302.9" y1="1734.3" x2="302.9" y2="1723.3" stroke="#050303" stroke-width="2.5"/>
<text transform="translate(302.9 1713) scale(1 1.045)" text-anchor="middle">-50</text>
<line x1="397.2" y1="1734.3" x2="397.2" y2="1723.3" stroke="#050303" stroke-width="2.5"/>
<text transform="translate(397.2 1713) scale(1 1.045)" text-anchor="middle">-25</text>
<line x1="460.3" y1="1733.1" x2="460.3" y2="2208.2" stroke="#050303" stroke-width="2.5"/>
<line x1="460.3" y1="1734.3" x2="472.8" y2="1734.3" stroke="#050303" stroke-width="2.5"/>
<text transform="translate(477.2 1743) scale(1 1.045)">0</text>
<line x1="460.3" y1="1892.3" x2="472.8" y2="1892.3" stroke="#050303" stroke-width="2.5"/>
<text transform="translate(477.2 1901) scale(1 1.045)">-20</text>
<line x1="460.3" y1="2050.2" x2="472.8" y2="2050.2" stroke="#050303" stroke-width="2.5"/>
<text transform="translate(477.2 2058.9) scale(1 1.045)">-40</text>
<line x1="460.3" y1="2208.2" x2="472.8" y2="2208.2" stroke="#050303" stroke-width="2.5"/>
<text transform="translate(477.2 2216.9) scale(1 1.045)">-60</text>
<text transform="translate(542.7 1971.3) rotate(90) scale(1 1.045)" text-anchor="middle">Voltage (mV)</text>
<line x1="138.5" y1="1764.7" x2="204.3" y2="1764.7" stroke="#050303" stroke-width="2.2"/>
<circle cx="171.7" cy="1764.7" r="9.3" fill="#070304"/>
<text transform="translate(212.5 1773.1) scale(1 1.045)">WT</text>
<line x1="138.5" y1="1799.8" x2="204.3" y2="1799.8" stroke="#050303" stroke-width="2.2"/>
<circle cx="171.7" cy="1799.8" r="9.3" fill="#B71B29"/>
<text transform="translate(212.5 1808.2) scale(1 1.045)">cKO</text>
<line x1="208.2" y1="2062.4" x2="208.2" y2="2158.6" stroke="#050303" stroke-width="2.4"/>
<line x1="199.7" y1="2062.4" x2="216.7" y2="2062.4" stroke="#050303" stroke-width="2.4"/>
<line x1="199.7" y1="2158.6" x2="216.7" y2="2158.6" stroke="#050303" stroke-width="2.4"/>
<line x1="302.6" y1="1950.4" x2="302.6" y2="2005.1" stroke="#050303" stroke-width="2.4"/>
<line x1="294.1" y1="1950.4" x2="311.1" y2="1950.4" stroke="#050303" stroke-width="2.4"/>
<line x1="294.1" y1="2005.1" x2="311.1" y2="2005.1" stroke="#050303" stroke-width="2.4"/>
<line x1="397.4" y1="1856.8" x2="397.4" y2="1886.3" stroke="#050303" stroke-width="2.4"/>
<line x1="388.9" y1="1856.8" x2="405.9" y2="1856.8" stroke="#050303" stroke-width="2.4"/>
<line x1="388.9" y1="1886.3" x2="405.9" y2="1886.3" stroke="#050303" stroke-width="2.4"/>
<line x1="208.2" y1="1953.1" x2="208.2" y2="2021.3" stroke="#050303" stroke-width="2.4"/>
<line x1="199.7" y1="1953.1" x2="216.7" y2="1953.1" stroke="#050303" stroke-width="2.4"/>
<line x1="199.7" y1="2021.3" x2="216.7" y2="2021.3" stroke="#050303" stroke-width="2.4"/>
<line x1="302.6" y1="1887" x2="302.6" y2="1930.9" stroke="#050303" stroke-width="2.4"/>
<line x1="294.1" y1="1887" x2="311.1" y2="1887" stroke="#050303" stroke-width="2.4"/>
<line x1="294.1" y1="1930.9" x2="311.1" y2="1930.9" stroke="#050303" stroke-width="2.4"/>
<line x1="397.2" y1="1819.2" x2="397.2" y2="1843.6" stroke="#050303" stroke-width="2.4"/>
<line x1="388.7" y1="1819.2" x2="405.7" y2="1819.2" stroke="#050303" stroke-width="2.4"/>
<line x1="388.7" y1="1843.6" x2="405.7" y2="1843.6" stroke="#050303" stroke-width="2.4"/>
<polyline points="208.2,2110.7 302.6,1978.1 397.4,1871.8" fill="none" stroke="#050303" stroke-width="2.2" stroke-linejoin="miter"/>
<polyline points="208.2,1987.5 302.6,1909.6 397.2,1831.1" fill="none" stroke="#050303" stroke-width="2.2" stroke-linejoin="miter"/>
<circle cx="208.2" cy="2110.7" r="7.3" fill="#070304"/>
<circle cx="302.6" cy="1978.1" r="7.3" fill="#070304"/>
<circle cx="397.4" cy="1871.8" r="7.3" fill="#070304"/>
<circle cx="208.2" cy="1987.5" r="7.3" fill="#B71B29"/>
<circle cx="302.6" cy="1909.6" r="7.3" fill="#B71B29"/>
<circle cx="397.2" cy="1831.1" r="7.3" fill="#B71B29"/>
<text transform="translate(96.3 2198.4) scale(1 1.045)">Interaction</text>
<text transform="translate(268.3 2198.4) scale(1 1.045)">P = 0.0215*</text>
<text transform="translate(96.3 2238.2) scale(1 1.045)">Current</text>
<text transform="translate(268.3 2238.2) scale(1 1.045)">P &lt; 0.001***</text>
<text transform="translate(96.3 2277.6) scale(1 1.045)">Genotype</text>
<text transform="translate(268.3 2277.6) scale(1 1.045)">P = 0.0512</text>
<text transform="translate(745 1636.5) scale(1 1.045)">10 pA</text>
<line x1="840.3" y1="1581" x2="840.3" y2="1633.5" stroke="#050303" stroke-width="1.9"/>
<line x1="846.8" y1="1581" x2="846.8" y2="1633.5" stroke="#050303" stroke-width="1.9"/>
<line x1="839.4" y1="1581.9" x2="847.7" y2="1581.9" stroke="#050303" stroke-width="1.8"/>
<line x1="839.4" y1="1587.7" x2="847.7" y2="1587.7" stroke="#050303" stroke-width="1.8"/>
<line x1="839.4" y1="1593.4" x2="847.7" y2="1593.4" stroke="#050303" stroke-width="1.8"/>
<line x1="839.4" y1="1599.2" x2="847.7" y2="1599.2" stroke="#050303" stroke-width="1.8"/>
<line x1="839.4" y1="1604.9" x2="847.7" y2="1604.9" stroke="#050303" stroke-width="1.8"/>
<line x1="839.4" y1="1610.7" x2="847.7" y2="1610.7" stroke="#050303" stroke-width="1.8"/>
<line x1="839.4" y1="1616.4" x2="847.7" y2="1616.4" stroke="#050303" stroke-width="1.8"/>
<line x1="839.4" y1="1622.2" x2="847.7" y2="1622.2" stroke="#050303" stroke-width="1.8"/>
<line x1="839.4" y1="1627.9" x2="847.7" y2="1627.9" stroke="#050303" stroke-width="1.8"/>
<line x1="839.4" y1="1633.7" x2="847.7" y2="1633.7" stroke="#050303" stroke-width="1.8"/>
<polyline points="840.3,1639.5 840.3,1633.8 846.8,1633.8 846.8,1639.5" fill="none" stroke="#B71B29" stroke-width="1.6" stroke-linejoin="miter"/>
<line x1="838.3" y1="1639.9" x2="848.8" y2="1639.9" stroke="#050303" stroke-width="2"/>
<polyline points="831.1,1647.5 856.5,1647.5" fill="none" stroke="#3a3a3a" stroke-width="1.2" stroke-linejoin="miter"/>
<path d="M856.5 1647.5C857 1647.2 858.6 1646.8 859.5 1645.5C860.4 1644.2 860.9 1643.1 862 1640C863.1 1636.9 864.8 1630.2 866 1627C867.2 1623.8 868.1 1621.4 869 1620.5C869.9 1619.6 870.5 1625.2 871.2 1621.5C871.9 1617.8 872.6 1606.5 873.2 1598C873.9 1589.5 874.4 1573.3 875.1 1570.8C875.8 1568.3 876.6 1577.1 877.2 1583C877.9 1588.9 878.2 1600 879 1606C879.8 1612 880.8 1616.4 881.7 1619C882.6 1621.6 884.1 1621.1 884.6 1621.5" fill="none" stroke="#3a3a3a" stroke-width="1.2" stroke-linejoin="round" stroke-linecap="round"/>
<polyline points="908.6,1648 939.5,1648" fill="none" stroke="#B71B29" stroke-width="1.4" stroke-linejoin="miter"/>
<path d="M939.5 1648C939.6 1645.8 939.8 1640.2 940.4 1634.5C941 1628.8 942.4 1621.8 943.4 1614C944.4 1606.2 945.4 1594.3 946.4 1587.5C947.4 1580.7 948.5 1573.6 949.2 1573C949.9 1572.4 949.9 1581.1 950.6 1584C951.3 1586.9 952.5 1589 953.5 1590.5C954.5 1592 955.8 1593.3 956.6 1592.9C957.4 1592.5 957.9 1592.7 958.5 1588C959.1 1583.3 959.9 1571.7 960.5 1565C961.1 1558.3 961.5 1552.5 962 1548C962.5 1543.5 962.8 1538 963.3 1538C963.8 1538 964.5 1544.3 965 1548C965.5 1551.7 965.9 1556.2 966.5 1560C967.1 1563.8 967.7 1565.6 968.7 1570.6C969.7 1575.6 971.2 1585.8 972.3 1589.9C973.4 1594.1 974.4 1594 975.5 1595.5C976.6 1597 978.3 1598.3 978.9 1598.9" fill="none" stroke="#B71B29" stroke-width="1.4" stroke-linejoin="round" stroke-linecap="round"/>
<polyline points="959.8,1651.8 977.1,1651.8 977.1,1644.6" fill="none" stroke="#555555" stroke-width="1.6" stroke-linejoin="miter"/>
<text transform="translate(979 1651.8) scale(1 1.045)">10 mV</text>
<text transform="translate(904.5 1678) scale(1 1.045)">5 ms</text>
<line x1="804" y1="1733" x2="804" y2="2208.2" stroke="#050303" stroke-width="2.5"/>
<line x1="791.7" y1="2208.2" x2="804" y2="2208.2" stroke="#050303" stroke-width="2.5"/>
<text transform="translate(785.4 2217.5) scale(1 1.045)" text-anchor="end">0</text>
<line x1="791.7" y1="2050.2" x2="804" y2="2050.2" stroke="#050303" stroke-width="2.5"/>
<text transform="translate(785.4 2059.5) scale(1 1.045)" text-anchor="end">500</text>
<line x1="791.7" y1="1892.3" x2="804" y2="1892.3" stroke="#050303" stroke-width="2.5"/>
<text transform="translate(785.4 1901.6) scale(1 1.045)" text-anchor="end">1000</text>
<line x1="791.7" y1="1734.3" x2="804" y2="1734.3" stroke="#050303" stroke-width="2.5"/>
<text transform="translate(785.4 1743.6) scale(1 1.045)" text-anchor="end">1500</text>
<line x1="791.8" y1="2208.2" x2="1122.8" y2="2208.2" stroke="#050303" stroke-width="2.5"/>
<line x1="893.9" y1="2208.2" x2="893.9" y2="2219.7" stroke="#050303" stroke-width="2.5"/>
<line x1="1029.5" y1="2208.2" x2="1029.5" y2="2219.7" stroke="#050303" stroke-width="2.5"/>
<text transform="translate(893.9 2254.5) scale(1 1.045)" text-anchor="middle">WT</text>
<text transform="translate(1029.5 2254.5) scale(1 1.045)" text-anchor="middle">cKO</text>
<text transform="translate(696.4 1971.7) rotate(-90) scale(1 1.045)" text-anchor="middle">AP threshold (pA)</text>
<polyline points="893.6,1749.2 893.6,1736.7 1029.8,1736.7 1029.8,1749.2" fill="none" stroke="#050303" stroke-width="2.5" stroke-linejoin="miter"/>
<text transform="translate(963.4 1744.8) scale(1 1.045)" text-anchor="middle" font-size="41" letter-spacing="3.9" stroke="#211612" stroke-width="0.75" stroke-linejoin="round">**</text>
<circle cx="880" cy="1901.6" r="7.3" fill="#070304"/>
<circle cx="908.4" cy="1891.7" r="7.3" fill="#070304"/>
<circle cx="865.6" cy="1967.8" r="7.3" fill="#070304"/>
<circle cx="893.9" cy="1977.4" r="7.3" fill="#070304"/>
<circle cx="922" cy="1980.8" r="7.3" fill="#070304"/>
<circle cx="865.6" cy="1986.9" r="7.3" fill="#070304"/>
<circle cx="893.9" cy="1996.1" r="7.3" fill="#070304"/>
<circle cx="922" cy="1996.1" r="7.3" fill="#070304"/>
<circle cx="893.9" cy="2012.1" r="7.3" fill="#070304"/>
<circle cx="922" cy="2015" r="7.3" fill="#070304"/>
<circle cx="865.6" cy="2018.4" r="7.3" fill="#070304"/>
<circle cx="1029.5" cy="1784.7" r="7.3" fill="#B71B29"/>
<circle cx="1010.2" cy="1879.3" r="7.3" fill="#B71B29"/>
<circle cx="1029.5" cy="1888.8" r="7.3" fill="#B71B29"/>
<circle cx="991.4" cy="1923.3" r="7.3" fill="#B71B29"/>
<circle cx="1067.1" cy="1927" r="7.3" fill="#B71B29"/>
<circle cx="1010.2" cy="1936.6" r="7.3" fill="#B71B29"/>
<circle cx="1048.3" cy="1942.3" r="7.3" fill="#B71B29"/>
<circle cx="991.4" cy="1945.8" r="7.3" fill="#B71B29"/>
<circle cx="1029.5" cy="1948.7" r="7.3" fill="#B71B29"/>
<circle cx="1067.1" cy="1945.8" r="7.3" fill="#B71B29"/>
<circle cx="1029.5" cy="1977.6" r="7.3" fill="#B71B29"/>
<circle cx="1029.5" cy="1993.5" r="7.3" fill="#B71B29"/>
<line x1="848.2" y1="1977" x2="939.3" y2="1977" stroke="#050303" stroke-width="2.5"/>
<line x1="864.1" y1="1963.7" x2="917.6" y2="1963.7" stroke="#050303" stroke-width="2.5"/>
<line x1="864.1" y1="1990" x2="917.6" y2="1990" stroke="#050303" stroke-width="2.5"/>
<line x1="890.9" y1="1963.7" x2="890.9" y2="1990" stroke="#050303" stroke-width="2.5"/>
<line x1="984.1" y1="1924.1" x2="1075.2" y2="1924.1" stroke="#050303" stroke-width="2.5"/>
<line x1="1005.8" y1="1908.8" x2="1052.1" y2="1908.8" stroke="#050303" stroke-width="2.5"/>
<line x1="1005.8" y1="1940" x2="1052.1" y2="1940" stroke="#050303" stroke-width="2.5"/>
<line x1="1028.9" y1="1908.8" x2="1028.9" y2="1940" stroke="#050303" stroke-width="2.5"/>
<path d="M1249.7 1652.2 1250.2 1652.4 1250.7 1652.5 1251.2 1652 1251.7 1652.5 1252.2 1652.4 1252.7 1652.5 1253.2 1652.4 1253.7 1652.6 1254.2 1652 1254.7 1652.8 1255.2 1652.7 1255.7 1652.1 1256.2 1652.5 1256.7 1652.4 1257.2 1651.8 1257.7 1652.5 1258.2 1652.1 1258.7 1652.2 1259.2 1652.1 1259.7 1652.2 1260.2 1652.3 1260.7 1652.3 1261.2 1651.8 1261.7 1652.2 1262.2 1651.9 1262.7 1651.9 1263.2 1652.2 1263.7 1652.6 1264.2 1652.5 1264.7 1652.1 1265.2 1652.1 1265.7 1652.1 1266.2 1652.3 1266.7 1652.6 1267.2 1652.3 1267.7 1652.5 1268.2 1652.4 1268.7 1652.8 1269.2 1651.7 1269.7 1651.7 1270.2 1652.2 1270.7 1652.5 1271.2 1652.2 1271.7 1652.4 1272.2 1651.9 1272.7 1651.9 1273.2 1652.1 1273.7 1652.6 1274.2 1652.5 1274.7 1652.1 1275.2 1652.4 1275.7 1652.1 1276.2 1652.3 1276.7 1652 1277.2 1652.3 1277.7 1652.1 1278.2 1652.3 1278.7 1652.1 1279.2 1652.1 1279.7 1652.3 1280.2 1652.2 1280.7 1652.3 1281.2 1652.2 1281.7 1652.5 1282.2 1652.1 1282.7 1652.5 1283.2 1652.7 1283.7 1652.2 1284.2 1652.8 1284.7 1652.9 1285.2 1652.4 1285.7 1651.9 1286.2 1651.8 1286.7 1652.2 1287.2 1652.8 1287.7 1652.5 1288.2 1652.5 1288.7 1652.2 1289.2 1652.1 1289.7 1652.4 1290.2 1652 1290.7 1652.2 1291.2 1652.5 1291.7 1652.3 1292.2 1652.5 1292.7 1652.2 1293.2 1652.5 1293.7 1652.4 1294.2 1651.8 1294.7 1652 1295.2 1652.1 1295.7 1652.5 1296.2 1652.4 1296.7 1652.4 1297.2 1652.4 1297.7 1652.5 1298.2 1652.6 1298.7 1652.1 1299.2 1651.8 1299.7 1652.5 1300.2 1652.2 1300.7 1652.3 1301.2 1652.2 1301.7 1652 1302.2 1651.8 1302.7 1652.6 1303.2 1652.6 1303.7 1652.6 1304.2 1652.4 1304.7 1652.4 1305.2 1652.2 1305.7 1652.3 1306.2 1652.2 1306.7 1652.1 1307.2 1652.4 1307.7 1652.8 1308.2 1651.7 1308.7 1652.5 1309.2 1652.5 1309.7 1651.9 1310.2 1652.4 1310.7 1652.3 1311.2 1652.2 1311.7 1652.2 1312.2 1651.9 1312.7 1652.8 1313.2 1653 1313.7 1652.8 1314.2 1652.2 1314.7 1652.4 1315.2 1652.4 1315.7 1652.1 1316.2 1652.2 1316.7 1652.5 1317.2 1652.2 1317.7 1651.8 1318.2 1651.9 1318.7 1652.4 1319.2 1652.2 1319.7 1652.2 1320.2 1652.7 1320.7 1652.3 1321.2 1652.1 1321.7 1652.3 1322.2 1652.9 1322.7 1652 1323.2 1652.8 1323.7 1652.7 1324.2 1652.3 1324.7 1652.2 1325.2 1652.7 1325.7 1652.4 1326.2 1652.1 1326.7 1652.8 1327.2 1652.4 1327.7 1652.4 1328.2 1652.3 1328.7 1652.2 1329.2 1652.3 1329.7 1652.2 1330.2 1652.5 1330.7 1652.6 1331.2 1652.6 1331.7 1652.7 1332.2 1652.7 1332.7 1652.5 1333.2 1652.1 1333.7 1652.6 1334.2 1651.8 1334.7 1652.1 1335.2 1652.4 1335.7 1651.8 1336.2 1652.7 1336.7 1652 1337.2 1651.9 1337.7 1652.1 1338.2 1652.1 1338.7 1652.3 1339.2 1652.3 1339.7 1652.6 1340.2 1652.3 1340.7 1652.4 1341.2 1652 1341.7 1652.4 1342.2 1652.1 1342.7 1651.7 1343.2 1652.7 1343.7 1652 1344.2 1652 1344.7 1652 1345.2 1652.5 1345.7 1651.8 1346.2 1652.2 1346.7 1652.5 1347.2 1652.9 1347.7 1652.2 1348.2 1652.3 1348.7 1652 1349.2 1652.9 1349.7 1652.3 1350.2 1652.3 1350.7 1652.3 1351.2 1652 1351.7 1652.3 1352.2 1651.9 1352.7 1652.7 1353.2 1652.3 1353.7 1652.3 1354.2 1652.7 1354.7 1651.9 1355.2 1652.7 1355.7 1652.8 1356.2 1652.1 1356.7 1652.5 1357.2 1652.3 1357.7 1652.6 1358.2 1652.3 1358.7 1652 1359.2 1652.5 1359.7 1652.2 1360.2 1652.4 1360.7 1652.6 1361.2 1652.7 1361.7 1652.5 1362.2 1651.9 1362.7 1652.5 1363.2 1652.2 1363.7 1652.6 1364.2 1652.2 1364.7 1652.7 1365.2 1652.5 1365.7 1652.3 1366.2 1652.4 1366.7 1651.8 1367.2 1652.5 1367.7 1652.3 1368.2 1652 1368.7 1652.4 1369.2 1652.4 1369.7 1652.4 1370.2 1652.3 1370.7 1652.5 1371.2 1652.5 1371.7 1652.3 1372.2 1652.3 1372.7 1652.2 1373.2 1652.1 1373.7 1652.5 1374.2 1652.1 1374.7 1651.9 1375.2 1652.4 1375.7 1652.6 1376.2 1652.2 1376.7 1652.6 1377.2 1652.4 1377.7 1652 1378.2 1652.4 1378.7 1652.3 1379.2 1652.5 1379.7 1651.5 1380.2 1652.5 1380.7 1652.5 1381.2 1652 1381.7 1652.6 1382.2 1652.3 1382.7 1652.4 1383.2 1652.6 1383.7 1652.7 1384.2 1652.4 1384.7 1652.5 1385.2 1652.4 1385.7 1652.1 1386.2 1652.8 1386.7 1652.5 1387.2 1652.3 1387.7 1652.6 1388.2 1652.5 1388.7 1652.1 1389.2 1652.6 1389.7 1652.3 1390.2 1652.5 1390.7 1652.6 1391.2 1652.6 1391.7 1652.9 1392.2 1652.4 1392.7 1652.3 1393.2 1652.1 1393.7 1652.1 1394.2 1652.5 1394.7 1652.4 1395.2 1652 1395.7 1652.1 1396.2 1652.2 1396.7 1652.8 1397.2 1652 1397.7 1652.4 1398.2 1651.8 1398.7 1652.2 1399.2 1652.7 1399.7 1651.9 1400.2 1652.7 1400.7 1651.7 1401.2 1652.3 1401.7 1652 1402.2 1652.3 1402.7 1652.2 1403.2 1652.6 1403.7 1652.4 1404.2 1652.4 1404.7 1652.1 1405.2 1652.4 1405.7 1652.1 1406.2 1652.1 1406.7 1652.1 1407.2 1652.5 1407.7 1653 1408.2 1652.3 1408.7 1652.9 1409.2 1652 1409.7 1652.1 1410.2 1652.5 1410.7 1652.5 1411.2 1652.5 1411.7 1652.8 1412.2 1652.3 1412.7 1652.6 1413.2 1652.4 1413.7 1651.5 1414.2 1652 1414.7 1652.2 1415.2 1652.3 1415.7 1652.5 1416.2 1652.2 1416.7 1652.7 1417.2 1652 1417.7 1652.3 1418.2 1652.6 1418.7 1652 1419.2 1652.7 1419.7 1652.6 1420.2 1652.3 1420.7 1652.3 1421.2 1652.3 1421.7 1652.3 1422.2 1652.7 1422.7 1652.5 1423.2 1651.9 1423.7 1651.9 1424.2 1652.5 1424.7 1651.5 1425.2 1651.8 1425.7 1652.1 1426.2 1652.3 1426.7 1652.7 1427.2 1652.4 1427.7 1653.4 1428.2 1652.4 1428.7 1652.6 1429.2 1652.6 1429.7 1652.3 1430.2 1652.6 1430.7 1652.5 1431.2 1652.4 1431.7 1652.1 1432.2 1652.2 1432.7 1652.5 1433.2 1652.3 1433.7 1652.4 1434.2 1652.4 1434.7 1652.4 1435.2 1652.3 1435.7 1652.5 1436.2 1652.6 1436.7 1652.7 1437.2 1652.5 1437.7 1652.1 1438.2 1652.1 1438.7 1652.5 1439.2 1651.9 1439.7 1652.2 1440.2 1652.6 1440.7 1652.2 1441.2 1652.1" fill="none" stroke="#3a3a3a" stroke-width="1.3" stroke-linejoin="round"/>
<path d="M1249.7 1652.7 1250.2 1651.5 1250.7 1652.3 1251.2 1652.2 1251.7 1652.2 1252.2 1652.6 1252.7 1652.8 1253.2 1652.6 1253.7 1652.5 1254.2 1652.4 1254.7 1652.2 1255.2 1652.3 1255.7 1651.8 1256.2 1652.2 1256.7 1652.5 1257.2 1652.3 1257.7 1652.6 1258.2 1651.8 1258.7 1652.1 1259.2 1652 1259.7 1652.6 1260.2 1652.2 1260.7 1652.2 1261.2 1651.9 1261.7 1652.2 1262.2 1652 1262.7 1652.1 1263.2 1653 1263.7 1652 1264.2 1652.2 1264.7 1652 1265.2 1652.7 1265.7 1652 1266.2 1652 1266.7 1652.4 1267.2 1652.8 1267.7 1652.4 1268.2 1652.1 1268.7 1651.5 1269.2 1651.2 1269.7 1652.3 1270.2 1652.3 1270.7 1652.7 1271.2 1652.4 1271.7 1652.2 1272.2 1652.7 1272.7 1652.8 1273.2 1652.1 1273.7 1652.6 1274.2 1652.7 1274.7 1652.1 1275.2 1652.5 1275.7 1652.3 1276.2 1652.7 1276.7 1652.6 1277.2 1651.7 1277.7 1652.2 1278.2 1652.7 1278.7 1652.5 1279.2 1652 1279.7 1652.2 1280.2 1652 1280.7 1652.4 1281.2 1651.9 1281.7 1652.7 1282.2 1652.6 1282.7 1652.8 1283.2 1652.6 1283.7 1652.6 1284.2 1652.6 1284.7 1652.5 1285.2 1651.7 1285.7 1652.5 1286.2 1652.1 1286.7 1651.6 1287.2 1652.5 1287.7 1651.5 1288.2 1650.7 1288.7 1650.9 1289.2 1650.7 1289.7 1650.4 1290.2 1650.5 1290.7 1649.6 1291.2 1650.1 1291.7 1649.4 1292.2 1649.7 1292.7 1649.7 1293.2 1649.3 1293.7 1650.1 1294.2 1648.8 1294.7 1648.8 1295.2 1649.1 1295.7 1648.9 1296.2 1649.5 1296.7 1649 1297.2 1649.5 1297.7 1649 1298.2 1649.3 1298.7 1649.3 1299.2 1649.1 1299.7 1649.3 1300.2 1649.2 1300.7 1649.7 1301.2 1649.8 1301.7 1648.9 1302.2 1649.2 1302.7 1649.4 1303.2 1649.2 1303.7 1649.6 1304.2 1649.8 1304.7 1648.4 1305.2 1648.9 1305.7 1649.4 1306.2 1649.2 1306.7 1648.8 1307.2 1648.9 1307.7 1649.1 1308.2 1649.5 1308.7 1648.7 1309.2 1649.1 1309.7 1649.5 1310.2 1649.3 1310.7 1649 1311.2 1648.9 1311.7 1648.5 1312.2 1648.5 1312.7 1648.7 1313.2 1649.3 1313.7 1649.3 1314.2 1649.4 1314.7 1649.3 1315.2 1649.2 1315.7 1649.1 1316.2 1648.8 1316.7 1649.4 1317.2 1648.9 1317.7 1648.5 1318.2 1649.1 1318.7 1649 1319.2 1649.7 1319.7 1648.9 1320.2 1649.1 1320.7 1648.7 1321.2 1649.2 1321.7 1649.1 1322.2 1648.8 1322.7 1649.1 1323.2 1648.6 1323.7 1649.2 1324.2 1648.9 1324.7 1649.1 1325.2 1648.7 1325.7 1648.8 1326.2 1649 1326.7 1649.3 1327.2 1649 1327.7 1648.3 1328.2 1649.2 1328.7 1649 1329.2 1649.2 1329.7 1649.3 1330.2 1649.3 1330.7 1648.8 1331.2 1648.9 1331.7 1649.2 1332.2 1649.3 1332.7 1648.8 1333.2 1648.8 1333.7 1648.7 1334.2 1649.1 1334.7 1648.8 1335.2 1649.7 1335.7 1649.3 1336.2 1649.4 1336.7 1649.2 1337.2 1648.8 1337.7 1648.2 1338.2 1649.4 1338.7 1649.1 1339.2 1648.4 1339.7 1649.9 1340.2 1649.2 1340.7 1649.5 1341.2 1648.9 1341.7 1648.5 1342.2 1648.8 1342.7 1649.2 1343.2 1648.4 1343.7 1648.8 1344.2 1649.3 1344.7 1649.3 1345.2 1649 1345.7 1648.2 1346.2 1648.9 1346.7 1649.4 1347.2 1649.3 1347.7 1648.9 1348.2 1649.1 1348.7 1649.2 1349.2 1648.9 1349.7 1648.8 1350.2 1648.8 1350.7 1648.7 1351.2 1649 1351.7 1649 1352.2 1649.2 1352.7 1649.2 1353.2 1649 1353.7 1648.4 1354.2 1649.2 1354.7 1648.7 1355.2 1649.5 1355.7 1648.9 1356.2 1649.7 1356.7 1649.2 1357.2 1649.5 1357.7 1649.1 1358.2 1649.2 1358.7 1648.9 1359.2 1648.9 1359.7 1648.9 1360.2 1649.2 1360.7 1648.7 1361.2 1649.3 1361.7 1648.9 1362.2 1649.2 1362.7 1648.7 1363.2 1649 1363.7 1648.5 1364.2 1648.8 1364.7 1648.9 1365.2 1648.7 1365.7 1648.9 1366.2 1649 1366.7 1649 1367.2 1648.4 1367.7 1648.9 1368.2 1648.9 1368.7 1648.7 1369.2 1648.7 1369.7 1649.6 1370.2 1649.3 1370.7 1649.3 1371.2 1649.4 1371.7 1648.7 1372.2 1648.9 1372.7 1648.5 1373.2 1649.1 1373.7 1648.4 1374.2 1648.8 1374.7 1649.2 1375.2 1649.2 1375.7 1648.7 1376.2 1648.7 1376.7 1649.4 1377.2 1649.1 1377.7 1648.8 1378.2 1649 1378.7 1649 1379.2 1648.7 1379.7 1648.8 1380.2 1648.4 1380.7 1649.1 1381.2 1649 1381.7 1649.3 1382.2 1649.3 1382.7 1648.9 1383.2 1649.5 1383.7 1648.8 1384.2 1649.3 1384.7 1648.8 1385.2 1648.8 1385.7 1648.6 1386.2 1649 1386.7 1649.7 1387.2 1649 1387.7 1649.1 1388.2 1648.9 1388.7 1649.2 1389.2 1649.2 1389.7 1649.1 1390.2 1649.4 1390.7 1649 1391.2 1649.1 1391.7 1649.5 1392.2 1649.2 1392.7 1648.8 1393.2 1649.4 1393.7 1649.2 1394.2 1648.8 1394.7 1648.8 1395.2 1648.9 1395.7 1649.3 1396.2 1649.1 1396.7 1649.3 1397.2 1649.7 1397.7 1649.5 1398.2 1649 1398.7 1648.8 1399.2 1649.4 1399.7 1648.8 1400.2 1649.6 1400.7 1650.4 1401.2 1651 1401.7 1651.1 1402.2 1651.6 1402.7 1650.9 1403.2 1651.7 1403.7 1652 1404.2 1652.2 1404.7 1652.2 1405.2 1652.1 1405.7 1652.9 1406.2 1652.5 1406.7 1652.4 1407.2 1652.3 1407.7 1652.4 1408.2 1652 1408.7 1652 1409.2 1652.4 1409.7 1651.8 1410.2 1652.5 1410.7 1652.2 1411.2 1652.5 1411.7 1652.3 1412.2 1652.1 1412.7 1652.1 1413.2 1652.2 1413.7 1652.7 1414.2 1652.7 1414.7 1652.2 1415.2 1652.3 1415.7 1652.1 1416.2 1652.7 1416.7 1652.4 1417.2 1652.1 1417.7 1651.9 1418.2 1652.5 1418.7 1652.9 1419.2 1652.3 1419.7 1652 1420.2 1652 1420.7 1652.1 1421.2 1651.6 1421.7 1652.6 1422.2 1652.1 1422.7 1651.8 1423.2 1651.4 1423.7 1652.4 1424.2 1652.4 1424.7 1652.7 1425.2 1652.6 1425.7 1652.2 1426.2 1651.8 1426.7 1652.4 1427.2 1652.1 1427.7 1652.3 1428.2 1651.8 1428.7 1652.2 1429.2 1652.2 1429.7 1651.9 1430.2 1651.8 1430.7 1651.6 1431.2 1652.3 1431.7 1652.7 1432.2 1652.3 1432.7 1651.5 1433.2 1652.3 1433.7 1651.8 1434.2 1652.4 1434.7 1652.8 1435.2 1652.4 1435.7 1651.5 1436.2 1652.6 1436.7 1652.4 1437.2 1652.9 1437.7 1652.4 1438.2 1652.5 1438.7 1651.8 1439.2 1652.7 1439.7 1651.9 1440.2 1651.7 1440.7 1652.5 1441.2 1652.5" fill="none" stroke="#3a3a3a" stroke-width="1.3" stroke-linejoin="round"/>
<path d="M1249.7 1652.7 1250.2 1652.6 1250.7 1652.4 1251.2 1652.4 1251.7 1652.6 1252.2 1652.4 1252.7 1652.4 1253.2 1651.7 1253.7 1652.3 1254.2 1652.2 1254.7 1652.5 1255.2 1652.1 1255.7 1652.6 1256.2 1652.5 1256.7 1652 1257.2 1652.3 1257.7 1652.5 1258.2 1652 1258.7 1651.6 1259.2 1652.2 1259.7 1652.4 1260.2 1652.3 1260.7 1652.6 1261.2 1652.4 1261.7 1652.8 1262.2 1652.1 1262.7 1652.8 1263.2 1652.2 1263.7 1652.5 1264.2 1651.7 1264.7 1652.1 1265.2 1652.7 1265.7 1652.3 1266.2 1652.3 1266.7 1651.9 1267.2 1652.5 1267.7 1652 1268.2 1652.7 1268.7 1652.5 1269.2 1652.1 1269.7 1652.1 1270.2 1652.1 1270.7 1652.4 1271.2 1652.4 1271.7 1651.8 1272.2 1652.4 1272.7 1652 1273.2 1652.9 1273.7 1651.7 1274.2 1652.6 1274.7 1651.9 1275.2 1652.4 1275.7 1652.7 1276.2 1652.4 1276.7 1651.9 1277.2 1651.8 1277.7 1652.7 1278.2 1652.1 1278.7 1652.5 1279.2 1652.7 1279.7 1651.8 1280.2 1652.9 1280.7 1652.3 1281.2 1652.2 1281.7 1652 1282.2 1652.4 1282.7 1652.4 1283.2 1652.6 1283.7 1652.6 1284.2 1652.6 1284.7 1652.3 1285.2 1652.3 1285.7 1652.3 1286.2 1652.4 1286.7 1652.7 1287.2 1651.9 1287.7 1650.5 1288.2 1649.4 1288.7 1648.3 1289.2 1648.2 1289.7 1647.7 1290.2 1646.7 1290.7 1646.7 1291.2 1646.6 1291.7 1646.3 1292.2 1645.6 1292.7 1645.6 1293.2 1645.2 1293.7 1645.7 1294.2 1645.5 1294.7 1646 1295.2 1645 1295.7 1645.6 1296.2 1645.1 1296.7 1645 1297.2 1645.3 1297.7 1644.3 1298.2 1644.5 1298.7 1645.3 1299.2 1645.1 1299.7 1645.4 1300.2 1645 1300.7 1644.6 1301.2 1645 1301.7 1644.6 1302.2 1644.7 1302.7 1644.7 1303.2 1644.5 1303.7 1645.4 1304.2 1644.9 1304.7 1644.8 1305.2 1644.8 1305.7 1644.5 1306.2 1644.6 1306.7 1644.7 1307.2 1644.8 1307.7 1644.1 1308.2 1645.1 1308.7 1644.1 1309.2 1644.4 1309.7 1644.3 1310.2 1644.7 1310.7 1644.2 1311.2 1645 1311.7 1644.9 1312.2 1645 1312.7 1644.9 1313.2 1644.6 1313.7 1644.8 1314.2 1644.4 1314.7 1644.6 1315.2 1644.8 1315.7 1644.3 1316.2 1644.6 1316.7 1644.5 1317.2 1645 1317.7 1644.9 1318.2 1644.6 1318.7 1644.9 1319.2 1645.3 1319.7 1645 1320.2 1644.7 1320.7 1644.7 1321.2 1644.4 1321.7 1644.5 1322.2 1644.8 1322.7 1644.8 1323.2 1644.3 1323.7 1644.3 1324.2 1644.3 1324.7 1644.4 1325.2 1644.5 1325.7 1644.6 1326.2 1644.3 1326.7 1644.5 1327.2 1644.1 1327.7 1644.6 1328.2 1644.8 1328.7 1644.5 1329.2 1644.2 1329.7 1645.4 1330.2 1644.4 1330.7 1644.8 1331.2 1644 1331.7 1644.5 1332.2 1644.7 1332.7 1644.7 1333.2 1644.7 1333.7 1644.7 1334.2 1644.5 1334.7 1644.4 1335.2 1644.6 1335.7 1644.5 1336.2 1644.5 1336.7 1644.8 1337.2 1644.7 1337.7 1644.5 1338.2 1645 1338.7 1644.7 1339.2 1644.6 1339.7 1644.9 1340.2 1644.8 1340.7 1644.2 1341.2 1644.8 1341.7 1644.2 1342.2 1644.6 1342.7 1644.8 1343.2 1644.9 1343.7 1644.4 1344.2 1644.6 1344.7 1644.9 1345.2 1645.3 1345.7 1645.3 1346.2 1644.9 1346.7 1645.2 1347.2 1644.5 1347.7 1644.6 1348.2 1644.9 1348.7 1644.9 1349.2 1644.2 1349.7 1645 1350.2 1644.4 1350.7 1644.7 1351.2 1644.3 1351.7 1644.6 1352.2 1645 1352.7 1644.3 1353.2 1644.5 1353.7 1644.7 1354.2 1644.9 1354.7 1645.2 1355.2 1644.7 1355.7 1645 1356.2 1644.2 1356.7 1644.5 1357.2 1644 1357.7 1645 1358.2 1644.5 1358.7 1644.9 1359.2 1644.4 1359.7 1644.4 1360.2 1644.4 1360.7 1644.5 1361.2 1644.6 1361.7 1644.2 1362.2 1644.7 1362.7 1644.9 1363.2 1644.1 1363.7 1644.2 1364.2 1644.3 1364.7 1644.4 1365.2 1645.2 1365.7 1644.9 1366.2 1644.3 1366.7 1645.5 1367.2 1644.9 1367.7 1644.3 1368.2 1644.2 1368.7 1644.8 1369.2 1644.2 1369.7 1644.7 1370.2 1644.9 1370.7 1644.4 1371.2 1644.5 1371.7 1644.4 1372.2 1645.1 1372.7 1644.9 1373.2 1644.8 1373.7 1644.9 1374.2 1644.7 1374.7 1644.5 1375.2 1644.8 1375.7 1645 1376.2 1644.6 1376.7 1644.6 1377.2 1644.4 1377.7 1645.1 1378.2 1644.9 1378.7 1644.8 1379.2 1644.7 1379.7 1644.8 1380.2 1644.7 1380.7 1645 1381.2 1644.8 1381.7 1644.9 1382.2 1644.7 1382.7 1644.5 1383.2 1645 1383.7 1645.1 1384.2 1645.2 1384.7 1644.6 1385.2 1644.5 1385.7 1644.1 1386.2 1644.7 1386.7 1644.5 1387.2 1645.1 1387.7 1644.4 1388.2 1645 1388.7 1644.3 1389.2 1644.7 1389.7 1645.1 1390.2 1644.6 1390.7 1644.8 1391.2 1644.9 1391.7 1644.3 1392.2 1645.4 1392.7 1644.3 1393.2 1644.6 1393.7 1644.8 1394.2 1644.8 1394.7 1645 1395.2 1645.1 1395.7 1644.3 1396.2 1644.6 1396.7 1644.1 1397.2 1644.8 1397.7 1644.5 1398.2 1644.8 1398.7 1644.2 1399.2 1644.4 1399.7 1644.8 1400.2 1646.8 1400.7 1647.8 1401.2 1648.9 1401.7 1649.6 1402.2 1650.2 1402.7 1650.7 1403.2 1652 1403.7 1651.7 1404.2 1651.2 1404.7 1651.7 1405.2 1651.6 1405.7 1652.1 1406.2 1652.7 1406.7 1652.5 1407.2 1652.2 1407.7 1652.3 1408.2 1652.2 1408.7 1651.9 1409.2 1652.1 1409.7 1652.6 1410.2 1651.8 1410.7 1652.7 1411.2 1653 1411.7 1652.3 1412.2 1652.6 1412.7 1652.4 1413.2 1652.2 1413.7 1651.7 1414.2 1652.1 1414.7 1652.8 1415.2 1652.3 1415.7 1652.2 1416.2 1652.8 1416.7 1652.3 1417.2 1651.7 1417.7 1652.1 1418.2 1652.8 1418.7 1652.6 1419.2 1652.2 1419.7 1652.6 1420.2 1652.3 1420.7 1653 1421.2 1652.5 1421.7 1652.7 1422.2 1652.5 1422.7 1652.6 1423.2 1652.5 1423.7 1652.4 1424.2 1652.2 1424.7 1652.2 1425.2 1652.3 1425.7 1652.6 1426.2 1652.5 1426.7 1652.7 1427.2 1652.3 1427.7 1652.4 1428.2 1651.7 1428.7 1652.1 1429.2 1652.1 1429.7 1652.3 1430.2 1652.4 1430.7 1652.2 1431.2 1652.4 1431.7 1652.2 1432.2 1652.3 1432.7 1652.1 1433.2 1652.4 1433.7 1652.1 1434.2 1652.2 1434.7 1652.1 1435.2 1651.9 1435.7 1652.7 1436.2 1652.1 1436.7 1652.6 1437.2 1652.2 1437.7 1652.3 1438.2 1652.3 1438.7 1652 1439.2 1651.8 1439.7 1652.5 1440.2 1652.4 1440.7 1651.8 1441.2 1652.1" fill="none" stroke="#3a3a3a" stroke-width="1.3" stroke-linejoin="round"/>
<path d="M1249.7 1652.1 1250.2 1652.6 1250.7 1652.5 1251.2 1652.3 1251.7 1652.6 1252.2 1652.4 1252.7 1652.1 1253.2 1651.9 1253.7 1652.6 1254.2 1651.8 1254.7 1652.7 1255.2 1651.8 1255.7 1652.1 1256.2 1652.7 1256.7 1652.6 1257.2 1652.6 1257.7 1651.9 1258.2 1652.2 1258.7 1652.3 1259.2 1652.2 1259.7 1652.1 1260.2 1652.4 1260.7 1652.3 1261.2 1652 1261.7 1652.1 1262.2 1652.2 1262.7 1652.3 1263.2 1652.2 1263.7 1651.8 1264.2 1652.3 1264.7 1652.4 1265.2 1652.8 1265.7 1652.1 1266.2 1652.6 1266.7 1652.1 1267.2 1652.7 1267.7 1652.3 1268.2 1652.3 1268.7 1652.2 1269.2 1652.3 1269.7 1652.4 1270.2 1651.9 1270.7 1652.5 1271.2 1652 1271.7 1652.2 1272.2 1652.6 1272.7 1652.2 1273.2 1652.1 1273.7 1652.8 1274.2 1652.7 1274.7 1652.7 1275.2 1652.6 1275.7 1652.5 1276.2 1652.4 1276.7 1651.9 1277.2 1652 1277.7 1652.1 1278.2 1652.6 1278.7 1653 1279.2 1652.5 1279.7 1652.2 1280.2 1652.7 1280.7 1652.3 1281.2 1652.2 1281.7 1652.3 1282.2 1652.6 1282.7 1652.7 1283.2 1652.4 1283.7 1652 1284.2 1652.6 1284.7 1652.1 1285.2 1652 1285.7 1652.1 1286.2 1652 1286.7 1652.1 1287.2 1651.7 1287.7 1649.3 1288.2 1648.2 1288.7 1646.7 1289.2 1645.9 1289.7 1645.2 1290.2 1644.7 1290.7 1644.1 1291.2 1643.5 1291.7 1642.9 1292.2 1643.2 1292.7 1642.7 1293.2 1642 1293.7 1641.9 1294.2 1641.7 1294.7 1641.6 1295.2 1641.3 1295.7 1641.6 1296.2 1641.6 1296.7 1641.2 1297.2 1641.3 1297.7 1640.9 1298.2 1641.4 1298.7 1640.9 1299.2 1641.1 1299.7 1641.1 1300.2 1640.7 1300.7 1640.4 1301.2 1640.7 1301.7 1640.6 1302.2 1640.7 1302.7 1640.8 1303.2 1640.8 1303.7 1640.7 1304.2 1641.4 1304.7 1640.5 1305.2 1641.1 1305.7 1641 1306.2 1640.6 1306.7 1641.4 1307.2 1641.2 1307.7 1640.9 1308.2 1641 1308.7 1640.8 1309.2 1641 1309.7 1640.7 1310.2 1641.2 1310.7 1641.1 1311.2 1640.7 1311.7 1640.4 1312.2 1641.2 1312.7 1640.9 1313.2 1640.5 1313.7 1641.2 1314.2 1640.9 1314.7 1640.3 1315.2 1641.1 1315.7 1640.5 1316.2 1640.2 1316.7 1640.6 1317.2 1640.7 1317.7 1640.2 1318.2 1641.5 1318.7 1640.9 1319.2 1640.9 1319.7 1640.7 1320.2 1640.9 1320.7 1640.6 1321.2 1640.7 1321.7 1641.2 1322.2 1640.7 1322.7 1640.9 1323.2 1640.7 1323.7 1641.4 1324.2 1641.2 1324.7 1640.9 1325.2 1641 1325.7 1640.9 1326.2 1640.9 1326.7 1641.6 1327.2 1640.1 1327.7 1640.8 1328.2 1640.8 1328.7 1641.1 1329.2 1640.3 1329.7 1640.6 1330.2 1640.9 1330.7 1640.2 1331.2 1641 1331.7 1641.5 1332.2 1640.5 1332.7 1640.2 1333.2 1641 1333.7 1640.7 1334.2 1641.4 1334.7 1640.7 1335.2 1640.6 1335.7 1641.2 1336.2 1641.2 1336.7 1641.1 1337.2 1641.5 1337.7 1641 1338.2 1640.8 1338.7 1640.6 1339.2 1640.8 1339.7 1640.7 1340.2 1640.6 1340.7 1640.5 1341.2 1640.1 1341.7 1640.9 1342.2 1640.9 1342.7 1640.3 1343.2 1641.1 1343.7 1639.9 1344.2 1640.6 1344.7 1640.8 1345.2 1640.7 1345.7 1641 1346.2 1641.2 1346.7 1641.2 1347.2 1640.8 1347.7 1641.3 1348.2 1640.7 1348.7 1640.6 1349.2 1640.6 1349.7 1640.6 1350.2 1640.7 1350.7 1640.4 1351.2 1640.3 1351.7 1641.3 1352.2 1641 1352.7 1641.1 1353.2 1640.9 1353.7 1640.5 1354.2 1641.2 1354.7 1641 1355.2 1640.4 1355.7 1641 1356.2 1640.2 1356.7 1641.1 1357.2 1640.5 1357.7 1641.1 1358.2 1640.5 1358.7 1641.1 1359.2 1640.9 1359.7 1641 1360.2 1640.9 1360.7 1641 1361.2 1641 1361.7 1641 1362.2 1640.1 1362.7 1640.7 1363.2 1640.6 1363.7 1640.7 1364.2 1640.8 1364.7 1641.4 1365.2 1641 1365.7 1640.4 1366.2 1640.7 1366.7 1641.1 1367.2 1640.5 1367.7 1640.9 1368.2 1640.6 1368.7 1640.9 1369.2 1640.7 1369.7 1640.8 1370.2 1640.7 1370.7 1640.5 1371.2 1641.2 1371.7 1640.9 1372.2 1640.8 1372.7 1641.3 1373.2 1640.9 1373.7 1640.8 1374.2 1640.9 1374.7 1640.7 1375.2 1640.6 1375.7 1641.4 1376.2 1640.6 1376.7 1641.2 1377.2 1640.9 1377.7 1640.4 1378.2 1640.7 1378.7 1640.6 1379.2 1640.8 1379.7 1641.1 1380.2 1640.5 1380.7 1640.5 1381.2 1640.4 1381.7 1641.2 1382.2 1640.8 1382.7 1640.9 1383.2 1640.9 1383.7 1640.4 1384.2 1641.3 1384.7 1640.5 1385.2 1640.1 1385.7 1641 1386.2 1640.5 1386.7 1641.1 1387.2 1641 1387.7 1640.8 1388.2 1641 1388.7 1641 1389.2 1640.6 1389.7 1640.6 1390.2 1640.4 1390.7 1640.7 1391.2 1640.6 1391.7 1640.5 1392.2 1640.6 1392.7 1641.6 1393.2 1641 1393.7 1640.4 1394.2 1641.3 1394.7 1640.2 1395.2 1640.8 1395.7 1640.5 1396.2 1640.5 1396.7 1640.6 1397.2 1640.9 1397.7 1641.1 1398.2 1640.2 1398.7 1640.7 1399.2 1640.5 1399.7 1641 1400.2 1643.8 1400.7 1645.3 1401.2 1647 1401.7 1648.3 1402.2 1649.7 1402.7 1650 1403.2 1650.4 1403.7 1650.8 1404.2 1651.1 1404.7 1651.6 1405.2 1652.3 1405.7 1651.3 1406.2 1651.8 1406.7 1652.2 1407.2 1651.4 1407.7 1652.3 1408.2 1652.3 1408.7 1652.2 1409.2 1651.8 1409.7 1652.8 1410.2 1652.3 1410.7 1652.2 1411.2 1652.6 1411.7 1651.8 1412.2 1652 1412.7 1651.7 1413.2 1652.2 1413.7 1652.3 1414.2 1652.2 1414.7 1652.2 1415.2 1652.5 1415.7 1652.1 1416.2 1652.2 1416.7 1651.9 1417.2 1652.5 1417.7 1652.2 1418.2 1652.8 1418.7 1652.1 1419.2 1652.5 1419.7 1652.4 1420.2 1651.9 1420.7 1652.5 1421.2 1652.4 1421.7 1652.6 1422.2 1652.6 1422.7 1652.2 1423.2 1652.8 1423.7 1652.4 1424.2 1652.5 1424.7 1651.7 1425.2 1651.7 1425.7 1651.8 1426.2 1652.3 1426.7 1652.3 1427.2 1652.5 1427.7 1652.3 1428.2 1651.8 1428.7 1652.2 1429.2 1652.7 1429.7 1652.6 1430.2 1651.8 1430.7 1652.2 1431.2 1651.9 1431.7 1652.4 1432.2 1652.6 1432.7 1652.5 1433.2 1652 1433.7 1652.1 1434.2 1652.3 1434.7 1652.8 1435.2 1652.4 1435.7 1652.3 1436.2 1652.3 1436.7 1652.4 1437.2 1652 1437.7 1652 1438.2 1652.1 1438.7 1652.2 1439.2 1652.1 1439.7 1652.5 1440.2 1652.3 1440.7 1652.5 1441.2 1652.1" fill="none" stroke="#3a3a3a" stroke-width="1.3" stroke-linejoin="round"/>
<path d="M1249.7 1651.5 1250.2 1652.1 1250.7 1652.6 1251.2 1652.4 1251.7 1651.5 1252.2 1652.1 1252.7 1652.1 1253.2 1652.2 1253.7 1652.1 1254.2 1652.3 1254.7 1652.1 1255.2 1652.1 1255.7 1652.6 1256.2 1652.4 1256.7 1652.2 1257.2 1651.9 1257.7 1652 1258.2 1652.1 1258.7 1652.4 1259.2 1651.8 1259.7 1652.4 1260.2 1652.7 1260.7 1652.4 1261.2 1651.9 1261.7 1652.6 1262.2 1652.3 1262.7 1652.5 1263.2 1652.6 1263.7 1652.5 1264.2 1652.3 1264.7 1652 1265.2 1653 1265.7 1652.1 1266.2 1652.6 1266.7 1652 1267.2 1652.7 1267.7 1652.9 1268.2 1652.6 1268.7 1652.1 1269.2 1652.2 1269.7 1652.8 1270.2 1652.8 1270.7 1652.5 1271.2 1652.4 1271.7 1652.8 1272.2 1652.5 1272.7 1652.4 1273.2 1652.6 1273.7 1652.4 1274.2 1652.7 1274.7 1652.8 1275.2 1652.5 1275.7 1651.6 1276.2 1652.3 1276.7 1652.2 1277.2 1652 1277.7 1652.2 1278.2 1652.7 1278.7 1651.9 1279.2 1652.2 1279.7 1652.1 1280.2 1651.9 1280.7 1651.9 1281.2 1652.5 1281.7 1651.9 1282.2 1652.9 1282.7 1652.2 1283.2 1652.4 1283.7 1652.5 1284.2 1651.8 1284.7 1652.6 1285.2 1652.4 1285.7 1652.3 1286.2 1652.5 1286.7 1652.4 1287.2 1648.8 1287.7 1642.9 1288.2 1638 1288.7 1633.4 1289.2 1629.7 1289.7 1629.4 1290.2 1628.5 1290.7 1628.3 1291.2 1627.7 1291.7 1627.2 1292.8 1627.2 1293.1 1598.7 1293.7 1627.7 1294.7 1627.1 1295.2 1627.2 1295.7 1627 1296.8 1627 1297.1 1598.7 1297.7 1627.5 1298.7 1627.9 1299.2 1628.4 1299.7 1628.5 1300.2 1629 1300.7 1628.6 1301.2 1628.8 1301.7 1629.6 1302.2 1629 1302.7 1629.6 1303.2 1629.7 1303.7 1629.4 1304.2 1629.8 1304.7 1629.9 1305.2 1630.1 1305.7 1630.1 1306.2 1630.9 1306.7 1630.6 1307.2 1631.2 1307.7 1631.3 1308.2 1630.6 1308.7 1631.5 1309.2 1631.2 1309.7 1631.7 1310.2 1632 1310.7 1632.2 1311.2 1632.2 1311.7 1632 1312.2 1631.9 1312.7 1632.3 1313.2 1632.4 1313.7 1632.4 1314.2 1632.5 1314.7 1632.8 1315.2 1632.6 1315.7 1632.9 1316.2 1633 1316.7 1633.3 1317.2 1632.9 1317.7 1633 1318.2 1633 1318.7 1633.6 1319.2 1633.5 1319.7 1633.4 1320.2 1634.1 1320.7 1633.4 1321.2 1634 1321.7 1633.9 1322.2 1633.7 1322.7 1633.6 1323.2 1633.7 1323.7 1634.3 1324.2 1633.7 1324.7 1634.1 1325.2 1634 1325.7 1634.3 1326.2 1634.1 1326.7 1634.2 1327.2 1634 1327.7 1634.5 1328.2 1634.3 1328.7 1634.6 1329.2 1634.1 1329.7 1634.3 1330.2 1634.6 1330.7 1634.5 1331.2 1634.7 1331.7 1634.6 1332.2 1635.1 1332.7 1635.1 1333.2 1635.3 1333.7 1635.2 1334.2 1635.4 1334.7 1635.4 1335.2 1635.2 1335.7 1635 1336.2 1635.2 1336.7 1635.3 1337.2 1635 1337.7 1635.1 1338.2 1635.6 1338.7 1635.5 1339.2 1635.1 1339.7 1635.1 1340.2 1635.3 1340.7 1634.9 1341.2 1635.8 1341.7 1635.6 1342.2 1635.2 1342.7 1635.5 1343.2 1635.4 1343.7 1636 1344.2 1635.2 1344.7 1635.4 1345.2 1636.1 1345.7 1636.2 1346.2 1636.2 1346.7 1635.8 1347.2 1635.6 1347.7 1635.5 1348.2 1636 1348.7 1635.6 1349.2 1635.8 1349.7 1635.8 1350.2 1636.1 1350.7 1635.7 1351.2 1636.2 1351.7 1635.7 1352.2 1635.8 1352.7 1635.6 1353.2 1636 1353.7 1635.9 1354.2 1636 1354.7 1635.9 1355.2 1636 1355.7 1636.5 1356.2 1636.2 1356.7 1636.3 1357.2 1636 1357.7 1636 1358.2 1636.4 1358.7 1636.9 1359.2 1635.9 1359.7 1636.2 1360.2 1636 1360.7 1636.3 1361.2 1636.2 1361.7 1636 1362.2 1635.7 1362.7 1635.7 1363.2 1636.6 1363.7 1636.2 1364.2 1636.2 1364.7 1636.4 1365.2 1636.2 1365.7 1636.8 1366.2 1636.3 1366.7 1636.5 1367.2 1636.3 1367.7 1635.8 1368.2 1636.4 1368.7 1636.3 1369.2 1636.1 1369.7 1636.7 1370.2 1636.5 1370.7 1636.5 1371.2 1635.9 1371.7 1636.1 1372.2 1635.8 1372.7 1636.5 1373.2 1636.6 1373.7 1636.1 1374.2 1637 1374.7 1636 1375.2 1636.4 1375.7 1635.7 1376.2 1635.7 1376.7 1636.4 1377.2 1636.4 1377.7 1636.9 1378.2 1636.4 1378.7 1636.7 1379.2 1636.1 1379.7 1636.5 1380.2 1636.8 1380.7 1636.4 1381.2 1636.8 1381.7 1636.7 1382.2 1636.5 1382.7 1636.1 1383.2 1636.2 1383.7 1635.9 1384.2 1636.7 1384.7 1636.9 1385.2 1636.5 1385.7 1636.5 1386.2 1635.8 1386.7 1636.7 1387.2 1636 1387.7 1636.2 1388.2 1637 1388.7 1636.6 1389.2 1636.2 1389.7 1636.2 1390.2 1636.5 1390.7 1636.8 1391.2 1636.5 1391.7 1636.5 1392.2 1636.6 1392.7 1636.6 1393.2 1636 1393.7 1635.9 1394.2 1636.8 1394.7 1636.2 1395.2 1635.8 1395.7 1636.3 1396.2 1636.4 1396.7 1636.3 1397.2 1636.8 1397.7 1636.1 1398.2 1636.4 1398.7 1636 1399.2 1637.1 1399.7 1636.1 1400.2 1639.8 1400.7 1643.4 1401.2 1645.5 1401.7 1646.7 1402.2 1648.5 1402.7 1649.5 1403.2 1649.9 1403.7 1650.8 1404.2 1651.3 1404.7 1651.5 1405.2 1651.4 1405.7 1651.7 1406.2 1651.7 1406.7 1651.9 1407.2 1652 1407.7 1652 1408.2 1652.1 1408.7 1652.1 1409.2 1652.2 1409.7 1652.4 1410.2 1651.9 1410.7 1652 1411.2 1652.1 1411.7 1652 1412.2 1652.4 1412.7 1652.4 1413.2 1652.3 1413.7 1652.2 1414.2 1652.5 1414.7 1652.5 1415.2 1652.6 1415.7 1652.2 1416.2 1652.3 1416.7 1651.8 1417.2 1652.2 1417.7 1652.9 1418.2 1652.1 1418.7 1652.6 1419.2 1652.5 1419.7 1652 1420.2 1651.8 1420.7 1652.1 1421.2 1652.7 1421.7 1652.6 1422.2 1652.5 1422.7 1652.2 1423.2 1652.5 1423.7 1652 1424.2 1652.6 1424.7 1652.4 1425.2 1652.5 1425.7 1653.2 1426.2 1653.1 1426.7 1652 1427.2 1652.4 1427.7 1652.3 1428.2 1652.4 1428.7 1653 1429.2 1652 1429.7 1652.3 1430.2 1652.7 1430.7 1652.1 1431.2 1652.8 1431.7 1652.3 1432.2 1652.3 1432.7 1652.5 1433.2 1652.2 1433.7 1652.6 1434.2 1652.8 1434.7 1651.6 1435.2 1652.6 1435.7 1651.7 1436.2 1651.8 1436.7 1652.6 1437.2 1652.4 1437.7 1652.4 1438.2 1652 1438.7 1652.1 1439.2 1652.2 1439.7 1651.8 1440.2 1652.5 1440.7 1652.2 1441.2 1652.5" fill="none" stroke="#3a3a3a" stroke-width="1.3" stroke-linejoin="round"/>
<path d="M1454.7 1653.3 1455.2 1653.2 1455.7 1653 1456.2 1653.2 1456.7 1652.8 1457.2 1652.5 1457.7 1653.5 1458.2 1653.1 1458.7 1652.4 1459.2 1652.7 1459.7 1652.8 1460.2 1653.1 1460.7 1653.4 1461.2 1653.1 1461.7 1652.9 1462.2 1653.1 1462.7 1652.9 1463.2 1653.1 1463.7 1652.8 1464.2 1652.6 1464.7 1653.4 1465.2 1652.9 1465.7 1653 1466.2 1652.8 1466.7 1652.8 1467.2 1652.9 1467.7 1653.2 1468.2 1653.4 1468.7 1653.2 1469.2 1652.8 1469.7 1653.8 1470.2 1653.3 1470.7 1653.3 1471.2 1652.8 1471.7 1652.9 1472.2 1653.2 1472.7 1652.5 1473.2 1652.8 1473.7 1653.1 1474.2 1653.7 1474.7 1653.1 1475.2 1652.7 1475.7 1652.6 1476.2 1653.3 1476.7 1652.8 1477.2 1652.9 1477.7 1653.6 1478.2 1653 1478.7 1652.9 1479.2 1652.8 1479.7 1653.4 1480.2 1653.4 1480.7 1652.8 1481.2 1652.6 1481.7 1653 1482.2 1653.4 1482.7 1653.1 1483.2 1652.6 1483.7 1653.1 1484.2 1653.2 1484.7 1653 1485.2 1653 1485.7 1653 1486.2 1652.8 1486.7 1652.8 1487.2 1652.6 1487.7 1652.6 1488.2 1652.5 1488.7 1653.1 1489.2 1653.1 1489.7 1653 1490.2 1653.1 1490.7 1653 1491.2 1652.8 1491.7 1653.1 1492.2 1652.9 1492.7 1652.9 1493.2 1652.4 1493.7 1652.8 1494.2 1653.1 1494.7 1652.9 1495.2 1652.7 1495.7 1652.5 1496.2 1652.8 1496.7 1653.4 1497.2 1652.8 1497.7 1653.3 1498.2 1652.8 1498.7 1653.3 1499.2 1652.8 1499.7 1653.1 1500.2 1653.2 1500.7 1653.2 1501.2 1652.7 1501.7 1652.9 1502.2 1652.7 1502.7 1653 1503.2 1652.9 1503.7 1652.9 1504.2 1653.2 1504.7 1652.7 1505.2 1652.8 1505.7 1652.8 1506.2 1652.9 1506.7 1652.8 1507.2 1653.2 1507.7 1652.7 1508.2 1653.5 1508.7 1653 1509.2 1653.4 1509.7 1652.7 1510.2 1652.9 1510.7 1653 1511.2 1653.5 1511.7 1653 1512.2 1653.5 1512.7 1652.8 1513.2 1653.5 1513.7 1652.8 1514.2 1652.5 1514.7 1652.4 1515.2 1653.1 1515.7 1652.9 1516.2 1653.1 1516.7 1653 1517.2 1653.2 1517.7 1653.5 1518.2 1652.9 1518.7 1653.1 1519.2 1652.9 1519.7 1652.5 1520.2 1652.9 1520.7 1653.5 1521.2 1652.8 1521.7 1653.7 1522.2 1653.2 1522.7 1653.2 1523.2 1653.3 1523.7 1653 1524.2 1653 1524.7 1653.4 1525.2 1652.8 1525.7 1653 1526.2 1652.7 1526.7 1653.1 1527.2 1653.9 1527.7 1653.4 1528.2 1652.7 1528.7 1652.5 1529.2 1653.2 1529.7 1653.2 1530.2 1652.8 1530.7 1653.4 1531.2 1653.2 1531.7 1653.2 1532.2 1653.3 1532.7 1653.4 1533.2 1652.9 1533.7 1652.8 1534.2 1653.4 1534.7 1653 1535.2 1652.7 1535.7 1653.1 1536.2 1652.9 1536.7 1653.1 1537.2 1654 1537.7 1653.6 1538.2 1652.9 1538.7 1652.7 1539.2 1653 1539.7 1652.7 1540.2 1653.1 1540.7 1653.1 1541.2 1653.2 1541.7 1653 1542.2 1652.6 1542.7 1653 1543.2 1653.1 1543.7 1653.1 1544.2 1653.4 1544.7 1652.7 1545.2 1653 1545.7 1652.9 1546.2 1652.8 1546.7 1653.2 1547.2 1652.8 1547.7 1653.6 1548.2 1652.3 1548.7 1653.5 1549.2 1653 1549.7 1652.7 1550.2 1653.1 1550.7 1653.1 1551.2 1653.3 1551.7 1653.4 1552.2 1652.8 1552.7 1653 1553.2 1653.1 1553.7 1653.1 1554.2 1652.9 1554.7 1653.4 1555.2 1653.1 1555.7 1652.6 1556.2 1653.1 1556.7 1652.9 1557.2 1652.9 1557.7 1653.3 1558.2 1653.2 1558.7 1653.1 1559.2 1653.1 1559.7 1653.3 1560.2 1652.8 1560.7 1653 1561.2 1653.4 1561.7 1652.8 1562.2 1652.9 1562.7 1652.8 1563.2 1653.3 1563.7 1652.9 1564.2 1653.3 1564.7 1652.9 1565.2 1653.1 1565.7 1653.1 1566.2 1652.9 1566.7 1652.7 1567.2 1653.3 1567.7 1652.9 1568.2 1653.2 1568.7 1653.2 1569.2 1652.6 1569.7 1653.4 1570.2 1653 1570.7 1652.9 1571.2 1652.9 1571.7 1652.9 1572.2 1653.1 1572.7 1653.6 1573.2 1653 1573.7 1652.7 1574.2 1652.9 1574.7 1653.6 1575.2 1653 1575.7 1653.6 1576.2 1652.8 1576.7 1652.8 1577.2 1652.7 1577.7 1652.7 1578.2 1653 1578.7 1653 1579.2 1652.5 1579.7 1652.7 1580.2 1652.8 1580.7 1652.9 1581.2 1653.4 1581.7 1653.4 1582.2 1653.1 1582.7 1653.2 1583.2 1652.7 1583.7 1653.1 1584.2 1652.5 1584.7 1653 1585.2 1653.1 1585.7 1653.2 1586.2 1652.9 1586.7 1652.9 1587.2 1652.7 1587.7 1652.3 1588.2 1652.8 1588.7 1652.4 1589.2 1652.8 1589.7 1652.9 1590.2 1652.5 1590.7 1652.4 1591.2 1652.9 1591.7 1652.8 1592.2 1653.1 1592.7 1653.2 1593.2 1653.4 1593.7 1653.2 1594.2 1652.7 1594.7 1652.9 1595.2 1653.6 1595.7 1652.7 1596.2 1652.8 1596.7 1653.4 1597.2 1653.1 1597.7 1652.8 1598.2 1653.1 1598.7 1652.8 1599.2 1653.2 1599.7 1652.9 1600.2 1653 1600.7 1653 1601.2 1652.4 1601.7 1652.9 1602.2 1653.1 1602.7 1653 1603.2 1652.8 1603.7 1653 1604.2 1653.4 1604.7 1653.2 1605.2 1652.8 1605.7 1653.3 1606.2 1653.1 1606.7 1652.8 1607.2 1652.4 1607.7 1653.2 1608.2 1652.6 1608.7 1653.1 1609.2 1653.3 1609.7 1653.2 1610.2 1652.6 1610.7 1652.7 1611.2 1653.2 1611.7 1653.3 1612.2 1653 1612.7 1652.9 1613.2 1653.5 1613.7 1653.5 1614.2 1653.1 1614.7 1652.9 1615.2 1653.2 1615.7 1652.6 1616.2 1653.1 1616.7 1653.1 1617.2 1653.4 1617.7 1653.2 1618.2 1652.5 1618.7 1653.6 1619.2 1653.2 1619.7 1652.4 1620.2 1652.5 1620.7 1653.2 1621.2 1652.6 1621.7 1653.3 1622.2 1652.7 1622.7 1652.5 1623.2 1653.5 1623.7 1653.5 1624.2 1652.9 1624.7 1653.5 1625.2 1653.1 1625.7 1653.2 1626.2 1653 1626.7 1653.2 1627.2 1653.5 1627.7 1653.5 1628.2 1653.7 1628.7 1653.6 1629.2 1653.2 1629.7 1652.9 1630.2 1653.3 1630.7 1653.2 1631.2 1652.9 1631.7 1652.7 1632.2 1652.8 1632.7 1652.6 1633.2 1652.8 1633.7 1653.1 1634.2 1653.4 1634.7 1653.1 1635.2 1652.9 1635.7 1652.9 1636.2 1653 1636.7 1653.4 1637.2 1653.1 1637.7 1652.5 1638.2 1653 1638.7 1652.5 1639.2 1652.8 1639.7 1653.1 1640.2 1652.8 1640.7 1653 1641.2 1653.4 1641.7 1652.8 1642.2 1653.4 1642.7 1653.3 1643.2 1653.2 1643.7 1652.8 1644.2 1653.4 1644.7 1653.1 1645.2 1653.3 1645.7 1653 1646.2 1653.4 1646.7 1652.6 1647.2 1653.2 1647.7 1653.3 1648.2 1653.9 1648.7 1652.6 1649.2 1652.7 1649.7 1653 1650.2 1653.1 1650.7 1652.8 1651.2 1653.2 1651.7 1653 1652.2 1653.1 1652.7 1652.6" fill="none" stroke="#B71B29" stroke-width="1.3" stroke-linejoin="round"/>
<path d="M1454.7 1653.1 1455.2 1653 1455.7 1653.5 1456.2 1653.3 1456.7 1653.5 1457.2 1653.1 1457.7 1652.8 1458.2 1653.2 1458.7 1652.6 1459.2 1652.6 1459.7 1652.8 1460.2 1653.2 1460.7 1653.3 1461.2 1652.5 1461.7 1652.9 1462.2 1653.4 1462.7 1652.9 1463.2 1652.5 1463.7 1653 1464.2 1653.4 1464.7 1652.8 1465.2 1652.8 1465.7 1653.6 1466.2 1653.2 1466.7 1652.7 1467.2 1653.3 1467.7 1653.4 1468.2 1652.9 1468.7 1653.1 1469.2 1653.3 1469.7 1653.1 1470.2 1653.5 1470.7 1653.4 1471.2 1653.3 1471.7 1653.5 1472.2 1652.9 1472.7 1652.8 1473.2 1652.6 1473.7 1652.9 1474.2 1652.7 1474.7 1653 1475.2 1653.3 1475.7 1653.5 1476.2 1653.3 1476.7 1653.2 1477.2 1653.1 1477.7 1653.2 1478.2 1652.9 1478.7 1652.9 1479.2 1652.7 1479.7 1653 1480.2 1653.2 1480.7 1653 1481.2 1653.1 1481.7 1653.6 1482.2 1653.2 1482.7 1653.2 1483.2 1653.1 1483.7 1653.2 1484.2 1652.7 1484.7 1653.2 1485.2 1653.2 1485.7 1653.3 1486.2 1652.6 1486.7 1653 1487.2 1653.4 1487.7 1653.2 1488.2 1652.6 1488.7 1652.8 1489.2 1652.7 1489.7 1653.1 1490.2 1653.3 1490.7 1652.9 1491.2 1652.5 1491.7 1653 1492.2 1652.4 1492.7 1653 1493.2 1651.8 1493.7 1651.3 1494.2 1650.8 1494.7 1650.7 1495.2 1650.5 1495.7 1650.3 1496.2 1649.9 1496.7 1649.7 1497.2 1649.9 1497.7 1649.9 1498.2 1649.4 1498.7 1649.4 1499.2 1649.4 1499.7 1649 1500.2 1648.9 1500.7 1648.6 1501.2 1648.8 1501.7 1649.4 1502.2 1648.7 1502.7 1648.5 1503.2 1648.8 1503.7 1648.9 1504.2 1648.9 1504.7 1648.5 1505.2 1648.9 1505.7 1648.6 1506.2 1648.6 1506.7 1648.7 1507.2 1648.5 1507.7 1648.6 1508.2 1648.9 1508.7 1648.4 1509.2 1648.6 1509.7 1648.9 1510.2 1648.8 1510.7 1648.8 1511.2 1648.4 1511.7 1648.3 1512.2 1648.6 1512.7 1648.5 1513.2 1648.2 1513.7 1648.7 1514.2 1648.8 1514.7 1649.1 1515.2 1648.7 1515.7 1648.6 1516.2 1648.5 1516.7 1648.8 1517.2 1648.6 1517.7 1649.3 1518.2 1648.5 1518.7 1649.1 1519.2 1648.7 1519.7 1648.4 1520.2 1648.8 1520.7 1648.8 1521.2 1649.2 1521.7 1648.9 1522.2 1648.7 1522.7 1648.6 1523.2 1648.5 1523.7 1648.7 1524.2 1648.8 1524.7 1648.5 1525.2 1648.5 1525.7 1648.8 1526.2 1648.5 1526.7 1648.7 1527.2 1648.6 1527.7 1648.5 1528.2 1649.1 1528.7 1649 1529.2 1648.7 1529.7 1648.4 1530.2 1648.8 1530.7 1648.7 1531.2 1648.7 1531.7 1648.7 1532.2 1648.6 1532.7 1649.4 1533.2 1648.9 1533.7 1648.7 1534.2 1648.8 1534.7 1648.6 1535.2 1648.5 1535.7 1648.5 1536.2 1648.8 1536.7 1649.1 1537.2 1649.1 1537.7 1648.8 1538.2 1648.8 1538.7 1648.2 1539.2 1648.2 1539.7 1648.6 1540.2 1649 1540.7 1649.1 1541.2 1648.7 1541.7 1648.4 1542.2 1648.6 1542.7 1648.7 1543.2 1648.4 1543.7 1648.6 1544.2 1649 1544.7 1648.5 1545.2 1648.7 1545.7 1649.3 1546.2 1648.9 1546.7 1648.9 1547.2 1648.6 1547.7 1649 1548.2 1648.3 1548.7 1649.1 1549.2 1648.7 1549.7 1648.5 1550.2 1648.5 1550.7 1648.6 1551.2 1648 1551.7 1648.6 1552.2 1648.7 1552.7 1648.3 1553.2 1648.7 1553.7 1649 1554.2 1648.2 1554.7 1648.4 1555.2 1648.8 1555.7 1649.3 1556.2 1648.5 1556.7 1648.7 1557.2 1648.5 1557.7 1648.7 1558.2 1648.8 1558.7 1648.5 1559.2 1648.9 1559.7 1649.7 1560.2 1649.2 1560.7 1648.7 1561.2 1648.8 1561.7 1648.3 1562.2 1648.6 1562.7 1648.5 1563.2 1648.4 1563.7 1648.1 1564.2 1649.1 1564.7 1648.8 1565.2 1648.3 1565.7 1648.9 1566.2 1648.9 1566.7 1648.3 1567.2 1649 1567.7 1648 1568.2 1648.9 1568.7 1648.3 1569.2 1648.8 1569.7 1648.1 1570.2 1648.7 1570.7 1649 1571.2 1649 1571.7 1648.7 1572.2 1648.7 1572.7 1648.4 1573.2 1648.5 1573.7 1648.7 1574.2 1648.3 1574.7 1648.7 1575.2 1648.6 1575.7 1648.8 1576.2 1648.9 1576.7 1648.6 1577.2 1648.4 1577.7 1648.8 1578.2 1648.5 1578.7 1648.6 1579.2 1648.7 1579.7 1648.3 1580.2 1648.9 1580.7 1648.3 1581.2 1648.7 1581.7 1648.9 1582.2 1648.9 1582.7 1648.8 1583.2 1649.2 1583.7 1648.7 1584.2 1648.8 1584.7 1649 1585.2 1648.3 1585.7 1648.6 1586.2 1649 1586.7 1648.9 1587.2 1648.6 1587.7 1648.9 1588.2 1648.9 1588.7 1648.8 1589.2 1649.1 1589.7 1648.4 1590.2 1648.9 1590.7 1648.7 1591.2 1648.7 1591.7 1648.2 1592.2 1649.4 1592.7 1648 1593.2 1648.7 1593.7 1648.6 1594.2 1649.2 1594.7 1648.5 1595.2 1648.6 1595.7 1648.8 1596.2 1648.9 1596.7 1649 1597.2 1648.9 1597.7 1648.1 1598.2 1648.5 1598.7 1648.9 1599.2 1648.9 1599.7 1649 1600.2 1648.5 1600.7 1648.7 1601.2 1648.8 1601.7 1649 1602.2 1649.1 1602.7 1648.7 1603.2 1649.1 1603.7 1648.8 1604.2 1648.9 1604.7 1648.3 1605.2 1648.4 1605.7 1649.1 1606.2 1648.6 1606.7 1649.2 1607.2 1649.1 1607.7 1648.3 1608.2 1648.7 1608.7 1649 1609.2 1649.8 1609.7 1650 1610.2 1651.3 1610.7 1651.6 1611.2 1651.5 1611.7 1652.1 1612.2 1652.2 1612.7 1653.2 1613.2 1652.8 1613.7 1652.5 1614.2 1652.8 1614.7 1652.3 1615.2 1653.1 1615.7 1652.9 1616.2 1653.3 1616.7 1652.9 1617.2 1653.4 1617.7 1653.4 1618.2 1652.6 1618.7 1652.9 1619.2 1653 1619.7 1653 1620.2 1652.7 1620.7 1652.9 1621.2 1653 1621.7 1653.2 1622.2 1652.9 1622.7 1653.1 1623.2 1653.4 1623.7 1653.2 1624.2 1652.9 1624.7 1652.7 1625.2 1653 1625.7 1652.7 1626.2 1653.2 1626.7 1652.9 1627.2 1652.5 1627.7 1653.2 1628.2 1652.7 1628.7 1653.1 1629.2 1653 1629.7 1653.1 1630.2 1652.4 1630.7 1652.8 1631.2 1652.9 1631.7 1653.7 1632.2 1653.3 1632.7 1653.1 1633.2 1653.4 1633.7 1653 1634.2 1653 1634.7 1652.8 1635.2 1653.1 1635.7 1652.3 1636.2 1652.5 1636.7 1653.3 1637.2 1653.3 1637.7 1653.1 1638.2 1652.9 1638.7 1653.5 1639.2 1653.3 1639.7 1652.7 1640.2 1653.1 1640.7 1653.3 1641.2 1652.9 1641.7 1652.4 1642.2 1652.9 1642.7 1653.1 1643.2 1653.2 1643.7 1652.8 1644.2 1653.1 1644.7 1653 1645.2 1653.2 1645.7 1652.6 1646.2 1652.8 1646.7 1653.2 1647.2 1653.3 1647.7 1653 1648.2 1653.2 1648.7 1653.1 1649.2 1652.8 1649.7 1653.5 1650.2 1652.8 1650.7 1652.7 1651.2 1653 1651.7 1653.2 1652.2 1653.1 1652.7 1652.8" fill="none" stroke="#B71B29" stroke-width="1.3" stroke-linejoin="round"/>
<path d="M1454.7 1652.6 1455.2 1653.1 1455.7 1653.1 1456.2 1652.7 1456.7 1652.8 1457.2 1653.4 1457.7 1653.3 1458.2 1652.3 1458.7 1652.8 1459.2 1653.4 1459.7 1652.8 1460.2 1652.4 1460.7 1652.6 1461.2 1653.3 1461.7 1652.7 1462.2 1653.2 1462.7 1652.6 1463.2 1653.3 1463.7 1652.9 1464.2 1653.1 1464.7 1653 1465.2 1652.8 1465.7 1652.2 1466.2 1653.3 1466.7 1653.3 1467.2 1653.2 1467.7 1653.3 1468.2 1652.8 1468.7 1653.1 1469.2 1652.5 1469.7 1652.5 1470.2 1653 1470.7 1652.4 1471.2 1653.2 1471.7 1652.9 1472.2 1653 1472.7 1652.7 1473.2 1653.1 1473.7 1653.2 1474.2 1652.6 1474.7 1652.7 1475.2 1653.1 1475.7 1652.6 1476.2 1653.1 1476.7 1652.7 1477.2 1652.8 1477.7 1653.1 1478.2 1653.2 1478.7 1652.6 1479.2 1653.5 1479.7 1652.8 1480.2 1652.8 1480.7 1653.2 1481.2 1653 1481.7 1653.5 1482.2 1652.8 1482.7 1652.4 1483.2 1652.3 1483.7 1652.8 1484.2 1653 1484.7 1653.1 1485.2 1653.2 1485.7 1653.3 1486.2 1652.9 1486.7 1652.8 1487.2 1653.9 1487.7 1653.7 1488.2 1652.9 1488.7 1653.1 1489.2 1652.9 1489.7 1653.6 1490.2 1653.4 1490.7 1652.4 1491.2 1653 1491.7 1652.8 1492.2 1653.1 1492.7 1652.2 1493.2 1651 1493.7 1649.5 1494.2 1649 1494.7 1647.7 1495.2 1647.5 1495.7 1646.1 1496.2 1646.2 1496.7 1645.7 1497.2 1645.2 1497.7 1644.8 1498.2 1644.3 1498.7 1644.2 1499.2 1643.8 1499.7 1644.3 1500.2 1644 1500.7 1643.9 1501.2 1643.9 1501.7 1643.2 1502.2 1643.3 1502.7 1643.3 1503.2 1643.1 1503.7 1643 1504.2 1642.9 1504.7 1643.1 1505.2 1643.9 1505.7 1643.3 1506.2 1643.3 1506.7 1643.3 1507.2 1642.8 1507.7 1643.2 1508.2 1643.1 1508.7 1643.1 1509.2 1642.9 1509.7 1643.7 1510.2 1642.6 1510.7 1643 1511.2 1642.9 1511.7 1642.9 1512.2 1643.5 1512.7 1643.5 1513.2 1643.2 1513.7 1642.7 1514.2 1643.3 1514.7 1643 1515.2 1642.5 1515.7 1643.2 1516.2 1643 1516.7 1643 1517.2 1643.3 1517.7 1643.5 1518.2 1642.7 1518.7 1643.1 1519.2 1643.2 1519.7 1643.1 1520.2 1643 1520.7 1643.5 1521.2 1642.8 1521.7 1643 1522.2 1643.6 1522.7 1643.1 1523.2 1643.3 1523.7 1643.7 1524.2 1642.9 1524.7 1642.6 1525.2 1642.2 1525.7 1643 1526.2 1643.1 1526.7 1642.9 1527.2 1643.3 1527.7 1643.5 1528.2 1643.2 1528.7 1642.9 1529.2 1642.6 1529.7 1643.1 1530.2 1643.1 1530.7 1643.4 1531.2 1642.7 1531.7 1642.8 1532.2 1642.4 1532.7 1642.9 1533.2 1643.3 1533.7 1643.4 1534.2 1643 1534.7 1642.7 1535.2 1643.2 1535.7 1642.8 1536.2 1642.8 1536.7 1643.8 1537.2 1642.8 1537.7 1643.1 1538.2 1643 1538.7 1643.3 1539.2 1642.8 1539.7 1642.9 1540.2 1643.4 1540.7 1642.8 1541.2 1642.8 1541.7 1642.8 1542.2 1642.6 1542.7 1642.4 1543.2 1643.2 1543.7 1642.7 1544.2 1642.8 1544.7 1643.3 1545.2 1643.2 1545.7 1642.7 1546.2 1643.3 1546.7 1643.1 1547.2 1642.8 1547.7 1643.7 1548.2 1642.9 1548.7 1643 1549.2 1643.2 1549.7 1643.1 1550.2 1643.1 1550.7 1643 1551.2 1643 1551.7 1643.2 1552.2 1642.9 1552.7 1643 1553.2 1643.3 1553.7 1643.3 1554.2 1643 1554.7 1642.9 1555.2 1643.6 1555.7 1642.6 1556.2 1643.2 1556.7 1643.2 1557.2 1642.6 1557.7 1642.7 1558.2 1643.5 1558.7 1643.3 1559.2 1643 1559.7 1643.1 1560.2 1643.2 1560.7 1642.7 1561.2 1643.4 1561.7 1642.5 1562.2 1643.1 1562.7 1642.9 1563.2 1642.8 1563.7 1643.2 1564.2 1642.9 1564.7 1643.5 1565.2 1643.5 1565.7 1643.6 1566.2 1643.3 1566.7 1642.8 1567.2 1643.3 1567.7 1642.5 1568.2 1643.7 1568.7 1643.3 1569.2 1643.2 1569.7 1642.4 1570.2 1643.4 1570.7 1643 1571.2 1643.1 1571.7 1642.8 1572.2 1642.2 1572.7 1642.9 1573.2 1643.2 1573.7 1642.9 1574.2 1643.3 1574.7 1643.5 1575.2 1643 1575.7 1643.4 1576.2 1642.9 1576.7 1642.9 1577.2 1642.9 1577.7 1643 1578.2 1643.4 1578.7 1643 1579.2 1642.9 1579.7 1643.2 1580.2 1642.6 1580.7 1642.8 1581.2 1643.4 1581.7 1643.5 1582.2 1643.5 1582.7 1642.8 1583.2 1643.1 1583.7 1643.1 1584.2 1643.4 1584.7 1643.3 1585.2 1642.9 1585.7 1642.6 1586.2 1643.1 1586.7 1642.8 1587.2 1643.7 1587.7 1643.2 1588.2 1643.8 1588.7 1643.4 1589.2 1643 1589.7 1642.9 1590.2 1642.4 1590.7 1643.3 1591.2 1643.7 1591.7 1643 1592.2 1643.1 1592.7 1642.8 1593.2 1642.9 1593.7 1643.4 1594.2 1643.5 1594.7 1642.8 1595.2 1643.2 1595.7 1642.3 1596.2 1642.9 1596.7 1643 1597.2 1643.5 1597.7 1643 1598.2 1643.7 1598.7 1643.1 1599.2 1643 1599.7 1643 1600.2 1643.1 1600.7 1642.6 1601.2 1643.1 1601.7 1643.2 1602.2 1643.5 1602.7 1643.3 1603.2 1643 1603.7 1643.4 1604.2 1642.6 1604.7 1643 1605.2 1643.3 1605.7 1643.1 1606.2 1643.1 1606.7 1642.8 1607.2 1642.6 1607.7 1643.1 1608.2 1643.4 1608.7 1643.5 1609.2 1646 1609.7 1647.9 1610.2 1648.5 1610.7 1650.2 1611.2 1650.6 1611.7 1650.9 1612.2 1651.8 1612.7 1652.1 1613.2 1651.9 1613.7 1652.5 1614.2 1652.3 1614.7 1652.8 1615.2 1652.5 1615.7 1652.6 1616.2 1652.8 1616.7 1652.5 1617.2 1653 1617.7 1652.8 1618.2 1653.4 1618.7 1653 1619.2 1652.9 1619.7 1652.7 1620.2 1652.9 1620.7 1652.9 1621.2 1652.6 1621.7 1653 1622.2 1653.2 1622.7 1652.7 1623.2 1653.1 1623.7 1653.1 1624.2 1652.9 1624.7 1652.5 1625.2 1652.9 1625.7 1652.8 1626.2 1652.7 1626.7 1652.7 1627.2 1653.4 1627.7 1652.9 1628.2 1652.9 1628.7 1652.7 1629.2 1653.1 1629.7 1653.1 1630.2 1652.9 1630.7 1653 1631.2 1652.6 1631.7 1653.1 1632.2 1653 1632.7 1653.1 1633.2 1652.9 1633.7 1652.9 1634.2 1653.1 1634.7 1653 1635.2 1652.6 1635.7 1652.9 1636.2 1653.7 1636.7 1653 1637.2 1653.1 1637.7 1653.1 1638.2 1653.1 1638.7 1653 1639.2 1652.9 1639.7 1653.1 1640.2 1653 1640.7 1653 1641.2 1653.3 1641.7 1652.8 1642.2 1652.8 1642.7 1652.8 1643.2 1652.4 1643.7 1653.2 1644.2 1653 1644.7 1652.6 1645.2 1653.2 1645.7 1653 1646.2 1652.7 1646.7 1653.2 1647.2 1652.7 1647.7 1653.1 1648.2 1652.9 1648.7 1653.2 1649.2 1653 1649.7 1653 1650.2 1652.9 1650.7 1653.1 1651.2 1653.1 1651.7 1652.9 1652.2 1652.8 1652.7 1653.3" fill="none" stroke="#B71B29" stroke-width="1.3" stroke-linejoin="round"/>
<path d="M1454.7 1652.7 1455.2 1652.5 1455.7 1652.8 1456.2 1652.9 1456.7 1653.7 1457.2 1653.1 1457.7 1653.3 1458.2 1653.5 1458.7 1653.3 1459.2 1653.5 1459.7 1652.8 1460.2 1653 1460.7 1653.4 1461.2 1653.1 1461.7 1653.3 1462.2 1652.4 1462.7 1652.6 1463.2 1652.6 1463.7 1653 1464.2 1652.8 1464.7 1653.3 1465.2 1653.4 1465.7 1653.6 1466.2 1652.4 1466.7 1652.5 1467.2 1652.9 1467.7 1653.1 1468.2 1653.2 1468.7 1653.2 1469.2 1652.9 1469.7 1653.2 1470.2 1652.8 1470.7 1653.4 1471.2 1652.7 1471.7 1653.5 1472.2 1652.8 1472.7 1653 1473.2 1652.8 1473.7 1652.8 1474.2 1653.1 1474.7 1652.9 1475.2 1653.2 1475.7 1653.4 1476.2 1653 1476.7 1652.6 1477.2 1652.9 1477.7 1652.9 1478.2 1653.2 1478.7 1652 1479.2 1653.1 1479.7 1652.8 1480.2 1653 1480.7 1653.4 1481.2 1653.3 1481.7 1652.7 1482.2 1652.9 1482.7 1653.1 1483.2 1653.1 1483.7 1653.1 1484.2 1653.6 1484.7 1653.4 1485.2 1653.6 1485.7 1652.7 1486.2 1653.3 1486.7 1653.6 1487.2 1652.6 1487.7 1653.1 1488.2 1652.9 1488.7 1652.9 1489.2 1653 1489.7 1652.6 1490.2 1652.9 1490.7 1652.7 1491.2 1653.1 1491.7 1653.2 1492.2 1653.4 1492.7 1651.4 1493.2 1649.2 1493.7 1647.1 1494.2 1644.9 1494.7 1643.7 1495.2 1642.1 1495.7 1640.7 1496.2 1640.1 1496.7 1639 1497.2 1638.8 1497.7 1637.2 1498.2 1636.8 1498.7 1636.3 1499.7 1636.3 1500 1602 1500.6 1636.8 1501.2 1634.4 1501.7 1634.2 1502.2 1634.2 1502.7 1633.5 1503.2 1633.7 1503.7 1632.9 1504.2 1633 1504.7 1632.7 1505.2 1632.7 1505.7 1631.9 1506.2 1632.3 1506.7 1632.1 1507.2 1631.7 1507.7 1632 1508.2 1631.1 1508.7 1631.7 1509.2 1631.3 1509.7 1631.6 1510.2 1631.4 1510.7 1630.6 1511.2 1630.7 1512.2 1630.7 1512.5 1602 1513.1 1631.2 1513.7 1629.8 1514.2 1630.4 1514.7 1630.1 1515.2 1630.7 1515.7 1630.6 1516.2 1630.9 1516.7 1631.1 1517.2 1631.7 1517.7 1632.1 1518.2 1631.7 1518.7 1632.5 1519.2 1632.5 1519.7 1632.7 1520.2 1632.7 1520.7 1632.6 1521.2 1633.6 1521.7 1633.4 1522.2 1633.6 1522.7 1633.9 1523.2 1634 1523.7 1634.1 1524.2 1634.4 1524.7 1634.7 1525.2 1634.5 1525.7 1634.7 1526.2 1635.1 1526.7 1634.5 1527.2 1635.1 1527.7 1634.3 1528.2 1634.8 1528.7 1634.4 1529.2 1634.7 1529.7 1635 1530.2 1635.2 1530.7 1635 1531.2 1635.4 1531.7 1635.3 1532.2 1635.6 1532.7 1634.7 1533.2 1635.7 1533.7 1635.3 1534.2 1635.1 1534.7 1635.5 1535.2 1635.9 1535.7 1635.5 1536.2 1635.1 1536.7 1636.3 1537.2 1635.6 1537.7 1636 1538.2 1635.5 1538.7 1635.7 1539.2 1635.9 1539.7 1636.2 1540.2 1635.6 1540.7 1635.8 1541.2 1635.6 1541.7 1635.4 1542.2 1636.4 1542.7 1636 1543.2 1635.6 1543.7 1635.4 1544.2 1635.1 1544.7 1635.8 1545.2 1635.7 1545.7 1635.8 1546.2 1636.2 1546.7 1636.1 1547.2 1635.7 1547.7 1635.3 1548.2 1635.5 1548.7 1635.9 1549.2 1635.5 1549.7 1635.6 1550.2 1636.3 1550.7 1636.2 1551.2 1635.8 1551.7 1636 1552.2 1636.2 1552.7 1635.8 1553.2 1636.1 1553.7 1635.8 1554.2 1636.1 1554.7 1635.4 1555.2 1635.6 1555.7 1636.4 1556.2 1636.2 1556.7 1635.4 1557.2 1636.2 1557.7 1635.9 1558.2 1636 1558.7 1635.8 1559.2 1636.5 1559.7 1635.6 1560.2 1636.1 1560.7 1636.2 1561.2 1635.5 1561.7 1635.9 1562.2 1636.3 1562.7 1635.5 1563.2 1635.8 1563.7 1636 1564.2 1636.3 1564.7 1636.1 1565.2 1635.5 1565.7 1635.6 1566.2 1635.5 1566.7 1636.4 1567.2 1635.7 1567.7 1635.8 1568.2 1636.1 1568.7 1636.1 1569.2 1636.1 1569.7 1636.4 1570.2 1636.1 1570.7 1635.7 1571.2 1636 1571.7 1636.2 1572.2 1636 1572.7 1636.1 1573.2 1636.1 1573.7 1635.7 1574.2 1636 1574.7 1635.4 1575.2 1635.9 1575.7 1636.2 1576.2 1635.4 1576.7 1635.7 1577.2 1635.5 1577.7 1635.9 1578.2 1636.4 1578.7 1635.9 1579.2 1635.8 1579.7 1636 1580.2 1635.8 1580.7 1636.1 1581.2 1636 1581.7 1635.5 1582.2 1635.5 1582.7 1635.5 1583.2 1636 1583.7 1635.5 1584.2 1636.1 1584.7 1635.9 1585.2 1635.3 1585.7 1636 1586.2 1636.2 1586.7 1636 1587.2 1635.5 1587.7 1635.9 1588.2 1636.5 1588.7 1636.7 1589.2 1635.7 1589.7 1635.9 1590.2 1635.9 1590.7 1636.2 1591.2 1636.4 1591.7 1635.9 1592.2 1636 1592.7 1635.7 1593.2 1635.5 1593.7 1636.1 1594.2 1635.4 1594.7 1635.6 1595.2 1635.8 1595.7 1636 1596.2 1635.3 1596.7 1635.9 1597.2 1635.9 1597.7 1635.9 1598.2 1635.8 1598.7 1636 1599.2 1636.3 1599.7 1635.7 1600.2 1635.6 1600.7 1635.7 1601.2 1635.5 1601.7 1635.7 1602.2 1636 1602.7 1636 1603.2 1635.7 1603.7 1635.4 1604.2 1636.1 1604.7 1636 1605.2 1636 1605.7 1636.1 1606.2 1636.4 1606.7 1636.2 1607.2 1635.6 1607.7 1635 1608.2 1635.9 1608.7 1637 1609.2 1640.6 1609.7 1643.7 1610.2 1646.2 1610.7 1647.6 1611.2 1648.9 1611.7 1650.2 1612.2 1650.8 1612.7 1651.2 1613.2 1651.9 1613.7 1652.1 1614.2 1652.4 1614.7 1652.4 1615.2 1652.6 1615.7 1652.1 1616.2 1652.7 1616.7 1653.3 1617.2 1653.6 1617.7 1653.4 1618.2 1652.8 1618.7 1652.4 1619.2 1653.2 1619.7 1653.3 1620.2 1653.5 1620.7 1653.3 1621.2 1653 1621.7 1653.4 1622.2 1653 1622.7 1653.1 1623.2 1652.6 1623.7 1653.1 1624.2 1653.4 1624.7 1652.7 1625.2 1653.1 1625.7 1652.5 1626.2 1653.3 1626.7 1653 1627.2 1652.8 1627.7 1653.3 1628.2 1653.1 1628.7 1652.8 1629.2 1653.2 1629.7 1652.9 1630.2 1653.4 1630.7 1653.3 1631.2 1652.8 1631.7 1652.7 1632.2 1652.7 1632.7 1652.8 1633.2 1652.8 1633.7 1653.5 1634.2 1653 1634.7 1652.5 1635.2 1653.1 1635.7 1653.1 1636.2 1653.4 1636.7 1653 1637.2 1652.7 1637.7 1653.1 1638.2 1653.2 1638.7 1652.6 1639.2 1652.9 1639.7 1652.7 1640.2 1653 1640.7 1652.9 1641.2 1653.1 1641.7 1652.6 1642.2 1652.5 1642.7 1652.5 1643.2 1653 1643.7 1653.7 1644.2 1653.3 1644.7 1653.2 1645.2 1652.9 1645.7 1652.9 1646.2 1652.9 1646.7 1653.4 1647.2 1653.7 1647.7 1653.5 1648.2 1653.2 1648.7 1652.8 1649.2 1652.7 1649.7 1653 1650.2 1653.1 1650.7 1653.1 1651.2 1652.9 1651.7 1653.1 1652.2 1652.2 1652.7 1653.2" fill="none" stroke="#B71B29" stroke-width="1.3" stroke-linejoin="round"/>
<text transform="translate(1303.8 1608) scale(1 1.045)">10 pA</text>
<line x1="1393.8" y1="1610.9" x2="1431.6" y2="1610.9" stroke="#050303" stroke-width="2"/>
<polyline points="1401,1610.9 1401,1592.1 1424.1,1592.1 1424.1,1610.9" fill="none" stroke="#050303" stroke-width="1.8" stroke-linejoin="miter"/>
<line x1="1401" y1="1597.7" x2="1424.1" y2="1597.7" stroke="#050303" stroke-width="1.8"/>
<polyline points="1402,1609.9 1402,1603.6 1423.1,1603.6 1423.1,1609.9" fill="none" stroke="#B71B29" stroke-width="1.8" stroke-linejoin="miter"/>
<text transform="translate(1458.8 1589) scale(1 1.045)">100 ms</text>
<polyline points="1555,1593.8 1563.2,1593.8 1563.2,1600" fill="none" stroke="#6e6e6e" stroke-width="1.5" stroke-linejoin="miter"/>
<text transform="translate(1563.5 1616.8) scale(1 1.045)">10 mV</text>
<line x1="1323.8" y1="1732.7" x2="1323.8" y2="2207.9" stroke="#050303" stroke-width="2.5"/>
<line x1="1311.5" y1="2207.9" x2="1323.8" y2="2207.9" stroke="#050303" stroke-width="2.5"/>
<text transform="translate(1304.7 2216.4) scale(1 1.045)" text-anchor="end">0</text>
<line x1="1311.5" y1="2089.4" x2="1323.8" y2="2089.4" stroke="#050303" stroke-width="2.5"/>
<text transform="translate(1304.7 2097.9) scale(1 1.045)" text-anchor="end">2</text>
<line x1="1311.5" y1="1970.9" x2="1323.8" y2="1970.9" stroke="#050303" stroke-width="2.5"/>
<text transform="translate(1304.7 1979.4) scale(1 1.045)" text-anchor="end">4</text>
<line x1="1311.5" y1="1852.4" x2="1323.8" y2="1852.4" stroke="#050303" stroke-width="2.5"/>
<text transform="translate(1304.7 1860.9) scale(1 1.045)" text-anchor="end">6</text>
<line x1="1311.5" y1="1733.9" x2="1323.8" y2="1733.9" stroke="#050303" stroke-width="2.5"/>
<text transform="translate(1304.7 1742.4) scale(1 1.045)" text-anchor="end">8</text>
<line x1="1311.6" y1="2207.9" x2="1680" y2="2207.9" stroke="#050303" stroke-width="2.5"/>
<line x1="1394.5" y1="2207.9" x2="1394.5" y2="2219.9" stroke="#050303" stroke-width="2.5"/>
<text transform="translate(1394.5 2253) scale(1 1.045)" text-anchor="middle">0</text>
<line x1="1465.5" y1="2207.9" x2="1465.5" y2="2219.9" stroke="#050303" stroke-width="2.5"/>
<text transform="translate(1465.5 2253) scale(1 1.045)" text-anchor="middle">10</text>
<line x1="1536.9" y1="2207.9" x2="1536.9" y2="2219.9" stroke="#050303" stroke-width="2.5"/>
<text transform="translate(1536.9 2253) scale(1 1.045)" text-anchor="middle">20</text>
<line x1="1607.6" y1="2207.9" x2="1607.6" y2="2219.9" stroke="#050303" stroke-width="2.5"/>
<text transform="translate(1607.6 2253) scale(1 1.045)" text-anchor="middle">30</text>
<text transform="translate(1501 2290.2) scale(1 1.045)" text-anchor="middle">Input current (pA)</text>
<text transform="translate(1270.8 1970.9) rotate(-90) scale(1 1.045)" text-anchor="middle">Firing frequency (Hz)</text>
<text transform="translate(1342.3 1752.3) scale(1 1.045)">Interaction</text>
<text transform="translate(1515.5 1752.3) scale(1 1.045)">P = 0.8547</text>
<text transform="translate(1342.3 1791.8) scale(1 1.045)">Current</text>
<text transform="translate(1515.5 1791.8) scale(1 1.045)">P = 0.0013**</text>
<text transform="translate(1342.3 1831.9) scale(1 1.045)">Genotype</text>
<text transform="translate(1515.5 1831.9) scale(1 1.045)">P = 0.8284</text>
<line x1="1465.5" y1="2123.8" x2="1465.5" y2="2158" stroke="#050303" stroke-width="2.4"/>
<line x1="1457" y1="2123.8" x2="1474" y2="2123.8" stroke="#050303" stroke-width="2.4"/>
<line x1="1457" y1="2158" x2="1474" y2="2158" stroke="#050303" stroke-width="2.4"/>
<line x1="1536.9" y1="1992.2" x2="1536.9" y2="2068.6" stroke="#050303" stroke-width="2.4"/>
<line x1="1528.4" y1="1992.2" x2="1545.4" y2="1992.2" stroke="#050303" stroke-width="2.4"/>
<line x1="1528.4" y1="2068.6" x2="1545.4" y2="2068.6" stroke="#050303" stroke-width="2.4"/>
<line x1="1607.6" y1="1967.3" x2="1607.6" y2="2015.3" stroke="#050303" stroke-width="2.4"/>
<line x1="1599.1" y1="1967.3" x2="1616.1" y2="1967.3" stroke="#050303" stroke-width="2.4"/>
<line x1="1599.1" y1="2015.3" x2="1616.1" y2="2015.3" stroke="#050303" stroke-width="2.4"/>
<line x1="1465.5" y1="2158" x2="1465.5" y2="2197.8" stroke="#050303" stroke-width="2.4"/>
<line x1="1457" y1="2158" x2="1474" y2="2158" stroke="#050303" stroke-width="2.4"/>
<line x1="1457" y1="2197.8" x2="1474" y2="2197.8" stroke="#050303" stroke-width="2.4"/>
<line x1="1536.9" y1="2008.7" x2="1536.9" y2="2140.9" stroke="#050303" stroke-width="2.4"/>
<line x1="1528.4" y1="2008.7" x2="1545.4" y2="2008.7" stroke="#050303" stroke-width="2.4"/>
<line x1="1528.4" y1="2140.9" x2="1545.4" y2="2140.9" stroke="#050303" stroke-width="2.4"/>
<line x1="1607.6" y1="1860.5" x2="1607.6" y2="2071.8" stroke="#050303" stroke-width="2.4"/>
<line x1="1599.1" y1="1860.5" x2="1616.1" y2="1860.5" stroke="#050303" stroke-width="2.4"/>
<line x1="1599.1" y1="2071.8" x2="1616.1" y2="2071.8" stroke="#050303" stroke-width="2.4"/>
<polyline points="1394.5,2207.4 1465.5,2148.2 1536.9,2030.7 1607.6,1991.3" fill="none" stroke="#050303" stroke-width="2.2" stroke-linejoin="miter"/>
<polyline points="1394.5,2207.4 1465.5,2178.1 1536.9,2075.1 1607.6,1965.9" fill="none" stroke="#050303" stroke-width="2.2" stroke-linejoin="miter"/>
<circle cx="1394.5" cy="2207.4" r="7.3" fill="#070304"/>
<circle cx="1465.5" cy="2148.2" r="7.3" fill="#070304"/>
<circle cx="1536.9" cy="2030.7" r="7.3" fill="#070304"/>
<circle cx="1607.6" cy="1991.3" r="7.3" fill="#070304"/>
<circle cx="1465.5" cy="2178.1" r="7.3" fill="#B71B29"/>
<circle cx="1536.9" cy="2075.1" r="7.3" fill="#B71B29"/>
<circle cx="1607.6" cy="1965.9" r="7.3" fill="#B71B29"/>
<line x1="1563.2" y1="2143.2" x2="1629" y2="2143.2" stroke="#050303" stroke-width="2.2"/>
<circle cx="1596.1" cy="2143.2" r="9.5" fill="#070304"/>
<text transform="translate(1637 2152.4) scale(1 1.045)">WT</text>
<line x1="1563.2" y1="2178.1" x2="1629" y2="2178.1" stroke="#050303" stroke-width="2.2"/>
<circle cx="1596.1" cy="2178.1" r="9.5" fill="#B71B29"/>
<text transform="translate(1637 2187) scale(1 1.045)">cKO</text>
</svg>
</body></html>
